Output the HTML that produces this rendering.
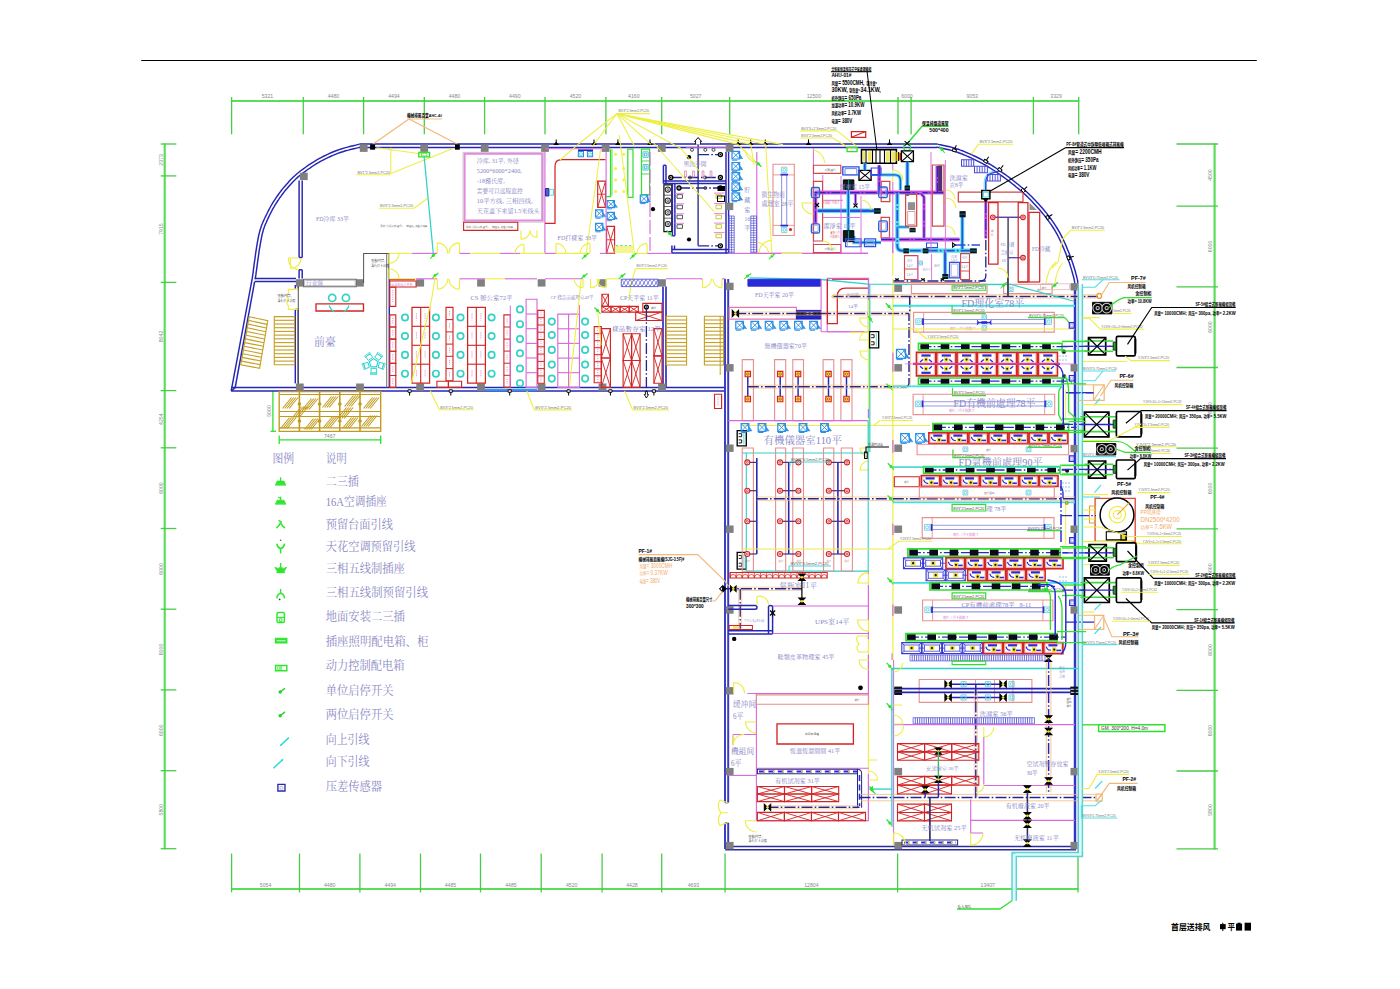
<!DOCTYPE html>
<html><head><meta charset="utf-8"><title>首层送排风平面图</title>
<style>html,body{margin:0;padding:0;background:#fff}svg{display:block}.c0{stroke:#000;stroke-width:1.23;fill:none}.c1{stroke:#5ade5a;stroke-width:2.18;fill:none}.c2{stroke:#46cc46;stroke-width:1.29;fill:none}.c3{stroke:#2fe02f;stroke-width:1.29;fill:none}.c4{stroke:#2626b4;stroke-width:1.46;fill:none}.c5{stroke:#707070;stroke-width:1.01;fill:none}.c6{stroke:#3a3ac4;stroke-width:1.79;fill:none}.c7{stroke:#3a3ac4;stroke-width:1.96;fill:none}.c8{stroke:#3434c4;stroke-width:2.46;fill:none}.c9{stroke:#2c2c98;stroke-width:1.46;fill:none}.c10{stroke:none;fill:#808080}.c11{stroke:#f2b878;stroke-width:1.12;fill:none}.c12{stroke:#f2b878;stroke-width:0.9;fill:none}.c13{stroke:none;fill:#000}.c14{stroke:#eeee44;stroke-width:1.12;fill:none}.c15{stroke:#2fe02f;stroke-width:1.34;fill:none}.c16{stroke:#2fe02f;stroke-width:0.67;fill:none}.c17{stroke:#2cd2cc;stroke-width:1.23;fill:none}.c18{stroke:none;fill:#2fe02f}.c19{stroke:#2fe02f;stroke-width:1.23;fill:none}.c20{stroke:#2fe02f;stroke-width:1.01;fill:none}.c21{stroke:#c8c8c8;stroke-width:0.9;fill:none}.c22{stroke:#e08be0;stroke-width:2.02;fill:none}.c23{stroke:#d22424;stroke-width:1.12;fill:none}.c24{stroke:#d868dc;stroke-width:1.12;fill:none}.c25{stroke:#d868dc;stroke-width:1.01;fill:none}.c26{stroke:#d22424;stroke-width:1.23;fill:none}.c27{stroke:#2a8fe6;stroke-width:1.01;fill:none}.c28{stroke:#2cd2cc;stroke-width:0.67;fill:none}.c29{stroke:#1c1c9c;stroke-width:1.46;fill:none}.c30{stroke:#1c1c9c;stroke-width:0.9;fill:#5a5ad0}.c31{stroke:#2cd2cc;stroke-width:0.78;fill:none}.c32{stroke:#d22424;stroke-width:0.9;fill:none}.c33{stroke:#2a8fe6;stroke-width:1.23;fill:none}.c34{stroke:#2a8fe6;stroke-width:0.9;fill:none}.c35{stroke:#2a8fe6;stroke-width:0.56;fill:#2a8fe6}.c36{stroke:#d868dc;stroke-width:0.9;fill:none}.c37{stroke:#2fe02f;stroke-width:0.78;fill:none}.c38{stroke:none;fill:#f4f03c}.c39{stroke:#2cd2cc;stroke-width:0.9;fill:none}.c40{stroke:#2a8fe6;stroke-width:0.67;fill:none}.c41{stroke:#2fe02f;stroke-width:0.9;fill:none}.c42{stroke:#d868dc;stroke-width:1.12;fill:none;stroke-dasharray:14 3}.c43{stroke:none;fill:#f6f690}.c44{stroke:#2cd2cc;stroke-width:0.9;fill:none;stroke-dasharray:2 2.4}.c45{stroke:#111;stroke-width:1.23;fill:none}.c46{stroke:#222;stroke-width:1.01;fill:none}.c47{stroke:#222;stroke-width:0.67;fill:none}.c48{stroke:#26268c;stroke-width:1.34;fill:none}.c49{stroke:#26268c;stroke-width:1.34;fill:none;stroke-dasharray:11 2.2 1.6 2.2}.c50{stroke:#000;stroke-width:1.34;fill:#fff}.c51{stroke:#333;stroke-width:0.9;fill:none}.c52{stroke:#e078b0;stroke-width:0.78;fill:none}.c53{stroke:#444;stroke-width:0.9;fill:none}.c54{stroke:#e078d0;stroke-width:0.9;fill:none}.c55{stroke:#c8c020;stroke-width:0.9;fill:none}.c56{stroke:#000;stroke-width:1.01;fill:#000}.c57{stroke:#000;stroke-width:1.01;fill:none}.c58{stroke:#000;stroke-width:0.9;fill:#fff}.c59{stroke:#5050d0;stroke-width:0.78;fill:none}.c60{stroke:#5050d0;stroke-width:0.67;fill:none}.c61{stroke:#000;stroke-width:0.56;fill:#000}.c62{stroke:#555;stroke-width:1.01;fill:none}.c63{stroke:#666;stroke-width:1.01;fill:none}.c64{stroke:#aaa;stroke-width:0.67;fill:none}.c65{stroke:#d22424;stroke-width:1.34;fill:none}.c66{stroke:#34d2c6;stroke-width:1.68;fill:none}.c67{stroke:#2cd2cc;stroke-width:1.12;fill:none}.c68{stroke:#c4a024;stroke-width:1.12;fill:none}.c69{stroke:#c4a024;stroke-width:1.01;fill:none}.c70{stroke:#c09a1c;stroke-width:1.34;fill:none}.c71{stroke:#c09a1c;stroke-width:1.57;fill:none}.c72{stroke:#c09a1c;stroke-width:1.23;fill:none}.c73{stroke:none;fill:#c09a1c}.c74{stroke:#c09a1c;stroke-width:1.01;fill:none}.c75{stroke:#d22424;stroke-width:1.01;fill:none}.c76{stroke:#e070c0;stroke-width:0.78;fill:none;stroke-dasharray:1.2 1}.c77{stroke:#2aa0f0;stroke-width:1.79;fill:none}.c78{stroke:#5050d0;stroke-width:0.9;fill:none}.c79{stroke:#5050d0;stroke-width:0.56;fill:none}.c80{stroke:#eeee44;stroke-width:1.01;fill:none}.c81{stroke:#2cd2cc;stroke-width:1.34;fill:none}.c82{stroke:#2a2ad8;stroke-width:0.9;fill:#2a2ad8}.c83{stroke:#e078b0;stroke-width:1.12;fill:none}.c84{stroke:#1c1cb0;stroke-width:0.9;fill:#2424c8}.c85{stroke:none;fill:#111}.c86{stroke:none;fill:#f0e020}.c87{stroke:#26268c;stroke-width:1.46;fill:none;stroke-dasharray:11 2.2 1.6 2.2}.c88{stroke:#f2b878;stroke-width:0.67;fill:none}.c89{stroke:#e89090;stroke-width:1.12;fill:none}.c90{stroke:#d22424;stroke-width:1.12;fill:#f4e23c}.c91{stroke:#c03030;stroke-width:0.67;fill:none}.c92{stroke:#d868dc;stroke-width:1.23;fill:none}.c93{stroke:#eeee44;stroke-width:1.23;fill:none}.c94{stroke:#000;stroke-width:0.9;fill:none}.c95{stroke:#2626b4;stroke-width:1.57;fill:none}.c96{stroke:#503080;stroke-width:1.23;fill:none}.c97{stroke:#d22424;stroke-width:1.12;fill:#fff}.c98{stroke:#d22424;stroke-width:0.78;fill:none}.c99{stroke:#000;stroke-width:1.12;fill:none}.c100{stroke:#d22424;stroke-width:0.67;fill:none}.c101{stroke:#000;stroke-width:1.01;fill:#fff}.c102{stroke:none;fill:#f4e23c}.c103{stroke:#e050a0;stroke-width:1.12;fill:none}.c104{stroke:#28287c;stroke-width:1.01;fill:none}.c105{stroke:#2a2ad8;stroke-width:2.02;fill:none;stroke-dasharray:6 3.4}.c106{stroke:#f0e020;stroke-width:1.34;fill:none;stroke-dasharray:1.6 7.8}.c107{stroke:#2a2ad8;stroke-width:1.57;fill:none;stroke-dasharray:6 3.4}.c108{stroke:#f2b878;stroke-width:0.78;fill:none}.c109{stroke:#2fe02f;stroke-width:0.9;fill:#2fe02f}.c110{stroke:#2fe02f;stroke-width:1.12;fill:none}.c111{stroke:#58c8d8;stroke-width:0.78;fill:none}.c112{stroke:none;fill:#e8d020}.c113{stroke:#40e0e0;stroke-width:1.9;fill:none}.c114{stroke:#444;stroke-width:1.79;fill:none}.c115{stroke:#e89090;stroke-width:0.9;fill:none}.c116{stroke:#9a9ae0;stroke-width:1.12;fill:none}.c117{stroke:#2a2ad8;stroke-width:1.79;fill:none}.c118{stroke:#2a2ad8;stroke-width:1.12;fill:none}.c119{stroke:none;fill:#2a2ad8}.c120{stroke:#2a2ad8;stroke-width:1.01;fill:none}.c121{stroke:#2a2ad8;stroke-width:1.23;fill:none}.c122{stroke:#9a9ae0;stroke-width:0.67;fill:none}.c123{stroke:#2fe02f;stroke-width:1.68;fill:none}.c124{stroke:#2a2ad0;stroke-width:1.34;fill:none;stroke-dasharray:11 2.2 1.6 2.2}.c125{stroke:none;fill:#0a0a18}.c126{stroke:#d22424;stroke-width:1.68;fill:none}.c127{stroke:#f0b0a0;stroke-width:0.78;fill:none}.c128{stroke:none;fill:#f2e030}.c129{stroke:#2a2ad8;stroke-width:1.34;fill:none}.c130{stroke:#d0205c;stroke-width:2.24;fill:none}.c131{stroke:#e070e0;stroke-width:0.78;fill:none}.c132{stroke:#1c6c1c;stroke-width:0.9;fill:#111}.c133{stroke:#2a2ad8;stroke-width:1.57;fill:none}.c134{stroke:#2cd2cc;stroke-width:1.46;fill:none}.c135{stroke:#40e0e0;stroke-width:1.68;fill:none}.c136{stroke:#3a3ad0;stroke-width:1.12;fill:none}.c137{stroke:#3a3ad0;stroke-width:0.9;fill:none}.c138{stroke:#3a3ad0;stroke-width:0.78;fill:none}.c139{stroke:#40e0e0;stroke-width:1.79;fill:none}.c140{stroke:#5a5ad8;stroke-width:0.78;fill:none}.c141{stroke:#5a5ad8;stroke-width:0.9;fill:none}.c142{stroke:#2fe02f;stroke-width:1.46;fill:none}.c143{stroke:none;fill:#e02020}.c144{stroke:#d04848;stroke-width:1.12;fill:none}.c145{stroke:#d04848;stroke-width:1.23;fill:none}.c146{stroke:#000;stroke-width:1.57;fill:#fff}.c147{stroke:none;fill:#f0e860}.c148{stroke:#000;stroke-width:1.34;fill:none}.c149{stroke:#000;stroke-width:1.08;fill:none}.c150{stroke:#50e0e8;stroke-width:3.8000000000000003;fill:none}.c151{stroke:#2a50e0;stroke-width:1.79;fill:none}.c152{stroke:#50e0e8;stroke-width:4.0;fill:none}.c153{stroke:#2a50e0;stroke-width:2.02;fill:none}.c154{stroke:#e060e0;stroke-width:4.0;fill:none}.c155{stroke:#a040d8;stroke-width:2.24;fill:none}.c156{stroke:#2828c0;stroke-width:1.12;fill:none;stroke-dasharray:11 2.2 1.6 2.2}.c157{stroke:#e060e0;stroke-width:3.8;fill:none}.c158{stroke:#a040d8;stroke-width:2.02;fill:none}.c159{stroke:#e060e0;stroke-width:3.2;fill:none}.c160{stroke:#a040d8;stroke-width:1.34;fill:none}.c161{stroke:#50e0e8;stroke-width:4.6;fill:none}.c162{stroke:#2a50e0;stroke-width:2.4;fill:none}.c163{stroke:#50e0e8;stroke-width:3.6;fill:none}.c164{stroke:#2a50e0;stroke-width:1.57;fill:none}.c165{stroke:#50e0e8;stroke-width:3.4000000000000004;fill:none}.c166{stroke:#2a50e0;stroke-width:1.34;fill:none}.c167{stroke:#50e0e8;stroke-width:3.4;fill:none}.c168{stroke:#50e0e8;stroke-width:4.2;fill:none}.c169{stroke:#2a50e0;stroke-width:1.79;fill:none;stroke-dasharray:11 2.2 1.6 2.2}.c170{stroke:#50e0e8;stroke-width:3.2;fill:none}.c171{stroke:#2a50e0;stroke-width:1.12;fill:none}.c172{stroke:#2a50e0;stroke-width:1.46;fill:none;stroke-dasharray:11 2.2 1.6 2.2}.c173{stroke:#000;stroke-width:0.9;fill:#0c1a20}.c174{stroke:#20a090;stroke-width:0.9;fill:none}.c175{stroke:none;fill:#0a1420}.c176{stroke:#1c8c7c;stroke-width:0.78;fill:none}.c177{stroke:#5a7ae8;stroke-width:0.9;fill:none}.c178{stroke:#2a50e0;stroke-width:1.23;fill:none}.c179{stroke:#9a9ae0;stroke-width:0.78;fill:none}.c180{stroke:#2a60d8;stroke-width:1.34;fill:none}.c181{stroke:none;fill:#909090}.c182{stroke:#e09090;stroke-width:0.9;fill:none}.c183{stroke:none;fill:#503070}.c184{stroke:#e060e0;stroke-width:2.5999999999999996;fill:none}.c185{stroke:#a040d8;stroke-width:0.67;fill:none}.c186{stroke:#d04848;stroke-width:1.01;fill:none}.c187{stroke:#d04848;stroke-width:0.9;fill:none}.c188{stroke:#26268c;stroke-width:1.57;fill:none;stroke-dasharray:11 2.2 1.6 2.2}.c189{stroke:#e04040;stroke-width:0.78;fill:none}.c190{stroke:#26268c;stroke-width:1.46;fill:none}.c191{stroke:#000;stroke-width:1.46;fill:#fff}.c192{stroke:#50e0e8;stroke-width:1.01;fill:none}.c193{stroke:#000;stroke-width:0.67;fill:#000}.c194{stroke:#50e0e8;stroke-width:0.9;fill:none}.c195{stroke:#4a4ad8;stroke-width:1.01;fill:none}.c196{stroke:#4a4ad8;stroke-width:0.9;fill:none}.c197{stroke:#6040a0;stroke-width:1.46;fill:none}.c198{stroke:#505068;stroke-width:1.57;fill:none}.c199{stroke:#6040a0;stroke-width:1.34;fill:none}.c200{stroke:#f0b0b0;stroke-width:0.78;fill:none}.c201{stroke:none;fill:#d8fcfc}.c202{stroke:#62c4cc;stroke-width:1.46;fill:none}.c203{stroke:#62d0d0;stroke-width:1.46;fill:none}.c204{stroke:#50e0e8;stroke-width:1.12;fill:none}.c205{stroke:#f0a040;stroke-width:1.34;fill:none}.c206{stroke:#000;stroke-width:0.9;fill:#0a0a0a}.c207{stroke:#d8d8d8;stroke-width:1.01;fill:#0a0a0a}.c208{stroke:none;fill:#bdbdbd}.c209{stroke:#000;stroke-width:1.68;fill:#fff}.c210{stroke:#3cd83c;stroke-width:1.57;fill:none}.c211{stroke:#2a2ad0;stroke-width:1.34;fill:none}.c212{stroke:#000;stroke-width:1.79;fill:none}.c213{stroke:#0c300c;stroke-width:0.9;fill:#28a028}.c214{stroke:#f2b878;stroke-width:1.23;fill:none}.c215{stroke:#f2b878;stroke-width:1.01;fill:none}.c216{stroke:#50e0e8;stroke-width:1.23;fill:none}.c217{stroke:#e04838;stroke-width:1.34;fill:none}.c218{stroke:#000;stroke-width:1.12;fill:#fff}.c219{stroke:#000;stroke-width:1.12;fill:#e8d820}.c220{stroke:#f0a040;stroke-width:1.12;fill:none}.c221{stroke:#e8a040;stroke-width:1.12;fill:none}.c222{stroke:#50e0e8;stroke-width:1.34;fill:none}.c223{stroke:#2424b8;stroke-width:1.68;fill:none}.c224{stroke:#2424b8;stroke-width:1.46;fill:none}.c225{stroke:#2424b8;stroke-width:1.46;fill:none;stroke-dasharray:11 2.2 1.6 2.2}.c226{stroke:#30c060;stroke-width:1.34;fill:none}.c227{stroke:#2424b8;stroke-width:1.34;fill:none}.c228{stroke:#303070;stroke-width:1.68;fill:none}.c229{stroke:#2a2ad8;stroke-width:2.02;fill:none;stroke-dasharray:5.4 3.2}.c230{stroke:#f0e020;stroke-width:1.34;fill:none;stroke-dasharray:1.6 7}.c231{stroke:#303070;stroke-width:1.57;fill:none}.c232{stroke:#2ee62e;stroke-width:1.34;fill:none}.c233{stroke:#2ee62e;stroke-width:0.67;fill:#2ee62e}.c234{stroke:#2ee62e;stroke-width:1.23;fill:none}.c235{stroke:#2ee62e;stroke-width:1.12;fill:none}.c236{stroke:#2ee62e;stroke-width:1.46;fill:none}.c237{stroke:none;fill:#307030}.c238{stroke:none;fill:#305030}.c239{stroke:#2ee62e;stroke-width:0.9;fill:none}.c240{stroke:#2ee62e;stroke-width:1.12;fill:#2ee62e}.c241{stroke:#e8ffe8;stroke-width:1.01;fill:none}.c242{stroke:#2ee62e;stroke-width:0.67;fill:none}.c243{stroke:none;fill:#28d028}.c244{stroke:#28d028;stroke-width:1.46;fill:none}.c245{stroke:#28d8d8;stroke-width:1.46;fill:none}.c246{stroke:none;fill:#28d8d8}.c247{stroke:#2828a8;stroke-width:1.34;fill:none}.c248{stroke:#a0a0dc;stroke-width:0.67;fill:none}.c249{stroke:#2a2ad0;stroke-width:1.46;fill:none}.c250{stroke:#2a2ad0;stroke-width:1.46;fill:none;stroke-dasharray:11 2.2 1.6 2.2}.c251{stroke:#806020;stroke-width:0.67;fill:#f0e020}.c252{stroke:#70b8e8;stroke-width:0.78;fill:none;stroke-dasharray:2 1}.c253{stroke:#40e0e0;stroke-width:1.34;fill:none}</style>
</head><body>
<svg width="1400" height="989" viewBox="0 0 1400 989" stroke-linecap="butt" fill="none">
<rect x="0" y="0" width="1400" height="989" fill="#fff"/>
<path class="c0" d="M141.2 60.5L1256.8 60.5"/>
<path class="c1" d="M231 101L1079.3 101"/>
<path class="c2" d="M231.6 97L231.6 134.3"/>
<path class="c2" d="M303.3 97L303.3 134.3"/>
<path class="c2" d="M363.6 97L363.6 134.3"/>
<path class="c2" d="M424.3 97L424.3 134.3"/>
<path class="c2" d="M484.6 97L484.6 134.3"/>
<path class="c2" d="M545 97L545 134.3"/>
<path class="c2" d="M605.9 97L605.9 134.3"/>
<path class="c2" d="M661.7 97L661.7 134.3"/>
<path class="c2" d="M729.7 97L729.7 134.3"/>
<path class="c2" d="M898 97L898 134.3"/>
<path class="c2" d="M911.1 97L911.1 134.3"/>
<path class="c2" d="M1033.4 97L1033.4 134.3"/>
<path class="c2" d="M1078.7 97L1078.7 134.3"/>
<text x="267.4" y="98.3" font-size="5.2" fill="#8a8a8a" text-anchor="middle" font-family="Liberation Sans, sans-serif">5321</text>
<text x="333.5" y="98.3" font-size="5.2" fill="#8a8a8a" text-anchor="middle" font-family="Liberation Sans, sans-serif">4480</text>
<text x="394" y="98.3" font-size="5.2" fill="#8a8a8a" text-anchor="middle" font-family="Liberation Sans, sans-serif">4494</text>
<text x="454.5" y="98.3" font-size="5.2" fill="#8a8a8a" text-anchor="middle" font-family="Liberation Sans, sans-serif">4480</text>
<text x="514.8" y="98.3" font-size="5.2" fill="#8a8a8a" text-anchor="middle" font-family="Liberation Sans, sans-serif">4490</text>
<text x="575.5" y="98.3" font-size="5.2" fill="#8a8a8a" text-anchor="middle" font-family="Liberation Sans, sans-serif">4520</text>
<text x="633.8" y="98.3" font-size="5.2" fill="#8a8a8a" text-anchor="middle" font-family="Liberation Sans, sans-serif">4160</text>
<text x="695.7" y="98.3" font-size="5.2" fill="#8a8a8a" text-anchor="middle" font-family="Liberation Sans, sans-serif">5027</text>
<text x="813.9" y="98.3" font-size="5.2" fill="#8a8a8a" text-anchor="middle" font-family="Liberation Sans, sans-serif">12500</text>
<text x="907" y="98.3" font-size="5.2" fill="#8a8a8a" text-anchor="middle" font-family="Liberation Sans, sans-serif">6000</text>
<text x="972.2" y="98.3" font-size="5.2" fill="#8a8a8a" text-anchor="middle" font-family="Liberation Sans, sans-serif">9053</text>
<text x="1056.1" y="98.3" font-size="5.2" fill="#8a8a8a" text-anchor="middle" font-family="Liberation Sans, sans-serif">3329</text>
<path class="c1" d="M231 889L1078.6 889"/>
<path class="c2" d="M231.6 853.5L231.6 892.4"/>
<path class="c2" d="M299.5 853.5L299.5 892.4"/>
<path class="c2" d="M359.9 853.5L359.9 892.4"/>
<path class="c2" d="M420.5 853.5L420.5 892.4"/>
<path class="c2" d="M480.5 853.5L480.5 892.4"/>
<path class="c2" d="M541.2 853.5L541.2 892.4"/>
<path class="c2" d="M602.1 853.5L602.1 892.4"/>
<path class="c2" d="M661.7 853.5L661.7 892.4"/>
<path class="c2" d="M725.1 853.5L725.1 892.4"/>
<path class="c2" d="M897.6 853.5L897.6 892.4"/>
<path class="c2" d="M1078 853.5L1078 892.4"/>
<text x="265.6" y="886.6" font-size="5.2" fill="#8a8a8a" text-anchor="middle" font-family="Liberation Sans, sans-serif">5054</text>
<text x="329.7" y="886.6" font-size="5.2" fill="#8a8a8a" text-anchor="middle" font-family="Liberation Sans, sans-serif">4480</text>
<text x="390.2" y="886.6" font-size="5.2" fill="#8a8a8a" text-anchor="middle" font-family="Liberation Sans, sans-serif">4494</text>
<text x="450.5" y="886.6" font-size="5.2" fill="#8a8a8a" text-anchor="middle" font-family="Liberation Sans, sans-serif">4485</text>
<text x="510.9" y="886.6" font-size="5.2" fill="#8a8a8a" text-anchor="middle" font-family="Liberation Sans, sans-serif">4485</text>
<text x="571.7" y="886.6" font-size="5.2" fill="#8a8a8a" text-anchor="middle" font-family="Liberation Sans, sans-serif">4520</text>
<text x="631.9" y="886.6" font-size="5.2" fill="#8a8a8a" text-anchor="middle" font-family="Liberation Sans, sans-serif">4428</text>
<text x="693.4" y="886.6" font-size="5.2" fill="#8a8a8a" text-anchor="middle" font-family="Liberation Sans, sans-serif">4693</text>
<text x="811.4" y="886.6" font-size="5.2" fill="#8a8a8a" text-anchor="middle" font-family="Liberation Sans, sans-serif">12804</text>
<text x="987.8" y="886.6" font-size="5.2" fill="#8a8a8a" text-anchor="middle" font-family="Liberation Sans, sans-serif">13407</text>
<path class="c1" d="M164.7 143.5L164.7 849.2"/>
<path class="c2" d="M160.7 144L176.3 144"/>
<path class="c2" d="M160.7 175.9L176.3 175.9"/>
<path class="c2" d="M160.7 282.4L176.3 282.4"/>
<path class="c2" d="M160.7 390.6L176.3 390.6"/>
<path class="c2" d="M160.7 447.8L176.3 447.8"/>
<path class="c2" d="M160.7 528.5L176.3 528.5"/>
<path class="c2" d="M160.7 609.2L176.3 609.2"/>
<path class="c2" d="M160.7 689.9L176.3 689.9"/>
<path class="c2" d="M160.7 770.7L176.3 770.7"/>
<path class="c2" d="M160.7 848.7L176.3 848.7"/>
<text transform="translate(163.2 159.9) rotate(-90)" font-size="5.2" fill="#8a8a8a" text-anchor="middle" font-family="Liberation Sans, sans-serif">2373</text>
<text transform="translate(163.2 229.1) rotate(-90)" font-size="5.2" fill="#8a8a8a" text-anchor="middle" font-family="Liberation Sans, sans-serif">7915</text>
<text transform="translate(163.2 336.5) rotate(-90)" font-size="5.2" fill="#8a8a8a" text-anchor="middle" font-family="Liberation Sans, sans-serif">8042</text>
<text transform="translate(163.2 419.2) rotate(-90)" font-size="5.2" fill="#8a8a8a" text-anchor="middle" font-family="Liberation Sans, sans-serif">4254</text>
<text transform="translate(163.2 488.1) rotate(-90)" font-size="5.2" fill="#8a8a8a" text-anchor="middle" font-family="Liberation Sans, sans-serif">6000</text>
<text transform="translate(163.2 568.9) rotate(-90)" font-size="5.2" fill="#8a8a8a" text-anchor="middle" font-family="Liberation Sans, sans-serif">6000</text>
<text transform="translate(163.2 649.5) rotate(-90)" font-size="5.2" fill="#8a8a8a" text-anchor="middle" font-family="Liberation Sans, sans-serif">6000</text>
<text transform="translate(163.2 730.3) rotate(-90)" font-size="5.2" fill="#8a8a8a" text-anchor="middle" font-family="Liberation Sans, sans-serif">6000</text>
<text transform="translate(163.2 809.7) rotate(-90)" font-size="5.2" fill="#8a8a8a" text-anchor="middle" font-family="Liberation Sans, sans-serif">5800</text>
<path class="c1" d="M1214.6 143.5L1214.6 849.4"/>
<path class="c2" d="M1176.5 144L1218 144"/>
<path class="c2" d="M1176.5 206.1L1218 206.1"/>
<path class="c2" d="M1176.5 286.8L1218 286.8"/>
<path class="c2" d="M1176.5 367.5L1218 367.5"/>
<path class="c2" d="M1176.5 448.2L1218 448.2"/>
<path class="c2" d="M1176.5 528.9L1218 528.9"/>
<path class="c2" d="M1176.5 609.6L1218 609.6"/>
<path class="c2" d="M1176.5 690.3L1218 690.3"/>
<path class="c2" d="M1176.5 771L1218 771"/>
<path class="c2" d="M1176.5 848.9L1218 848.9"/>
<text transform="translate(1212.4 175.1) rotate(-90)" font-size="5.2" fill="#8a8a8a" text-anchor="middle" font-family="Liberation Sans, sans-serif">4500</text>
<text transform="translate(1212.4 246.4) rotate(-90)" font-size="5.2" fill="#8a8a8a" text-anchor="middle" font-family="Liberation Sans, sans-serif">6000</text>
<text transform="translate(1212.4 327.1) rotate(-90)" font-size="5.2" fill="#8a8a8a" text-anchor="middle" font-family="Liberation Sans, sans-serif">6000</text>
<text transform="translate(1212.4 407.9) rotate(-90)" font-size="5.2" fill="#8a8a8a" text-anchor="middle" font-family="Liberation Sans, sans-serif">6000</text>
<text transform="translate(1212.4 488.5) rotate(-90)" font-size="5.2" fill="#8a8a8a" text-anchor="middle" font-family="Liberation Sans, sans-serif">6000</text>
<text transform="translate(1212.4 569.2) rotate(-90)" font-size="5.2" fill="#8a8a8a" text-anchor="middle" font-family="Liberation Sans, sans-serif">6000</text>
<text transform="translate(1212.4 650) rotate(-90)" font-size="5.2" fill="#8a8a8a" text-anchor="middle" font-family="Liberation Sans, sans-serif">6000</text>
<text transform="translate(1212.4 730.6) rotate(-90)" font-size="5.2" fill="#8a8a8a" text-anchor="middle" font-family="Liberation Sans, sans-serif">6000</text>
<text transform="translate(1212.4 810) rotate(-90)" font-size="5.2" fill="#8a8a8a" text-anchor="middle" font-family="Liberation Sans, sans-serif">5800</text>
<path class="c3" d="M272.9 391.3L272.9 431.3"/>
<path class="c3" d="M270.5 431.3L276 431.3"/>
<text transform="translate(270.8 411) rotate(-90)" font-size="5.2" fill="#8a8a8a" text-anchor="middle" font-family="Liberation Sans, sans-serif">5000</text>
<path class="c3" d="M279.2 439.8L380.7 439.8"/>
<path class="c3" d="M279.2 435.5L279.2 444"/>
<path class="c3" d="M380.7 435.5L380.7 444"/>
<text x="329.7" y="438" font-size="5.2" fill="#8a8a8a" text-anchor="middle" font-family="Liberation Sans, sans-serif">7467</text>
<path class="c4" d="M359.4 144.1L937.3 144.1"/>
<path class="c4" d="M359.4 147.4L937.3 147.4"/>
<path class="c4" d="M359.4 144.2L357.8 144.6L355.8 145.1L353.3 145.7L350.6 146.3L347.7 147.1L344.7 147.9L341.9 148.7L339.2 149.6L336.7 150.5L334.1 151.5L331.6 152.5L329.1 153.6L326.6 154.8L324.1 156L321.5 157.3L319 158.7L316.4 160.2L313.8 161.8L311.2 163.4L308.5 165.2L305.9 167L303.4 168.8L301 170.5L298.8 172.3L296.7 174L294.8 175.8L292.9 177.5L291.1 179.3L289.4 181.1L287.8 182.9L286.2 184.7L284.6 186.5L283 188.4L281.5 190.2L280.1 192.1L278.7 194L277.3 196L276 197.9L274.7 199.8L273.5 201.7L272.3 203.6L271.2 205.5L270.1 207.5L269.1 209.4L268.1 211.3L267.2 213.2L266.3 215L265.4 216.8L264.6 218.5L263.8 220.1L263.1 221.7L262.5 223.3L261.8 224.8L261.2 226.5L260.7 228.2L260.1 230L259.6 231.9L259.1 233.9L258.6 235.9L258.2 238L257.8 240.2L257.4 242.4L257 244.8L256.6 247.2L256.2 249.9L255.7 252.9L255.3 256L254.9 259.2L254.4 262.3L254 265.2L253.7 267.8L253.4 270L253.2 271.8L253 273.2L252.8 274.5L252.7 275.5L252.5 276.3L252.4 277L252.4 277.6L252.3 278.1L231.2 390.8"/>
<path class="c4" d="M360.2 147.2L358.6 147.6L356.5 148.1L354 148.7L351.3 149.3L348.4 150.1L345.6 150.8L342.8 151.7L340.2 152.5L337.8 153.4L335.3 154.4L332.8 155.4L330.4 156.5L327.9 157.6L325.4 158.8L323 160.1L320.5 161.4L318 162.8L315.4 164.4L312.8 166L310.3 167.8L307.7 169.5L305.3 171.3L302.9 173L300.8 174.7L298.7 176.4L296.8 178.1L295.1 179.8L293.3 181.5L291.7 183.2L290.1 184.9L288.5 186.7L287 188.5L285.4 190.3L284 192.1L282.6 194L281.2 195.9L279.8 197.7L278.6 199.6L277.3 201.5L276.1 203.4L275 205.2L273.9 207.1L272.8 208.9L271.8 210.8L270.9 212.7L269.9 214.5L269 216.4L268.2 218.1L267.4 219.8L266.7 221.4L266 223L265.3 224.5L264.7 226L264.2 227.5L263.6 229.1L263.1 230.9L262.6 232.7L262.1 234.6L261.7 236.6L261.3 238.6L260.9 240.7L260.5 242.9L260.1 245.3L259.7 247.7L259.2 250.4L258.8 253.3L258.4 256.4L257.9 259.6L257.5 262.7L257.1 265.6L256.8 268.2L256.5 270.4L256.2 272.2L256 273.7L255.9 274.9L255.7 275.9L255.6 276.7L255.5 277.4L255.4 278L255.4 278.5L254.9 279"/>
<path class="c4" d="M254.6 281.8L235.2 387.5"/>
<path class="c4" d="M937.3 144.1L938.6 144.4L940.4 144.7L942.5 145.2L944.8 145.7L947.2 146.2L949.7 146.8L952.1 147.4L954.3 148L956.4 148.7L958.4 149.3L960.4 150.1L962.4 150.8L964.4 151.6L966.4 152.5L968.4 153.3L970.4 154.2L972.4 155.1L974.4 156L976.5 157L978.5 158L980.5 159L982.5 160.1L984.6 161.2L986.6 162.3L988.6 163.5L990.6 164.7L992.6 165.9L994.6 167.2L996.6 168.5L998.6 169.9L1000.7 171.3L1002.8 172.8L1005 174.4L1007.2 176L1009.5 177.7L1011.8 179.4L1014.1 181.2L1016.3 183L1018.5 184.8L1020.6 186.5L1022.6 188.2L1024.5 189.9L1026.3 191.5L1028.1 193.2L1029.9 194.9L1031.6 196.6L1033.4 198.4L1035.2 200.3L1037 202.3L1038.9 204.3L1040.8 206.4L1042.7 208.6L1044.5 210.7L1046.3 212.9L1048 215.1L1049.7 217.3L1051.3 219.5L1052.8 221.6L1054.2 223.7L1055.6 225.8L1057 228L1058.4 230.3L1059.7 232.6L1061 235.1L1062.3 237.7L1063.7 240.5L1065 243.4L1066.3 246.4L1067.5 249.4L1068.7 252.3L1069.8 255.1L1070.8 257.7L1071.7 260.2L1072.6 262.7L1073.4 265.2L1074.1 267.5L1074.8 269.7L1075.4 271.8L1075.9 273.8L1076.4 275.5L1076.8 277L1077.1 278.4L1077.4 279.6L1077.6 280.7L1077.7 281.6L1077.8 282.4L1077.9 283L1078 283.6"/>
<path class="c4" d="M936.6 147.1L938 147.4L939.8 147.8L941.8 148.2L944.1 148.7L946.6 149.2L949 149.8L951.3 150.4L953.4 151L955.4 151.6L957.4 152.3L959.3 153L961.3 153.7L963.2 154.5L965.2 155.3L967.2 156.2L969.1 157L971.1 157.9L973.1 158.8L975.1 159.8L977.1 160.8L979.1 161.8L981.1 162.8L983.1 163.9L985.1 165L987 166.1L989 167.3L990.9 168.5L992.9 169.8L994.9 171.1L996.9 172.5L998.9 173.9L1001 175.3L1003.2 176.9L1005.4 178.5L1007.6 180.2L1009.9 181.9L1012.2 183.7L1014.4 185.4L1016.5 187.2L1018.6 188.9L1020.5 190.5L1022.4 192.2L1024.2 193.8L1026 195.4L1027.7 197.1L1029.4 198.8L1031.2 200.6L1032.9 202.4L1034.8 204.4L1036.6 206.4L1038.5 208.5L1040.3 210.6L1042.1 212.7L1043.9 214.9L1045.6 217L1047.2 219.2L1048.8 221.3L1050.2 223.4L1051.7 225.4L1053 227.5L1054.4 229.7L1055.7 231.8L1057 234.1L1058.2 236.5L1059.5 239.1L1060.8 241.8L1062.1 244.7L1063.4 247.6L1064.6 250.5L1065.8 253.4L1066.9 256.2L1067.9 258.8L1068.8 261.3L1069.7 263.7L1070.4 266.1L1071.1 268.4L1071.8 270.6L1072.4 272.7L1072.9 274.6L1073.4 276.3L1073.8 277.8L1074.1 279.1L1074.3 280.2L1074.5 281.2L1074.6 282L1074.7 282.8L1074.9 284"/>
<path class="c4" d="M231.2 387.6L725.3 387.6"/>
<path class="c4" d="M231.2 391L725.3 391"/>
<path class="c4" d="M231.2 391L235.2 387.6"/>
<path class="c4" d="M254.6 278.6L296 278.6"/>
<path class="c4" d="M254.6 281.6L296 281.6"/>
<path class="c4" d="M299.1 180.5L299.1 257.5"/>
<path class="c4" d="M302.2 180.5L302.2 257.5"/>
<path class="c4" d="M299.1 257.5L302.2 257.5"/>
<path class="c4" d="M299.1 269.8L299.1 278.6"/>
<path class="c4" d="M302.2 269.8L302.2 278.6"/>
<path class="c4" d="M299.1 269.8L302.2 269.8"/>
<path class="c4" d="M295.3 285L295.3 288.6"/>
<path class="c4" d="M298.2 285L298.2 288.6"/>
<path class="c4" d="M295.3 309.4L295.3 383.4"/>
<path class="c4" d="M298.2 309.4L298.2 383.4"/>
<path class="c4" d="M295.3 309.4L298.2 309.4"/>
<path class="c5" d="M386.7 253.4L386.7 387.6"/>
<path class="c4" d="M389.3 279L389.3 387.6"/>
<path class="c6" d="M663 286.5L663 387.6"/>
<path class="c6" d="M666 286.5L666 387.6"/>
<path class="c7" d="M725 279L725 802.6"/>
<path class="c7" d="M728.2 279L728.2 802.6"/>
<path class="c7" d="M725 822.9L725 849"/>
<path class="c7" d="M728.2 822.9L728.2 849"/>
<path class="c4" d="M725.2 802.6L728.2 802.6"/>
<path class="c4" d="M725.2 822.9L728.2 822.9"/>
<path class="c8" d="M1075 290L1075 849"/>
<path class="c9" d="M725.2 846.4L1076 846.4"/>
<path class="c9" d="M725.2 849.7L1076 849.7"/>
<path class="c4" d="M663.4 165.3L663.4 183.6"/>
<path class="c4" d="M666 165.3L666 183.6"/>
<path class="c4" d="M663.4 181L726 181"/>
<path class="c4" d="M663.4 183.6L726 183.6"/>
<path class="c4" d="M726 152L726 253.3"/>
<path class="c4" d="M728.6 152L728.6 253.3"/>
<path class="c4" d="M671.9 249.4L728.6 249.4"/>
<path class="c4" d="M671.9 253L728.6 253"/>
<path class="c4" d="M671.9 245.5L671.9 253"/>
<path class="c4" d="M674.5 245.5L674.5 249.4"/>
<path class="c4" d="M663.4 165.3L666 165.3"/>
<path class="c10" d="M359.8 144.5h7.8v7.4h-7.8z"/>
<path class="c10" d="M420.3 144.5h7.8v7.4h-7.8z"/>
<path class="c10" d="M480.8 144.5h7.8v7.4h-7.8z"/>
<path class="c10" d="M541.1 144.5h7.8v7.4h-7.8z"/>
<path class="c10" d="M601.7 144.5h7.8v7.4h-7.8z"/>
<path class="c10" d="M657.9 144.5h7.8v7.4h-7.8z"/>
<path class="c10" d="M725.7 144.5h7.8v7.4h-7.8z"/>
<path class="c10" d="M299.9 172.7h7.8v7.4h-7.8z"/>
<path class="c10" d="M295.9 279.2h7.8v7.4h-7.8z"/>
<path class="c10" d="M356.1 279.2h7.8v7.4h-7.8z"/>
<path class="c10" d="M416.3 279.2h7.8v7.4h-7.8z"/>
<path class="c10" d="M477.1 279.2h7.8v7.4h-7.8z"/>
<path class="c10" d="M537.7 279.2h7.8v7.4h-7.8z"/>
<path class="c10" d="M598.6 279.2h7.8v7.4h-7.8z"/>
<path class="c10" d="M658.1 279.2h7.8v7.4h-7.8z"/>
<path class="c10" d="M295.9 383.5h7.8v7.4h-7.8z"/>
<path class="c10" d="M356.1 383.5h7.8v7.4h-7.8z"/>
<path class="c10" d="M416.3 383.5h7.8v7.4h-7.8z"/>
<path class="c10" d="M477.1 383.5h7.8v7.4h-7.8z"/>
<path class="c10" d="M537.7 383.5h7.8v7.4h-7.8z"/>
<path class="c10" d="M598.6 383.5h7.8v7.4h-7.8z"/>
<path class="c10" d="M658.1 383.5h7.8v7.4h-7.8z"/>
<path class="c10" d="M725.8 282.7h7.8v7.4h-7.8z"/>
<path class="c10" d="M725.8 364.1h7.8v7.4h-7.8z"/>
<path class="c10" d="M725.8 444.5h7.8v7.4h-7.8z"/>
<path class="c10" d="M725.8 525.5h7.8v7.4h-7.8z"/>
<path class="c10" d="M725.8 606.3h7.8v7.4h-7.8z"/>
<path class="c10" d="M725.8 687.1h7.8v7.4h-7.8z"/>
<path class="c10" d="M725.8 767.9h7.8v7.4h-7.8z"/>
<path class="c10" d="M725.8 841.9h7.8v7.4h-7.8z"/>
<path class="c10" d="M894.3 284.5h7.8v7.4h-7.8z"/>
<path class="c10" d="M894.3 364.1h7.8v7.4h-7.8z"/>
<path class="c10" d="M894.3 444.5h7.8v7.4h-7.8z"/>
<path class="c10" d="M894.3 525.5h7.8v7.4h-7.8z"/>
<path class="c10" d="M894.3 606.3h7.8v7.4h-7.8z"/>
<path class="c10" d="M894.3 767.9h7.8v7.4h-7.8z"/>
<path class="c10" d="M894.3 841.9h7.8v7.4h-7.8z"/>
<path class="c10" d="M1070.5 283.1h7.8v7.4h-7.8z"/>
<path class="c10" d="M1070.5 364.1h7.8v7.4h-7.8z"/>
<path class="c10" d="M1070.5 444.9h7.8v7.4h-7.8z"/>
<path class="c10" d="M1070.5 525.5h7.8v7.4h-7.8z"/>
<path class="c10" d="M1070.5 606.3h7.8v7.4h-7.8z"/>
<path class="c10" d="M1070.5 767.9h7.8v7.4h-7.8z"/>
<path class="c10" d="M1070.5 841.9h7.8v7.4h-7.8z"/>
<path class="c10" d="M725.5 202.7h7.8v7.4h-7.8z"/>
<path class="c11" d="M372.5 144.5L409 119L458 144.5"/>
<path class="c12" d="M409 119L442 119"/>
<g transform="translate(407.0 117.4) scale(0.828 1)" fill="#000" stroke="none"><text x="0" y="0" font-size="4.4" font-weight="bold" font-family="Liberation Sans, Noto Sans CJK SC, sans-serif">機械排風百葉</text><text x="26.40" y="0" font-size="4.40" font-family="Liberation Sans, sans-serif" font-weight="bold" xml:space="preserve">AHC-4#</text></g>
<path class="c13" d="M370.1 144.3h5v5.4h-5z"/>
<path class="c13" d="M455 144.3h4.8v5.4h-4.8z"/>
<path class="c14" d="M376.6 147.8L424 154.3"/>
<path class="c14" d="M390.8 147.8L390.8 173.6"/>
<path class="c14" d="M390.8 173.6L453.5 148.2"/>
<path class="c14" d="M356.4 174.8L390.8 174.8"/>
<text x="357.4" y="173.6" font-size="4.2" fill="#777" text-anchor="start" font-family="Liberation Sans, sans-serif" textLength="32.4" lengthAdjust="spacingAndGlyphs">BV1*2.5mm2-PC20</text>
<path class="c14" d="M414 208.2L427.8 198"/>
<path class="c14" d="M379 208.2L414 208.2"/>
<text x="380" y="207" font-size="4.2" fill="#777" text-anchor="start" font-family="Liberation Sans, sans-serif" textLength="33" lengthAdjust="spacingAndGlyphs">BV3*2.5mm2-PC20</text>
<g transform="translate(380.3 227.0) scale(0.932 1)" fill="#222" stroke="none" font-size="2.6" font-family="Liberation Serif, Noto Serif CJK SC, serif"><text x="0" y="0">说明</text><text x="5.20" y="0" font-size="2.60" font-family="Liberation Sans, sans-serif" xml:space="preserve">: </text><text x="6.64" y="0">冷库内部</text><text x="17.04" y="0" font-size="2.60" font-family="Liberation Sans, sans-serif" xml:space="preserve"> </text><text x="17.77" y="0">插座、三相插头</text><text x="35.97" y="0" font-size="2.60" font-family="Liberation Sans, sans-serif" xml:space="preserve">, </text><text x="37.41" y="0">预留引线图</text></g>
<path class="c15" d="M418.8 152.3h10.8v4.6h-10.8z"/>
<path class="c16" d="M421.5 153.4h5.5v2.5h-5.5z"/>
<path class="c17" d="M424.2 157L433.4 254.6"/>
<circle class="c18" cx="433.2" cy="255.6" r="1.5"/>
<path class="c19" d="M433.2 255.6L436.4 252.8"/>
<path class="c20" d="M433.2 255.6L430.3 258.7"/>
<circle class="c18" cx="435" cy="275.6" r="1.5"/>
<path class="c19" d="M435 275.6L438.4 273"/>
<path class="c20" d="M435 275.6L431.9 278.5"/>
<path class="c21" d="M463 152.4h80.6v69.8h-80.6z"/>
<path class="c22" d="M464.6 153.8h77.6v66.8h-77.6z"/>
<path class="c23" d="M463.6 222.2h54.2v8.2h-54.2z"/>
<g transform="translate(466.0 227.6) scale(0.932 1)" fill="#222" stroke="none" font-size="2.6" font-family="Liberation Serif, Noto Serif CJK SC, serif"><text x="0" y="0">说明</text><text x="5.20" y="0" font-size="2.60" font-family="Liberation Sans, sans-serif" xml:space="preserve">: </text><text x="6.64" y="0">冷库内部</text><text x="17.04" y="0" font-size="2.60" font-family="Liberation Sans, sans-serif" xml:space="preserve"> </text><text x="17.77" y="0">插座、三相插头</text><text x="35.97" y="0" font-size="2.60" font-family="Liberation Sans, sans-serif" xml:space="preserve">, </text><text x="37.41" y="0">预留引线图</text></g>
<path class="c24" d="M544.9 152L544.9 253.3"/>
<path class="c25" d="M545 148.8L605 148.8"/>
<path class="c26" d="M605.5 159.7 L561.5 159.7 Q555 159.7 555 166.5 L555 223.4 L545 223.4"/>
<path class="c27" d="M578.3 151.6h5.2v5.2h-5.2z"/>
<path class="c28" d="M579.6 153h2.6v2.6h-2.6z"/>
<path class="c27" d="M587.4 151.6h5.2v5.2h-5.2z"/>
<path class="c28" d="M588.7 153h2.6v2.6h-2.6z"/>
<path class="c29" d="M578 150.2L593 150.2"/>
<path class="c30" d="M545.5 188.5h3.3v7.5h-3.3z"/>
<path class="c31" d="M549.4 189.4h4.1v5.8h-4.1z"/>
<path class="c23" d="M597.7 181.1h7.8v26.3h-7.8z"/>
<path class="c32" d="M597.7 181.1L605.5 207.4"/>
<path class="c32" d="M597.7 207.4L605.5 181.1"/>
<path class="c32" d="M597.7 194.2L605.5 194.2"/>
<path class="c23" d="M606.6 226.4h8v26.9h-8z"/>
<path class="c32" d="M606.6 226.4L614.6 253.3"/>
<path class="c32" d="M606.6 253.3L614.6 226.4"/>
<path class="c32" d="M606.6 239.8L614.6 239.8"/>
<path class="c33" d="M607.2 200.5h7.2v7.2h-7.2z"/>
<path class="c34" d="M607.2 200.5L614.4 207.7"/>
<path class="c34" d="M607.2 207.7L614.4 200.5"/>
<path class="c35" d="M612.6 200.5L617.4 207.3L615.3 207.3L614 203.7Z"/>
<path class="c27" d="M607.2 208.9L612.2 208.9"/>
<path class="c33" d="M595.6 209.8h7.2v7.2h-7.2z"/>
<path class="c34" d="M595.6 209.8L602.8 217"/>
<path class="c34" d="M595.6 217L602.8 209.8"/>
<path class="c35" d="M601 209.8L605.8 216.6L603.7 216.6L602.4 213Z"/>
<path class="c27" d="M595.6 218.2L600.6 218.2"/>
<path class="c33" d="M607.2 212.3h7.2v7.2h-7.2z"/>
<path class="c34" d="M607.2 212.3L614.4 219.5"/>
<path class="c34" d="M607.2 219.5L614.4 212.3"/>
<path class="c35" d="M612.6 212.3L617.4 219.1L615.3 219.1L614 215.5Z"/>
<path class="c27" d="M607.2 220.7L612.2 220.7"/>
<path class="c33" d="M595.6 223.4h7.2v7.2h-7.2z"/>
<path class="c34" d="M595.6 223.4L602.8 230.6"/>
<path class="c34" d="M595.6 230.6L602.8 223.4"/>
<path class="c35" d="M601 223.4L605.8 230.2L603.7 230.2L602.4 226.6Z"/>
<path class="c27" d="M595.6 231.8L600.6 231.8"/>
<path class="c24" d="M606.1 152L606.1 224"/>
<path class="c36" d="M606.1 224L606.1 253.3"/>
<path class="c15" d="M610.6 149.2L610.6 196.7L606.1 196.7"/>
<path class="c37" d="M612 149.2L612 195.3"/>
<path class="c19" d="M627.8 149.2h5.2v48.1h-5.2z"/>
<path class="c19" d="M641.5 149.2h8.1v45.4h-8.1z"/>
<circle class="c38" cx="615.6" cy="154.2" r="1.5"/>
<circle class="c38" cx="623.7" cy="154.2" r="1.5"/>
<circle class="c38" cx="615.6" cy="168.4" r="1.5"/>
<circle class="c38" cx="623.7" cy="168.4" r="1.5"/>
<circle class="c38" cx="615.6" cy="179.9" r="1.5"/>
<circle class="c38" cx="623.7" cy="179.9" r="1.5"/>
<circle class="c38" cx="615.6" cy="191.6" r="1.5"/>
<circle class="c38" cx="623.7" cy="191.6" r="1.5"/>
<path class="c39" d="M643 151.8h5.2v5.6h-5.2z"/>
<path class="c40" d="M644.4 153.2h2.4v2.8h-2.4z"/>
<path class="c39" d="M643 164.5h5.2v5.6h-5.2z"/>
<path class="c40" d="M644.4 165.9h2.4v2.8h-2.4z"/>
<path class="c41" d="M641.5 161L649.6 161"/>
<path class="c41" d="M641.5 174L649.6 174"/>
<path class="c33" d="M640.3 195h7.4v7.4h-7.4z"/>
<path class="c34" d="M640.3 195L647.7 202.4"/>
<path class="c34" d="M640.3 202.4L647.7 195"/>
<path class="c35" d="M645.9 195L650.8 202L648.6 202L647.3 198.3Z"/>
<path class="c27" d="M640.3 203.6L645.5 203.6"/>
<path class="c42" d="M650 152L650 253"/>
<path class="c43" d="M614.6 245.5h18.4v7.5h-18.4z"/>
<path class="c44" d="M616 245.6L632 245.6"/>
<circle class="c13" cx="653" cy="209.2" r="2.1"/>
<circle class="c13" cx="689" cy="157.2" r="2.1"/>
<circle class="c13" cx="689" cy="239.5" r="2.1"/>
<path class="c45" d="M663.9 184.9h7.9v46.7h-7.9z"/>
<path class="c4" d="M672.4 183.7L672.4 235.8"/>
<path class="c4" d="M674.9 183.7L674.9 235.8"/>
<path class="c4" d="M672.4 235.8L674.9 235.8"/>
<circle class="c18" cx="669.6" cy="233.4" r="1.5"/>
<path class="c19" d="M669.6 233.4L666.6 230.4"/>
<path class="c20" d="M669.6 233.4L672.3 236.7"/>
<circle class="c46" cx="667.8" cy="189.6" r="2.6"/>
<circle class="c47" cx="667.8" cy="189.6" r="1"/>
<circle class="c46" cx="667.8" cy="200.7" r="2.6"/>
<circle class="c47" cx="667.8" cy="200.7" r="1"/>
<circle class="c46" cx="667.8" cy="212.4" r="2.6"/>
<circle class="c47" cx="667.8" cy="212.4" r="1"/>
<circle class="c46" cx="667.8" cy="224" r="2.6"/>
<circle class="c47" cx="667.8" cy="224" r="1"/>
<path class="c47" d="M663.9 195.2L671.8 195.2"/>
<path class="c47" d="M663.9 206.5L671.8 206.5"/>
<path class="c47" d="M663.9 218.2L671.8 218.2"/>
<path class="c48" d="M698.1 144L698.1 245.8"/>
<path class="c49" d="M698.1 245.8L720.4 245.8"/>
<path class="c49" d="M698.1 154.6L720.4 154.6"/>
<path class="c49" d="M670.8 177.5L720.4 177.5"/>
<path class="c49" d="M679 188L720.4 188"/>
<circle class="c50" cx="670.8" cy="177.5" r="2"/>
<circle class="c13" cx="670.8" cy="177.5" r=".8"/>
<circle class="c50" cx="720.4" cy="154.6" r="2"/>
<circle class="c13" cx="720.4" cy="154.6" r=".8"/>
<circle class="c50" cx="720.4" cy="177.5" r="2"/>
<circle class="c13" cx="720.4" cy="177.5" r=".8"/>
<circle class="c50" cx="679" cy="188" r="2"/>
<circle class="c13" cx="679" cy="188" r=".8"/>
<circle class="c50" cx="720.4" cy="188" r="2"/>
<circle class="c13" cx="720.4" cy="188" r=".8"/>
<circle class="c50" cx="720.4" cy="245.8" r="2"/>
<circle class="c13" cx="720.4" cy="245.8" r=".8"/>
<circle class="c51" cx="705.3" cy="188" r="1.5"/>
<circle class="c51" cx="705.3" cy="149.8" r="1.5"/>
<circle class="c51" cx="713.5" cy="149.8" r="1.5"/>
<circle class="c51" cx="692" cy="149.8" r="1.5"/>
<circle class="c51" cx="705" cy="177.5" r="1.5"/>
<circle class="c51" cx="690" cy="177.5" r="1.5"/>
<path class="c52" d="M684.6 171h1.8v6h-1.8z"/>
<path class="c52" d="M692.6 171h1.8v6h-1.8z"/>
<path class="c52" d="M702.1 171h1.8v6h-1.8z"/>
<path class="c52" d="M710.1 171h1.8v6h-1.8z"/>
<path class="c53" d="M677 194.7h5.5v3.6h-5.5z"/>
<path class="c54" d="M674.6 193.3L684 193.3"/>
<path class="c53" d="M677 205.2h5.5v3.6h-5.5z"/>
<path class="c54" d="M674.6 203.8L684 203.8"/>
<path class="c53" d="M677 215.2h5.5v3.6h-5.5z"/>
<path class="c54" d="M674.6 213.8L684 213.8"/>
<path class="c53" d="M677 224.7h5.5v3.6h-5.5z"/>
<path class="c54" d="M674.6 223.3L684 223.3"/>
<path class="c55" d="M716 194.7h5.5v3.6h-5.5z"/>
<path class="c54" d="M714 193.1L724.5 193.1"/>
<path class="c55" d="M716 205.2h5.5v3.6h-5.5z"/>
<path class="c54" d="M714 203.6L724.5 203.6"/>
<path class="c55" d="M716 215.2h5.5v3.6h-5.5z"/>
<path class="c54" d="M714 213.6L724.5 213.6"/>
<path class="c55" d="M716 224.7h5.5v3.6h-5.5z"/>
<path class="c54" d="M714 223.1L724.5 223.1"/>
<path class="c55" d="M716 234.2h5.5v3.6h-5.5z"/>
<path class="c54" d="M714 232.6L724.5 232.6"/>
<path class="c56" d="M718 186.5h6.6v4h-6.6z"/>
<path class="c57" d="M717.5 196h7v5.5h-7z"/>
<text transform="translate(683.5 165.5) scale(0.927 1)" font-size="6.2" fill="#8886c6" font-family="Liberation Serif, Noto Serif CJK SC, serif">男洗手間</text>
<path class="c54" d="M686 147.3L727 147.3"/>
<path class="c57" d="M698.1 144.6L698.1 141.4L695.4 141.4L698.1 138.2L700.8 141.4L698.1 141.4"/>
<path class="c58" d="M695.6 144.4L695.6 141.4L694.6 141.4L698.1 137.6L701.6 141.4L700.6 141.4L700.6 144.4"/>
<path class="c33" d="M732 151.4h7.6v7.6h-7.6z"/>
<path class="c34" d="M732 151.4L739.6 159"/>
<path class="c34" d="M732 159L739.6 151.4"/>
<path class="c35" d="M737.7 151.4L742.8 158.6L740.5 158.6L739.2 154.8Z"/>
<path class="c27" d="M732 160.2L737.3 160.2"/>
<path class="c33" d="M732 162.5h7.6v7.6h-7.6z"/>
<path class="c34" d="M732 162.5L739.6 170.1"/>
<path class="c34" d="M732 170.1L739.6 162.5"/>
<path class="c35" d="M737.7 162.5L742.8 169.7L740.5 169.7L739.2 165.9Z"/>
<path class="c27" d="M732 171.3L737.3 171.3"/>
<path class="c33" d="M732 172.6h7.6v7.6h-7.6z"/>
<path class="c34" d="M732 172.6L739.6 180.2"/>
<path class="c34" d="M732 180.2L739.6 172.6"/>
<path class="c35" d="M737.7 172.6L742.8 179.8L740.5 179.8L739.2 176Z"/>
<path class="c27" d="M732 181.4L737.3 181.4"/>
<path class="c33" d="M732 182.8h7.6v7.6h-7.6z"/>
<path class="c34" d="M732 182.8L739.6 190.4"/>
<path class="c34" d="M732 190.4L739.6 182.8"/>
<path class="c35" d="M737.7 182.8L742.8 190L740.5 190L739.2 186.2Z"/>
<path class="c27" d="M732 191.6L737.3 191.6"/>
<path class="c33" d="M732 192.9h7.6v7.6h-7.6z"/>
<path class="c34" d="M732 192.9L739.6 200.5"/>
<path class="c34" d="M732 200.5L739.6 192.9"/>
<path class="c35" d="M737.7 192.9L742.8 200.1L740.5 200.1L739.2 196.3Z"/>
<path class="c27" d="M732 201.7L737.3 201.7"/>
<path class="c24" d="M756.8 152L756.8 253"/>
<path class="c59" d="M728.8 216h5.4v37h-5.4z"/>
<path class="c60" d="M731.5 216L731.5 253"/>
<path class="c60" d="M728.8 218.4L734.2 218.4"/>
<path class="c60" d="M728.8 220.8L734.2 220.8"/>
<path class="c60" d="M728.8 223.2L734.2 223.2"/>
<path class="c60" d="M728.8 225.6L734.2 225.6"/>
<path class="c60" d="M728.8 228L734.2 228"/>
<path class="c60" d="M728.8 230.4L734.2 230.4"/>
<path class="c60" d="M728.8 232.8L734.2 232.8"/>
<path class="c60" d="M728.8 235.2L734.2 235.2"/>
<path class="c60" d="M728.8 237.6L734.2 237.6"/>
<path class="c60" d="M728.8 240L734.2 240"/>
<path class="c60" d="M728.8 242.4L734.2 242.4"/>
<path class="c60" d="M728.8 244.8L734.2 244.8"/>
<path class="c60" d="M728.8 247.2L734.2 247.2"/>
<path class="c60" d="M728.8 249.6L734.2 249.6"/>
<path class="c60" d="M728.8 252L734.2 252"/>
<path class="c59" d="M750.8 216h5.8v37h-5.8z"/>
<path class="c60" d="M753.7 216L753.7 253"/>
<path class="c60" d="M750.8 218.4L756.6 218.4"/>
<path class="c60" d="M750.8 220.8L756.6 220.8"/>
<path class="c60" d="M750.8 223.2L756.6 223.2"/>
<path class="c60" d="M750.8 225.6L756.6 225.6"/>
<path class="c60" d="M750.8 228L756.6 228"/>
<path class="c60" d="M750.8 230.4L756.6 230.4"/>
<path class="c60" d="M750.8 232.8L756.6 232.8"/>
<path class="c60" d="M750.8 235.2L756.6 235.2"/>
<path class="c60" d="M750.8 237.6L756.6 237.6"/>
<path class="c60" d="M750.8 240L756.6 240"/>
<path class="c60" d="M750.8 242.4L756.6 242.4"/>
<path class="c60" d="M750.8 244.8L756.6 244.8"/>
<path class="c60" d="M750.8 247.2L756.6 247.2"/>
<path class="c60" d="M750.8 249.6L756.6 249.6"/>
<path class="c60" d="M750.8 252L756.6 252"/>
<path class="c57" d="M556.2 144.6L556.2 139.4"/>
<path class="c61" d="M554.2 144.6L558.2 144.6L556.2 142Z"/>
<path class="c57" d="M553.8 144.4L558.6 144.4"/>
<path class="c57" d="M594 144.6L594 139.4"/>
<path class="c61" d="M592 144.6L596 144.6L594 142Z"/>
<path class="c57" d="M591.6 144.4L596.4 144.4"/>
<path class="c57" d="M617.9 144.6L617.9 139.4"/>
<path class="c61" d="M615.9 144.6L619.9 144.6L617.9 142Z"/>
<path class="c57" d="M615.5 144.4L620.3 144.4"/>
<path class="c57" d="M650 144.6L650 139.4"/>
<path class="c61" d="M648 144.6L652 144.6L650 142Z"/>
<path class="c57" d="M647.6 144.4L652.4 144.4"/>
<path class="c57" d="M738.2 144.6L738.2 139.4"/>
<path class="c61" d="M736.2 144.6L740.2 144.6L738.2 142Z"/>
<path class="c57" d="M735.8 144.4L740.6 144.4"/>
<path class="c57" d="M750.7 144.6L750.7 139.4"/>
<path class="c61" d="M748.7 144.6L752.7 144.6L750.7 142Z"/>
<path class="c57" d="M748.3 144.4L753.1 144.4"/>
<path class="c57" d="M765.3 144.6L765.3 139.4"/>
<path class="c61" d="M763.3 144.6L767.3 144.6L765.3 142Z"/>
<path class="c57" d="M762.9 144.4L767.7 144.4"/>
<path class="c57" d="M808.5 144.6L808.5 139.4"/>
<path class="c61" d="M806.5 144.6L810.5 144.6L808.5 142Z"/>
<path class="c57" d="M806.1 144.4L810.9 144.4"/>
<path class="c57" d="M889.5 144.6L889.5 139.4"/>
<path class="c61" d="M887.5 144.6L891.5 144.6L889.5 142Z"/>
<path class="c57" d="M887.1 144.4L891.9 144.4"/>
<path class="c14" d="M388.8 253.4L412 253.4"/>
<path class="c24" d="M412 253.4L437 253.4"/>
<path class="c24" d="M459.5 253.4L470 253.4"/>
<path class="c14" d="M470 253.4L500 253.4"/>
<path class="c24" d="M500 253.4L520 253.4"/>
<path class="c14" d="M520 253.4L545 253.4"/>
<path class="c24" d="M545 253.4L556 253.4"/>
<path class="c14" d="M556 253.4L590 253.4"/>
<path class="c24" d="M600 253.4L606 253.4"/>
<path class="c14" d="M633 253.4L647 253.4"/>
<path class="c24" d="M647 253.4L671.9 253.4"/>
<path class="c24" d="M728.6 253.4L757 253.4"/>
<path class="c24" d="M770 253.4L800 253.4"/>
<path class="c14" d="M800 253.4L827 253.4"/>
<path class="c24" d="M827 253.4L868 253.4"/>
<path class="c14" d="M389 278.8L416 278.8"/>
<path class="c24" d="M416 278.8L437 278.8"/>
<path class="c24" d="M459.5 278.8L485 278.8"/>
<path class="c14" d="M485 278.8L505 278.8"/>
<path class="c24" d="M505 278.8L537 278.8"/>
<path class="c24" d="M545 278.8L583 278.8"/>
<path class="c14" d="M606 278.8L621 278.8"/>
<path class="c24" d="M666 278.8L700 278.8"/>
<path class="c24" d="M722 278.8L725.3 278.8"/>
<path class="c62" d="M363.6 283L363.6 253.5L388.8 253.5L388.8 278.8"/>
<g transform="translate(371.0 262.0) scale(1.091 1)" fill="#111" stroke="none"><text x="0" y="0" font-size="3" font-family="Liberation Serif, Noto Serif CJK SC, serif">電動門禁</text><text x="12.00" y="0" font-size="3.00" font-family="Liberation Sans, sans-serif" xml:space="preserve">,</text></g>
<text transform="translate(371.0 266.8)" font-size="3" fill="#111" font-family="Liberation Serif, Noto Serif CJK SC, serif">兼有打卡功能</text>
<path class="c14" d="M437.3 253.4L437.3 242.9"/>
<path class="c14" d="M437.3 242.9 A10.5 10.5 0 0 1 447.8 253.4"/>
<path class="c14" d="M459.5 253.4L459.5 242.9"/>
<path class="c14" d="M459.5 242.9 A10.5 10.5 0 0 0 449 253.4"/>
<path class="c14" d="M437.3 278.8L437.3 289.3"/>
<path class="c14" d="M437.3 289.3 A10.5 10.5 0 0 0 447.8 278.8"/>
<path class="c14" d="M459.5 278.8L459.5 289.3"/>
<path class="c14" d="M459.5 289.3 A10.5 10.5 0 0 1 449 278.8"/>
<path class="c14" d="M389 253.4L389 263.4"/>
<path class="c14" d="M389 263.4 A10 10 0 0 0 399 253.4"/>
<path class="c14" d="M389 278.8L389 268.8"/>
<path class="c14" d="M389 268.8 A10 10 0 0 1 399 278.8"/>
<path class="c14" d="M290.5 258L290.5 268.5"/>
<path class="c14" d="M290.5 268.5 A10.5 10.5 0 0 0 301 258"/>
<path class="c14" d="M299 258 L288.5 258 A10.5 10.5 0 0 0 299 269.5"/>
<path class="c14" d="M298 289.4L288.4 289.4L288.4 293L286.8 296L288.4 299L286.8 303L288.4 306L288.4 309.4L298 309.4"/>
<path class="c14" d="M590 253.4L590 243.4"/>
<path class="c14" d="M590 243.4 A10 10 0 0 0 580 253.4"/>
<path class="c14" d="M606 278.8L606 287.8"/>
<path class="c14" d="M606 287.8 A9 9 0 0 1 597 278.8"/>
<path class="c14" d="M583 278.8L583 287.8"/>
<path class="c14" d="M583 287.8 A9 9 0 0 1 574 278.8"/>
<path class="c14" d="M590.5 278.8L590.5 287.8"/>
<path class="c14" d="M590.5 287.8 A9 9 0 0 0 599.5 278.8"/>
<path class="c14" d="M647 253.4L647 243.4"/>
<path class="c14" d="M647 243.4 A10 10 0 0 0 637 253.4"/>
<path class="c14" d="M633.5 253.4L633.5 253.3"/>
<path class="c14" d="M633.5 253.3 A.1 .1 0 0 0 633.4 253.4"/>
<path class="c14" d="M556 253.4L556 243.4"/>
<path class="c14" d="M556 243.4 A10 10 0 0 1 566 253.4"/>
<path class="c14" d="M524 253.4L524 244.4"/>
<path class="c14" d="M524 244.4 A9 9 0 0 0 515 253.4"/>
<path class="c14" d="M521 230.4L521 239.4"/>
<path class="c14" d="M521 239.4 A9 9 0 0 0 530 230.4"/>
<path class="c14" d="M537 230.4L537 237.4"/>
<path class="c14" d="M537 237.4 A7 7 0 0 1 530 230.4"/>
<circle class="c18" cx="585" cy="256" r="1.5"/>
<path class="c19" d="M585 256L588.4 253.2"/>
<path class="c20" d="M585 256L581.9 259.1"/>
<circle class="c18" cx="633" cy="256" r="1.5"/>
<path class="c19" d="M633 256L636.4 253.2"/>
<path class="c20" d="M633 256L629.9 259.1"/>
<circle class="c18" cx="772" cy="256" r="1.5"/>
<path class="c19" d="M772 256L775.4 253.2"/>
<path class="c20" d="M772 256L768.9 259.1"/>
<circle class="c18" cx="584" cy="276" r="1.5"/>
<path class="c19" d="M584 276L587.6 273.4"/>
<path class="c20" d="M584 276L580.8 278.9"/>
<circle class="c18" cx="622" cy="276" r="1.5"/>
<path class="c19" d="M622 276L625.6 273.4"/>
<path class="c20" d="M622 276L618.8 278.9"/>
<circle class="c18" cx="747.5" cy="276" r="1.5"/>
<path class="c19" d="M747.5 276L751.1 273.4"/>
<path class="c20" d="M747.5 276L744.3 278.9"/>
<path class="c14" d="M635.5 268.6L667.8 268.6"/>
<text x="636.5" y="267.4" font-size="4.2" fill="#777" text-anchor="start" font-family="Liberation Sans, sans-serif" textLength="30.3" lengthAdjust="spacingAndGlyphs">BV3*2.5mm2-PC20</text>
<path class="c14" d="M635.5 268.6L631 284L629 300"/>
<path class="c14" d="M702.5 278.8L702.5 287.8"/>
<path class="c14" d="M702.5 287.8 A9 9 0 0 0 711.5 278.8"/>
<path class="c14" d="M722 278.8L722 287.8"/>
<path class="c14" d="M722 287.8 A9 9 0 0 1 713 278.8"/>
<path class="c24" d="M700 278.8L702.5 278.8"/>
<path class="c14" d="M759 253.4 A13 13 0 0 1 772 240.4"/>
<path class="c63" d="M303.6 279.3h52.6v7.4h-52.6z"/>
<path class="c64" d="M304.6 280.3h50.6v5.4h-50.6z"/>
<text transform="translate(306.0 285.2) scale(1.090 1)" font-size="5.2" fill="#8886c6" font-family="Liberation Serif, Noto Serif CJK SC, serif">行业端</text>
<path class="c62" d="M298.3 287L298.3 384"/>
<g transform="translate(277.5 297.0) scale(1.091 1)" fill="#111" stroke="none"><text x="0" y="0" font-size="3" font-family="Liberation Serif, Noto Serif CJK SC, serif">電動門禁</text><text x="12.00" y="0" font-size="3.00" font-family="Liberation Sans, sans-serif" xml:space="preserve">,</text></g>
<text transform="translate(277.5 301.6)" font-size="3" fill="#111" font-family="Liberation Serif, Noto Serif CJK SC, serif">兼有打卡功能</text>
<path class="c65" d="M316 303.8h47.5v7.2h-47.5z"/>
<circle class="c66" cx="332.2" cy="297.9" r="3.6"/>
<circle class="c66" cx="345.9" cy="297.9" r="3.6"/>
<path class="c17" d="M329.2 305.5 Q331 310.5 334.5 311.8"/>
<path class="c17" d="M349 305.5 Q347.2 310.5 343.6 311.8"/>
<path class="c67" d="M373.7 358.6L378.1 361.8L376.4 366.9L371 366.9L369.3 361.8Z"/>
<rect x="-2.7" y="-2.2" width="5.4" height="4.4" stroke="#2cd2cc" stroke-width="0.9" fill="none" transform="translate(378.2 357.1) rotate(36)"/>
<rect x="-3.2" y="-3.6" width="6.4" height="1.4" stroke="#2cd2cc" stroke-width="0.7" fill="none" transform="translate(378.2 357.1) rotate(36)"/>
<rect x="-2.7" y="-2.2" width="5.4" height="4.4" stroke="#2cd2cc" stroke-width="0.9" fill="none" transform="translate(380.9 365.5) rotate(108)"/>
<rect x="-3.2" y="-3.6" width="6.4" height="1.4" stroke="#2cd2cc" stroke-width="0.7" fill="none" transform="translate(380.9 365.5) rotate(108)"/>
<rect x="-2.7" y="-2.2" width="5.4" height="4.4" stroke="#2cd2cc" stroke-width="0.9" fill="none" transform="translate(373.7 370.8) rotate(180)"/>
<rect x="-3.2" y="-3.6" width="6.4" height="1.4" stroke="#2cd2cc" stroke-width="0.7" fill="none" transform="translate(373.7 370.8) rotate(180)"/>
<rect x="-2.7" y="-2.2" width="5.4" height="4.4" stroke="#2cd2cc" stroke-width="0.9" fill="none" transform="translate(366.5 365.5) rotate(252)"/>
<rect x="-3.2" y="-3.6" width="6.4" height="1.4" stroke="#2cd2cc" stroke-width="0.7" fill="none" transform="translate(366.5 365.5) rotate(252)"/>
<rect x="-2.7" y="-2.2" width="5.4" height="4.4" stroke="#2cd2cc" stroke-width="0.9" fill="none" transform="translate(369.2 357.1) rotate(324)"/>
<rect x="-3.2" y="-3.6" width="6.4" height="1.4" stroke="#2cd2cc" stroke-width="0.7" fill="none" transform="translate(369.2 357.1) rotate(324)"/>
<path class="c68" d="M274.3 316.6h20.3v48.2h-20.3z"/>
<path class="c68" d="M274.3 320.3L294.6 320.3"/>
<path class="c68" d="M274.3 324L294.6 324"/>
<path class="c68" d="M274.3 327.7L294.6 327.7"/>
<path class="c68" d="M274.3 331.4L294.6 331.4"/>
<path class="c68" d="M274.3 335.1L294.6 335.1"/>
<path class="c68" d="M274.3 338.8L294.6 338.8"/>
<path class="c68" d="M274.3 342.6L294.6 342.6"/>
<path class="c68" d="M274.3 346.3L294.6 346.3"/>
<path class="c68" d="M274.3 350L294.6 350"/>
<path class="c68" d="M274.3 353.7L294.6 353.7"/>
<path class="c68" d="M274.3 357.4L294.6 357.4"/>
<path class="c68" d="M274.3 361.1L294.6 361.1"/>
<path class="c68" d="M249.2 316.7L267.8 320.7L259.6 368.3L240.8 364.8Z"/>
<path class="c68" d="M248.6 320.4L267.2 324.4"/>
<path class="c68" d="M247.9 324.1L266.5 328"/>
<path class="c68" d="M247.3 327.8L265.9 331.7"/>
<path class="c68" d="M246.6 331.5L265.3 335.3"/>
<path class="c68" d="M246 335.2L264.6 339"/>
<path class="c68" d="M245.3 338.9L264 342.7"/>
<path class="c68" d="M244.7 342.6L263.4 346.3"/>
<path class="c68" d="M244 346.3L262.8 350"/>
<path class="c68" d="M243.4 350L262.1 353.7"/>
<path class="c68" d="M242.7 353.7L261.5 357.3"/>
<path class="c68" d="M242.1 357.4L260.9 361"/>
<path class="c68" d="M241.4 361.1L260.2 364.6"/>
<path class="c68" d="M666.4 316.2h20.2v48.8h-20.2z"/>
<path class="c68" d="M666.4 320L686.6 320"/>
<path class="c68" d="M666.4 323.7L686.6 323.7"/>
<path class="c68" d="M666.4 327.5L686.6 327.5"/>
<path class="c68" d="M666.4 331.2L686.6 331.2"/>
<path class="c68" d="M666.4 335L686.6 335"/>
<path class="c68" d="M666.4 338.7L686.6 338.7"/>
<path class="c68" d="M666.4 342.5L686.6 342.5"/>
<path class="c68" d="M666.4 346.2L686.6 346.2"/>
<path class="c68" d="M666.4 350L686.6 350"/>
<path class="c68" d="M666.4 353.7L686.6 353.7"/>
<path class="c68" d="M666.4 357.5L686.6 357.5"/>
<path class="c68" d="M666.4 361.2L686.6 361.2"/>
<path class="c68" d="M704.4 316.2h19.2v48.8h-19.2z"/>
<path class="c68" d="M704.4 320L723.6 320"/>
<path class="c68" d="M704.4 323.7L723.6 323.7"/>
<path class="c68" d="M704.4 327.5L723.6 327.5"/>
<path class="c68" d="M704.4 331.2L723.6 331.2"/>
<path class="c68" d="M704.4 335L723.6 335"/>
<path class="c68" d="M704.4 338.7L723.6 338.7"/>
<path class="c68" d="M704.4 342.5L723.6 342.5"/>
<path class="c68" d="M704.4 346.2L723.6 346.2"/>
<path class="c68" d="M704.4 350L723.6 350"/>
<path class="c68" d="M704.4 353.7L723.6 353.7"/>
<path class="c68" d="M704.4 357.5L723.6 357.5"/>
<path class="c68" d="M704.4 361.2L723.6 361.2"/>
<path class="c69" d="M720.2 316L720.2 375"/>
<path class="c70" d="M279.2 391.6h101.5v39.7h-101.5z"/>
<path class="c71" d="M299.4 391.6L299.4 431.3"/>
<path class="c71" d="M319.6 391.6L319.6 431.3"/>
<path class="c71" d="M339.8 391.6L339.8 431.3"/>
<path class="c71" d="M360 391.6L360 431.3"/>
<path class="c72" d="M279.2 394.5L380.7 394.5"/>
<path class="c72" d="M279.2 411.5L380.7 411.5"/>
<path class="c72" d="M279.2 416.5L380.7 416.5"/>
<path class="c72" d="M279.2 427.8L380.7 427.8"/>
<circle class="c73" cx="299.4" cy="404" r="1.8"/>
<circle class="c73" cx="299.4" cy="421" r="1.8"/>
<circle class="c73" cx="319.6" cy="404" r="1.8"/>
<circle class="c73" cx="319.6" cy="421" r="1.8"/>
<circle class="c73" cx="339.8" cy="404" r="1.8"/>
<circle class="c73" cx="339.8" cy="421" r="1.8"/>
<circle class="c73" cx="360" cy="404" r="1.8"/>
<circle class="c73" cx="360" cy="421" r="1.8"/>
<path class="c74" d="M282.5 408.5L291.5 397.5"/>
<path class="c74" d="M284.7 408.5L293.7 397.5"/>
<path class="c74" d="M286.9 408.5L295.9 397.5"/>
<path class="c74" d="M289.1 408.5L298.1 397.5"/>
<path class="c74" d="M302.5 409.5L311.5 398.5"/>
<path class="c74" d="M304.7 409.5L313.7 398.5"/>
<path class="c74" d="M306.9 409.5L315.9 398.5"/>
<path class="c74" d="M309.1 409.5L318.1 398.5"/>
<path class="c74" d="M322.5 407.5L331.5 396.5"/>
<path class="c74" d="M324.7 407.5L333.7 396.5"/>
<path class="c74" d="M326.9 407.5L335.9 396.5"/>
<path class="c74" d="M329.1 407.5L338.1 396.5"/>
<path class="c74" d="M344.5 406.5L353.5 395.5"/>
<path class="c74" d="M346.7 406.5L355.7 395.5"/>
<path class="c74" d="M348.9 406.5L357.9 395.5"/>
<path class="c74" d="M351.1 406.5L360.1 395.5"/>
<path class="c74" d="M363.5 408.5L372.5 397.5"/>
<path class="c74" d="M365.7 408.5L374.7 397.5"/>
<path class="c74" d="M367.9 408.5L376.9 397.5"/>
<path class="c74" d="M370.1 408.5L379.1 397.5"/>
<path class="c74" d="M280.5 428.5L289.5 417.5"/>
<path class="c74" d="M282.7 428.5L291.7 417.5"/>
<path class="c74" d="M284.9 428.5L293.9 417.5"/>
<path class="c74" d="M287.1 428.5L296.1 417.5"/>
<path class="c74" d="M304.5 429.5L313.5 418.5"/>
<path class="c74" d="M306.7 429.5L315.7 418.5"/>
<path class="c74" d="M308.9 429.5L317.9 418.5"/>
<path class="c74" d="M311.1 429.5L320.1 418.5"/>
<path class="c74" d="M323.5 427.5L332.5 416.5"/>
<path class="c74" d="M325.7 427.5L334.7 416.5"/>
<path class="c74" d="M327.9 427.5L336.9 416.5"/>
<path class="c74" d="M330.1 427.5L339.1 416.5"/>
<path class="c74" d="M342.5 428.5L351.5 417.5"/>
<path class="c74" d="M344.7 428.5L353.7 417.5"/>
<path class="c74" d="M346.9 428.5L355.9 417.5"/>
<path class="c74" d="M349.1 428.5L358.1 417.5"/>
<path class="c74" d="M361.5 426.5L370.5 415.5"/>
<path class="c74" d="M363.7 426.5L372.7 415.5"/>
<path class="c74" d="M365.9 426.5L374.9 415.5"/>
<path class="c74" d="M368.1 426.5L377.1 415.5"/>
<path class="c74" d="M292.5 417.5L301.5 406.5"/>
<path class="c74" d="M294.7 417.5L303.7 406.5"/>
<path class="c74" d="M296.9 417.5L305.9 406.5"/>
<path class="c74" d="M299.1 417.5L308.1 406.5"/>
<path class="c74" d="M337.5 418.5L346.5 407.5"/>
<path class="c74" d="M339.7 418.5L348.7 407.5"/>
<path class="c74" d="M341.9 418.5L350.9 407.5"/>
<path class="c74" d="M344.1 418.5L353.1 407.5"/>
<path class="c75" d="M389.3 279.8L415 279.8"/>
<path class="c23" d="M389.8 281h26.3v6h-26.3z"/>
<text transform="translate(391.0 285.6) scale(0.982 1)" font-size="3.2" fill="#c050c0" font-family="Liberation Serif, Noto Serif CJK SC, serif">南北双面文件柜</text>
<path class="c23" d="M389.8 287.2h6v19.2h-6z"/>
<path class="c23" d="M389.8 314.9h6v12.1h-6z"/>
<path class="c23" d="M389.8 327h6v12.1h-6z"/>
<path class="c23" d="M389.8 339.1h6v12.2h-6z"/>
<path class="c23" d="M389.8 351.3h6v12.1h-6z"/>
<path class="c23" d="M389.8 363.4h6v12.1h-6z"/>
<path class="c23" d="M389.8 375.5h6v11.9h-6z"/>
<path class="c76" d="M392.8 317.9L392.8 323.9"/>
<path class="c76" d="M392.8 330L392.8 336"/>
<path class="c76" d="M392.8 342.1L392.8 348.1"/>
<path class="c76" d="M392.8 354.3L392.8 360.3"/>
<path class="c76" d="M392.8 366.4L392.8 372.4"/>
<path class="c76" d="M392.8 378.5L392.8 384.5"/>
<path class="c76" d="M392.8 290L392.8 302"/>
<path class="c26" d="M412 307.4h17.6v75.8h-17.6z"/>
<path class="c23" d="M420.7 307.4L420.7 383.2"/>
<path class="c23" d="M412 326.3L429.6 326.3"/>
<path class="c23" d="M412 345.3L429.6 345.3"/>
<path class="c23" d="M412 364.2L429.6 364.2"/>
<path class="c76" d="M416.4 313.4L416.4 320.4"/>
<path class="c76" d="M425.1 313.4L425.1 320.4"/>
<path class="c76" d="M416.4 332.3L416.4 339.3"/>
<path class="c76" d="M425.1 332.3L425.1 339.3"/>
<path class="c76" d="M416.4 351.3L416.4 358.3"/>
<path class="c76" d="M425.1 351.3L425.1 358.3"/>
<path class="c76" d="M416.4 370.2L416.4 377.2"/>
<path class="c76" d="M425.1 370.2L425.1 377.2"/>
<path class="c26" d="M467.6 307.4h17.8v75.8h-17.8z"/>
<path class="c23" d="M476.3 307.4L476.3 383.2"/>
<path class="c23" d="M467.6 326.3L485.4 326.3"/>
<path class="c23" d="M467.6 345.3L485.4 345.3"/>
<path class="c23" d="M467.6 364.2L485.4 364.2"/>
<path class="c76" d="M472 313.4L472 320.4"/>
<path class="c76" d="M480.9 313.4L480.9 320.4"/>
<path class="c76" d="M472 332.3L472 339.3"/>
<path class="c76" d="M480.9 332.3L480.9 339.3"/>
<path class="c76" d="M472 351.3L472 358.3"/>
<path class="c76" d="M480.9 351.3L480.9 358.3"/>
<path class="c76" d="M472 370.2L472 377.2"/>
<path class="c76" d="M480.9 370.2L480.9 377.2"/>
<path class="c23" d="M446 307.4h7v73.4h-7z"/>
<path class="c75" d="M446 319.6L453 319.6"/>
<path class="c75" d="M446 331.9L453 331.9"/>
<path class="c75" d="M446 344.1L453 344.1"/>
<path class="c75" d="M446 356.3L453 356.3"/>
<path class="c75" d="M446 368.6L453 368.6"/>
<path class="c76" d="M449.5 311L449.5 316"/>
<path class="c76" d="M449.5 323.2L449.5 328.2"/>
<path class="c76" d="M449.5 335.5L449.5 340.5"/>
<path class="c76" d="M449.5 347.7L449.5 352.7"/>
<path class="c76" d="M449.5 359.9L449.5 364.9"/>
<path class="c76" d="M449.5 372.2L449.5 377.2"/>
<path class="c23" d="M436.9 381.2h11.5v6.2h-11.5z"/>
<path class="c23" d="M448.4 381.2h13.2v6.2h-13.2z"/>
<circle class="c66" cx="405" cy="317.5" r="3.2"/>
<circle class="c66" cx="405" cy="336.1" r="3.2"/>
<circle class="c66" cx="405" cy="354.9" r="3.2"/>
<circle class="c66" cx="405" cy="373.7" r="3.2"/>
<circle class="c66" cx="435.9" cy="317.5" r="3.2"/>
<circle class="c66" cx="435.9" cy="336.1" r="3.2"/>
<circle class="c66" cx="435.9" cy="354.9" r="3.2"/>
<circle class="c66" cx="435.9" cy="373.7" r="3.2"/>
<circle class="c66" cx="460.5" cy="317.5" r="3.2"/>
<circle class="c66" cx="460.5" cy="336.1" r="3.2"/>
<circle class="c66" cx="460.5" cy="354.9" r="3.2"/>
<circle class="c66" cx="460.5" cy="373.7" r="3.2"/>
<circle class="c66" cx="491.6" cy="317.5" r="3.2"/>
<circle class="c66" cx="491.6" cy="336.1" r="3.2"/>
<circle class="c66" cx="491.6" cy="354.9" r="3.2"/>
<circle class="c66" cx="491.6" cy="373.7" r="3.2"/>
<g transform="translate(470.5 299.5) scale(1.047 1)" fill="#8886c6" stroke="none" font-size="6.2" font-family="Liberation Serif, Noto Serif CJK SC, serif"><text x="0.00" y="0" font-size="6.20" font-family="Liberation Serif, sans-serif" xml:space="preserve">CS </text><text x="9.13" y="0">辦公室</text><text x="27.73" y="0" font-size="6.20" font-family="Liberation Serif, sans-serif" xml:space="preserve">72</text><text x="33.93" y="0">平</text></g>
<path class="c14" d="M435.3 276L431.5 300L411.5 383"/>
<path class="c14" d="M430.2 390.5L439.3 409.7"/>
<path class="c14" d="M439.3 409.7L473.7 409.7"/>
<text x="440.3" y="408.5" font-size="4.2" fill="#777" text-anchor="start" font-family="Liberation Sans, sans-serif" textLength="32.4" lengthAdjust="spacingAndGlyphs">BV3*2.5mm2-PC20</text>
<path class="c77" d="M484.8 389.9L537 389.9"/>
<path class="c57" d="M409.6 389.5L409.6 395.5"/>
<path class="c58" d="M408 389.8h3.2v2.5h-3.2z"/>
<path class="c57" d="M450.8 389.5L450.8 395.5"/>
<path class="c58" d="M449.2 389.8h3.2v2.5h-3.2z"/>
<path class="c57" d="M509.7 389.5L509.7 395.5"/>
<path class="c58" d="M508.1 389.8h3.2v2.5h-3.2z"/>
<path class="c57" d="M568.6 389.5L568.6 395.5"/>
<path class="c58" d="M567 389.8h3.2v2.5h-3.2z"/>
<path class="c57" d="M610.4 389.5L610.4 395.5"/>
<path class="c58" d="M608.8 389.8h3.2v2.5h-3.2z"/>
<path class="c57" d="M653.9 389.5L653.9 395.5"/>
<path class="c58" d="M652.3 389.8h3.2v2.5h-3.2z"/>
<path class="c23" d="M503.9 314.9h6.4v72.5h-6.4z"/>
<path class="c75" d="M503.9 327L510.3 327"/>
<path class="c75" d="M503.9 339.1L510.3 339.1"/>
<path class="c75" d="M503.9 351.1L510.3 351.1"/>
<path class="c75" d="M503.9 363.2L510.3 363.2"/>
<path class="c75" d="M503.9 375.3L510.3 375.3"/>
<path class="c76" d="M507.1 318.4L507.1 323.4"/>
<path class="c76" d="M507.1 330.5L507.1 335.5"/>
<path class="c76" d="M507.1 342.6L507.1 347.6"/>
<path class="c76" d="M507.1 354.7L507.1 359.7"/>
<path class="c76" d="M507.1 366.8L507.1 371.8"/>
<path class="c76" d="M507.1 378.9L507.1 383.9"/>
<path class="c25" d="M510.3 305.4L510.3 387.4"/>
<path class="c24" d="M526.1 299.3h10.9v88.1h-10.9z"/>
<path class="c24" d="M526.1 314L537 314"/>
<path class="c24" d="M526.1 328.7L537 328.7"/>
<path class="c24" d="M526.1 343.4L537 343.4"/>
<path class="c24" d="M526.1 358L537 358"/>
<path class="c24" d="M526.1 372.7L537 372.7"/>
<path class="c23" d="M537.8 310.4h6.5v72.8h-6.5z"/>
<path class="c75" d="M537.8 317.7L544.3 317.7"/>
<path class="c75" d="M537.8 325L544.3 325"/>
<path class="c75" d="M537.8 332.2L544.3 332.2"/>
<path class="c75" d="M537.8 339.5L544.3 339.5"/>
<path class="c75" d="M537.8 346.8L544.3 346.8"/>
<path class="c75" d="M537.8 354.1L544.3 354.1"/>
<path class="c75" d="M537.8 361.4L544.3 361.4"/>
<path class="c75" d="M537.8 368.6L544.3 368.6"/>
<path class="c75" d="M537.8 375.9L544.3 375.9"/>
<path class="c76" d="M541 311.5L541 316.5"/>
<path class="c76" d="M541 318.8L541 323.8"/>
<path class="c76" d="M541 326.1L541 331.1"/>
<path class="c76" d="M541 333.4L541 338.4"/>
<path class="c76" d="M541 340.7L541 345.7"/>
<path class="c76" d="M541 347.9L541 352.9"/>
<path class="c76" d="M541 355.2L541 360.2"/>
<path class="c76" d="M541 362.5L541 367.5"/>
<path class="c76" d="M541 369.8L541 374.8"/>
<path class="c76" d="M541 377.1L541 382.1"/>
<path class="c24" d="M557.8 314.1h21.7v73.3h-21.7z"/>
<path class="c24" d="M568.6 314.1L568.6 387.4"/>
<path class="c24" d="M557.8 328.8L579.5 328.8"/>
<path class="c24" d="M557.8 343.4L579.5 343.4"/>
<path class="c24" d="M557.8 358.1L579.5 358.1"/>
<path class="c24" d="M557.8 372.7L579.5 372.7"/>
<path class="c36" d="M579.5 305L579.5 387.4"/>
<circle class="c66" cx="520" cy="309.4" r="3.2"/>
<circle class="c66" cx="520" cy="324.2" r="3.2"/>
<circle class="c66" cx="520" cy="339.1" r="3.2"/>
<circle class="c66" cx="520" cy="353.3" r="3.2"/>
<circle class="c66" cx="520" cy="368.5" r="3.2"/>
<circle class="c66" cx="520" cy="383.2" r="3.2"/>
<circle class="c66" cx="551.8" cy="321.6" r="3.2"/>
<circle class="c66" cx="585.1" cy="321.6" r="3.2"/>
<circle class="c66" cx="551.8" cy="335.1" r="3.2"/>
<circle class="c66" cx="585.1" cy="335.1" r="3.2"/>
<circle class="c66" cx="551.8" cy="349.9" r="3.2"/>
<circle class="c66" cx="585.1" cy="349.9" r="3.2"/>
<circle class="c66" cx="551.8" cy="364.6" r="3.2"/>
<circle class="c66" cx="585.1" cy="364.6" r="3.2"/>
<circle class="c66" cx="551.8" cy="378.6" r="3.2"/>
<circle class="c66" cx="585.1" cy="378.6" r="3.2"/>
<g transform="translate(550.5 299.0) scale(0.987 1)" fill="#8886c6" stroke="none" font-size="4.6" font-family="Liberation Serif, Noto Serif CJK SC, serif"><text x="0.00" y="0" font-size="4.60" font-family="Liberation Serif, sans-serif" xml:space="preserve">CP </text><text x="6.78" y="0">樣品前處理室</text><text x="34.38" y="0" font-size="4.60" font-family="Liberation Serif, sans-serif" xml:space="preserve">49</text><text x="38.98" y="0">平</text></g>
<path class="c23" d="M594.2 326.6h7.1v56.2h-7.1z"/>
<path class="c75" d="M594.2 333.6L601.3 333.6"/>
<path class="c75" d="M594.2 340.7L601.3 340.7"/>
<path class="c75" d="M594.2 347.7L601.3 347.7"/>
<path class="c75" d="M594.2 354.7L601.3 354.7"/>
<path class="c75" d="M594.2 361.7L601.3 361.7"/>
<path class="c75" d="M594.2 368.8L601.3 368.8"/>
<path class="c75" d="M594.2 375.8L601.3 375.8"/>
<path class="c76" d="M597.8 327.6L597.8 332.6"/>
<path class="c76" d="M597.8 334.6L597.8 339.6"/>
<path class="c76" d="M597.8 341.7L597.8 346.7"/>
<path class="c76" d="M597.8 348.7L597.8 353.7"/>
<path class="c76" d="M597.8 355.7L597.8 360.7"/>
<path class="c76" d="M597.8 362.7L597.8 367.7"/>
<path class="c76" d="M597.8 369.8L597.8 374.8"/>
<path class="c76" d="M597.8 376.8L597.8 381.8"/>
<path class="c23" d="M601.3 328.6h9.1v29.4h-9.1z"/>
<path class="c32" d="M601.3 328.6L610.4 358"/>
<path class="c32" d="M601.3 358L610.4 328.6"/>
<path class="c23" d="M601.3 358h9.1v29.4h-9.1z"/>
<path class="c32" d="M601.3 358L610.4 387.4"/>
<path class="c32" d="M601.3 387.4L610.4 358"/>
<path class="c23" d="M623.1 333.7h8.5v26.8h-8.5z"/>
<path class="c32" d="M623.1 333.7L631.6 360.5"/>
<path class="c32" d="M623.1 360.5L631.6 333.7"/>
<path class="c23" d="M623.1 360.5h8.5v26.9h-8.5z"/>
<path class="c32" d="M623.1 360.5L631.6 387.4"/>
<path class="c32" d="M623.1 387.4L631.6 360.5"/>
<path class="c23" d="M631.6 333.7h8.5v26.8h-8.5z"/>
<path class="c32" d="M631.6 333.7L640.1 360.5"/>
<path class="c32" d="M631.6 360.5L640.1 333.7"/>
<path class="c23" d="M631.6 360.5h8.5v26.9h-8.5z"/>
<path class="c32" d="M631.6 360.5L640.1 387.4"/>
<path class="c32" d="M631.6 387.4L640.1 360.5"/>
<path class="c23" d="M653.9 328.6h8.1v27.3h-8.1z"/>
<path class="c32" d="M653.9 328.6L662 355.9"/>
<path class="c32" d="M653.9 355.9L662 328.6"/>
<path class="c23" d="M653.9 355.9h8.1v27.3h-8.1z"/>
<path class="c32" d="M653.9 355.9L662 383.2"/>
<path class="c32" d="M653.9 383.2L662 355.9"/>
<path class="c23" d="M601.9 294.3h6.5v12.1h-6.5z"/>
<path class="c32" d="M601.9 294.3L608.4 306.4"/>
<path class="c32" d="M601.9 306.4L608.4 294.3"/>
<path class="c23" d="M601.9 306.4h9.1v5.7h-9.1z"/>
<path class="c32" d="M601.9 306.4L611 312.1"/>
<path class="c32" d="M601.9 312.1L611 306.4"/>
<path class="c23" d="M611 306.4h9.1v5.7h-9.1z"/>
<path class="c32" d="M611 306.4L620.1 312.1"/>
<path class="c32" d="M611 312.1L620.1 306.4"/>
<path class="c23" d="M620.1 306.4h9.1v5.7h-9.1z"/>
<path class="c32" d="M620.1 306.4L629.2 312.1"/>
<path class="c32" d="M620.1 312.1L629.2 306.4"/>
<path class="c23" d="M629.2 306.4h9.1v5.7h-9.1z"/>
<path class="c32" d="M629.2 306.4L638.3 312.1"/>
<path class="c32" d="M629.2 312.1L638.3 306.4"/>
<path class="c23" d="M635.7 312.1h26.3v8.4h-26.3z"/>
<path class="c32" d="M635.7 312.1L662 320.5"/>
<path class="c32" d="M635.7 320.5L662 312.1"/>
<path class="c23" d="M642.8 303.4h19.2v8.7h-19.2z"/>
<circle class="c50" cx="646.4" cy="307" r="1.9"/>
<circle class="c13" cx="646.4" cy="307" r=".8"/>
<text transform="translate(651.0 308.5)" font-size="2.8" fill="#111" font-family="Liberation Serif, Noto Serif CJK SC, serif">備件</text>
<path class="c49" d="M646.4 309L646.4 391.3"/>
<path class="c58" d="M646.4 398L644.3 394.5L645.4 394.5L645.4 391.5L647.4 391.5L647.4 394.5L648.5 394.5Z"/>
<g transform="translate(620.0 299.6)" fill="#8886c6" stroke="none" font-size="6" font-family="Liberation Serif, Noto Serif CJK SC, serif"><text x="0.00" y="0" font-size="6.00" font-family="Liberation Serif, sans-serif" xml:space="preserve">CP</text><text x="7.34" y="0">天平室</text><text x="25.34" y="0" font-size="6.00" font-family="Liberation Serif, sans-serif" xml:space="preserve"> 11</text><text x="32.84" y="0">平</text></g>
<g transform="translate(612.0 330.6) scale(1.126 1)" fill="#8886c6" stroke="none" font-size="6" font-family="Liberation Serif, Noto Serif CJK SC, serif"><text x="0" y="0">樣品暫存室</text><text x="30.00" y="0" font-size="6.00" font-family="Liberation Serif, sans-serif" xml:space="preserve"> 12</text><text x="37.50" y="0">平</text></g>
<path class="c78" d="M621.3 279.2h36.7v7.4h-36.7z"/>
<path class="c59" d="M622 286.4L626 279.4"/>
<path class="c79" d="M622 279.4L626 286.4"/>
<path class="c59" d="M626 286.4L630 279.4"/>
<path class="c79" d="M626 279.4L630 286.4"/>
<path class="c59" d="M630 286.4L634 279.4"/>
<path class="c79" d="M630 279.4L634 286.4"/>
<path class="c59" d="M634 286.4L638 279.4"/>
<path class="c79" d="M634 279.4L638 286.4"/>
<path class="c59" d="M638 286.4L642 279.4"/>
<path class="c79" d="M638 279.4L642 286.4"/>
<path class="c59" d="M642 286.4L646 279.4"/>
<path class="c79" d="M642 279.4L646 286.4"/>
<path class="c59" d="M646 286.4L650 279.4"/>
<path class="c79" d="M646 279.4L650 286.4"/>
<path class="c59" d="M650 286.4L654 279.4"/>
<path class="c79" d="M650 279.4L654 286.4"/>
<path class="c59" d="M654 286.4L658 279.4"/>
<path class="c79" d="M654 279.4L658 286.4"/>
<path class="c14" d="M581.1 280L578 310L569.5 386"/>
<path class="c80" d="M597.6 310L599.5 330L601 345"/>
<circle class="c18" cx="597.6" cy="310.5" r="1.5"/>
<path class="c19" d="M597.6 310.5L594.4 307.5"/>
<path class="c20" d="M597.6 310.5L600.5 313.8"/>
<path class="c14" d="M526.9 391L534.2 409.9"/>
<path class="c14" d="M534.2 409.9L572 409.9"/>
<text x="535.2" y="408.7" font-size="4.2" fill="#777" text-anchor="start" font-family="Liberation Sans, sans-serif" textLength="35.8" lengthAdjust="spacingAndGlyphs">BV3*2.5mm2-PC20</text>
<path class="c14" d="M624.6 391L632.6 409.9"/>
<path class="c14" d="M632.6 409.9L669 409.9"/>
<text x="633.6" y="408.7" font-size="4.2" fill="#777" text-anchor="start" font-family="Liberation Sans, sans-serif" textLength="34.4" lengthAdjust="spacingAndGlyphs">BV3*2.5mm2-PC20</text>
<path class="c23" d="M714.5 394.3h7.1v14.2h-7.1z"/>
<path class="c76" d="M718 397L718 406"/>
<path class="c81" d="M749.6 277.8L821 279.5L868 284.2L1011 284.5"/>
<path class="c82" d="M747.9 279.3h72.8v6.9h-72.8z"/>
<path class="c24" d="M821.1 279L821.1 331.7"/>
<path class="c24" d="M821.1 331.7L868.6 331.7"/>
<path class="c83" d="M729.1 307.4h67.3v11.7h-67.3z"/>
<path class="c84" d="M796.4 310.4h24.3v8.7h-24.3z"/>
<path class="c85" d="M796.4 312h24.3v3h-24.3z"/>
<path class="c86" d="M806.3 312.2h2.4v2.6h-2.4z"/>
<path class="c86" d="M810.3 312.2h2.4v2.6h-2.4z"/>
<path class="c87" d="M735.2 313.5L909 313.5"/>
<path class="c88" d="M735.2 312L909 312"/>
<path class="c88" d="M735.2 315L909 315"/>
<path class="c56" d="M732.2 310.3L732.2 316.7L738.6 310.3L738.6 316.7Z"/>
<circle class="c86" cx="735.4" cy="313.5" r="1.3"/>
<path class="c33" d="M735.8 321.4h7.6v7.6h-7.6z"/>
<path class="c34" d="M735.8 321.4L743.4 329"/>
<path class="c34" d="M735.8 329L743.4 321.4"/>
<path class="c35" d="M741.5 321.4L746.6 328.6L744.3 328.6L743 324.8Z"/>
<path class="c27" d="M735.8 330.2L741.1 330.2"/>
<path class="c33" d="M751 321.4h7.6v7.6h-7.6z"/>
<path class="c34" d="M751 321.4L758.6 329"/>
<path class="c34" d="M751 329L758.6 321.4"/>
<path class="c35" d="M756.7 321.4L761.8 328.6L759.5 328.6L758.2 324.8Z"/>
<path class="c27" d="M751 330.2L756.3 330.2"/>
<path class="c33" d="M765.3 321.4h7.6v7.6h-7.6z"/>
<path class="c34" d="M765.3 321.4L772.9 329"/>
<path class="c34" d="M765.3 329L772.9 321.4"/>
<path class="c35" d="M771 321.4L776.1 328.6L773.8 328.6L772.5 324.8Z"/>
<path class="c27" d="M765.3 330.2L770.6 330.2"/>
<path class="c33" d="M779.9 321.4h7.6v7.6h-7.6z"/>
<path class="c34" d="M779.9 321.4L787.5 329"/>
<path class="c34" d="M779.9 329L787.5 321.4"/>
<path class="c35" d="M785.6 321.4L790.7 328.6L788.4 328.6L787.1 324.8Z"/>
<path class="c27" d="M779.9 330.2L785.2 330.2"/>
<path class="c33" d="M794.6 321.4h7.6v7.6h-7.6z"/>
<path class="c34" d="M794.6 321.4L802.2 329"/>
<path class="c34" d="M794.6 329L802.2 321.4"/>
<path class="c35" d="M800.3 321.4L805.4 328.6L803.1 328.6L801.8 324.8Z"/>
<path class="c27" d="M794.6 330.2L799.9 330.2"/>
<path class="c33" d="M809.8 321.4h7.6v7.6h-7.6z"/>
<path class="c34" d="M809.8 321.4L817.4 329"/>
<path class="c34" d="M809.8 329L817.4 321.4"/>
<path class="c35" d="M815.5 321.4L820.6 328.6L818.3 328.6L817 324.8Z"/>
<path class="c27" d="M809.8 330.2L815.1 330.2"/>
<g transform="translate(755.0 297.0) scale(1.030 1)" fill="#8886c6" stroke="none" font-size="5.8" font-family="Liberation Serif, Noto Serif CJK SC, serif"><text x="0.00" y="0" font-size="5.80" font-family="Liberation Serif, sans-serif" xml:space="preserve">FD</text><text x="7.41" y="0">天平室</text><text x="24.81" y="0" font-size="5.80" font-family="Liberation Serif, sans-serif" xml:space="preserve"> 20</text><text x="32.06" y="0">平</text></g>
<g transform="translate(764.5 348.0) scale(1.047 1)" fill="#8886c6" stroke="none" font-size="5.8" font-family="Liberation Serif, Noto Serif CJK SC, serif"><text x="0" y="0">無機儀器室</text><text x="29.00" y="0" font-size="5.80" font-family="Liberation Serif, sans-serif" xml:space="preserve">70</text><text x="34.80" y="0">平</text></g>
<path class="c24" d="M827.2 278.4h41.4v53.3h-41.4z"/>
<path class="c26" d="M827.4 279 L827.4 323.6 L837.3 323.6 L837.3 296.5 Q837.3 288.2 845.6 288.2 L868.4 288.2"/>
<path class="c32" d="M868.4 279.4 L832 279.4"/>
<text transform="translate(846.0 296.5)" font-size="4.2" fill="#8886c6" font-family="Liberation Serif, Noto Serif CJK SC, serif">淋浴間</text>
<g transform="translate(848.0 307.5)" fill="#8886c6" stroke="none"><text x="0.00" y="0" font-size="5.00" font-family="Liberation Serif, sans-serif" xml:space="preserve">14</text><text x="5.00" y="0" font-size="5" font-family="Liberation Serif, Noto Serif CJK SC, serif">平</text></g>
<path class="c89" d="M742.2 359.6h11.2v61h-11.2z"/>
<path class="c4" d="M747.8 374.1L747.8 399"/>
<path class="c90" d="M745.1 371.4h5.4v5.4h-5.4z"/>
<circle class="c91" cx="747.8" cy="374.1" r="1.2"/>
<path class="c90" d="M745.1 396.3h5.4v5.4h-5.4z"/>
<circle class="c91" cx="747.8" cy="399" r="1.2"/>
<path class="c89" d="M774.6 359.6h11.1v61h-11.1z"/>
<path class="c4" d="M780.2 374.1L780.2 399"/>
<path class="c90" d="M777.5 371.4h5.4v5.4h-5.4z"/>
<circle class="c91" cx="780.2" cy="374.1" r="1.2"/>
<path class="c90" d="M777.5 396.3h5.4v5.4h-5.4z"/>
<circle class="c91" cx="780.2" cy="399" r="1.2"/>
<path class="c89" d="M792.8 359.6h10.7v61h-10.7z"/>
<path class="c4" d="M798.1 374.1L798.1 399"/>
<path class="c90" d="M795.4 371.4h5.4v5.4h-5.4z"/>
<circle class="c91" cx="798.1" cy="374.1" r="1.2"/>
<path class="c90" d="M795.4 396.3h5.4v5.4h-5.4z"/>
<circle class="c91" cx="798.1" cy="399" r="1.2"/>
<path class="c89" d="M823.1 359.6h10.7v61h-10.7z"/>
<path class="c4" d="M828.5 374.1L828.5 399"/>
<path class="c90" d="M825.8 371.4h5.4v5.4h-5.4z"/>
<circle class="c91" cx="828.5" cy="374.1" r="1.2"/>
<path class="c90" d="M825.8 396.3h5.4v5.4h-5.4z"/>
<circle class="c91" cx="828.5" cy="399" r="1.2"/>
<path class="c89" d="M840.9 359.6h11.1v61h-11.1z"/>
<path class="c4" d="M846.5 374.1L846.5 399"/>
<path class="c90" d="M843.8 371.4h5.4v5.4h-5.4z"/>
<circle class="c91" cx="846.5" cy="374.1" r="1.2"/>
<path class="c90" d="M843.8 396.3h5.4v5.4h-5.4z"/>
<circle class="c91" cx="846.5" cy="399" r="1.2"/>
<path class="c87" d="M747.8 386.7L905 386.7"/>
<path class="c88" d="M747.8 385.2L905 385.2"/>
<path class="c88" d="M747.8 388.2L905 388.2"/>
<path class="c87" d="M905 386.7 Q909 386.7 909 382.7 L909 313.5"/>
<path class="c88" d="M905 388.2 Q910.6 388.2 910.6 382.7 L910.6 300"/>
<path class="c24" d="M728.2 420.6L868.6 420.6"/>
<path class="c92" d="M868.4 279L868.4 331.7"/>
<path class="c93" d="M868.4 300L868.4 409"/>
<path class="c92" d="M868.4 409L868.4 418"/>
<path class="c93" d="M868.4 418L868.4 452.7"/>
<path class="c92" d="M868.4 571L868.4 574"/>
<path class="c93" d="M868.4 574L868.4 585"/>
<path class="c92" d="M868.4 585L868.4 620"/>
<path class="c93" d="M868.4 620L868.4 631.5"/>
<path class="c92" d="M868.4 631.5L868.4 639"/>
<path class="c93" d="M868.4 639L868.4 654.6"/>
<path class="c92" d="M868.4 654.6L868.4 704.6"/>
<path class="c93" d="M868.4 704.6L868.4 773.8"/>
<path class="c92" d="M868.4 773.8L868.4 820.8"/>
<path class="c14" d="M850 332.4L868 332.4"/>
<path class="c14" d="M742 425.5L930 425.5"/>
<path class="c14" d="M873.6 425.5L880 420.5"/>
<path class="c17" d="M869.8 284L869.8 452"/>
<path class="c93" d="M892.9 279L892.9 660"/>
<path class="c92" d="M892.9 352.7L892.9 371.8"/>
<path class="c92" d="M892.9 440L892.9 452.7"/>
<path class="c92" d="M892.9 523.8L892.9 535"/>
<path class="c92" d="M892.9 604.6L892.9 616"/>
<path class="c25" d="M893.6 660L893.6 845"/>
<path class="c14" d="M868.6 318 L859.5 318 A9 9 0 0 0 868.6 327"/>
<path class="c14" d="M868.6 340 L859.5 340 A9 9 0 0 1 868.6 331"/>
<path class="c14" d="M868.6 351 L860 351 A9 9 0 0 0 868.6 360"/>
<path class="c14" d="M868.6 448 L860 448 A9 9 0 0 0 868.6 457"/>
<path class="c14" d="M868.6 470 L860 470 A9 9 0 0 1 868.6 461"/>
<path class="c50" d="M869.6 331.7h9.1v16.1h-9.1z"/>
<path class="c94" d="M871.1 334.7 h3 v3 h-3 M871.1 341.8 h3 v3 h-3"/>
<path class="c31" d="M876.3 333.2L876.3 346.3"/>
<path class="c50" d="M737.2 430.7h9.1v15.2h-9.1z"/>
<path class="c94" d="M738.7 433.7 h3 v3 h-3 M738.7 439.9 h3 v3 h-3"/>
<path class="c31" d="M743.9 432.2L743.9 444.4"/>
<path class="c50" d="M737.2 552.4h9.1v16.8h-9.1z"/>
<path class="c94" d="M738.7 555.4 h3 v3 h-3 M738.7 563.2 h3 v3 h-3"/>
<path class="c31" d="M743.9 553.9L743.9 567.7"/>
<path class="c33" d="M896.5 349.4h9v9h-9z"/>
<path class="c34" d="M896.5 349.4L905.5 358.4"/>
<path class="c34" d="M896.5 358.4L905.5 349.4"/>
<path class="c35" d="M903.2 349.4L909.3 357.9L906.6 357.9L905 353.4Z"/>
<path class="c27" d="M896.5 359.6L902.8 359.6"/>
<path class="c33" d="M741.2 423.7h7.6v7.6h-7.6z"/>
<path class="c34" d="M741.2 423.7L748.8 431.3"/>
<path class="c34" d="M741.2 431.3L748.8 423.7"/>
<path class="c35" d="M746.9 423.7L752 430.9L749.7 430.9L748.4 427.1Z"/>
<path class="c27" d="M741.2 432.5L746.5 432.5"/>
<path class="c33" d="M758.2 423.7h7.6v7.6h-7.6z"/>
<path class="c34" d="M758.2 423.7L765.8 431.3"/>
<path class="c34" d="M758.2 431.3L765.8 423.7"/>
<path class="c35" d="M763.9 423.7L769 430.9L766.7 430.9L765.4 427.1Z"/>
<path class="c27" d="M758.2 432.5L763.5 432.5"/>
<path class="c33" d="M777.8 423.7h7.6v7.6h-7.6z"/>
<path class="c34" d="M777.8 423.7L785.4 431.3"/>
<path class="c34" d="M777.8 431.3L785.4 423.7"/>
<path class="c35" d="M783.5 423.7L788.6 430.9L786.3 430.9L785 427.1Z"/>
<path class="c27" d="M777.8 432.5L783.1 432.5"/>
<path class="c33" d="M799.2 423.7h7.6v7.6h-7.6z"/>
<path class="c34" d="M799.2 423.7L806.8 431.3"/>
<path class="c34" d="M799.2 431.3L806.8 423.7"/>
<path class="c35" d="M804.9 423.7L810 430.9L807.7 430.9L806.4 427.1Z"/>
<path class="c27" d="M799.2 432.5L804.5 432.5"/>
<path class="c33" d="M820.7 423.7h7.6v7.6h-7.6z"/>
<path class="c34" d="M820.7 423.7L828.3 431.3"/>
<path class="c34" d="M820.7 431.3L828.3 423.7"/>
<path class="c35" d="M826.4 423.7L831.5 430.9L829.2 430.9L827.9 427.1Z"/>
<path class="c27" d="M820.7 432.5L826 432.5"/>
<path class="c67" d="M742 453L868.2 453"/>
<path class="c67" d="M746.3 453L746.3 571.2"/>
<path class="c17" d="M746.3 571.2L868.2 571.2"/>
<path class="c67" d="M868.2 420.6L868.2 571.2"/>
<path class="c89" d="M742.2 448h11.2v123.2h-11.2z"/>
<path class="c89" d="M775.6 448h10.1v123.2h-10.1z"/>
<path class="c89" d="M792.8 448h10.7v123.2h-10.7z"/>
<path class="c89" d="M823.5 448h10.3v123.2h-10.3z"/>
<path class="c89" d="M841.3 448h11.1v123.2h-11.1z"/>
<path class="c95" d="M756.8 458L756.8 554"/>
<path class="c96" d="M747.3 462.4L756.8 462.4"/>
<circle class="c97" cx="747.3" cy="462.4" r="2.5"/>
<circle class="c98" cx="747.3" cy="462.4" r="1"/>
<path class="c96" d="M747.3 490.7L756.8 490.7"/>
<circle class="c97" cx="747.3" cy="490.7" r="2.5"/>
<circle class="c98" cx="747.3" cy="490.7" r="1"/>
<path class="c96" d="M747.3 521.3L756.8 521.3"/>
<circle class="c97" cx="747.3" cy="521.3" r="2.5"/>
<circle class="c98" cx="747.3" cy="521.3" r="1"/>
<path class="c96" d="M747.3 554L756.8 554"/>
<circle class="c97" cx="747.3" cy="554" r="2.5"/>
<circle class="c98" cx="747.3" cy="554" r="1"/>
<path class="c95" d="M788.7 462.4L788.7 554"/>
<path class="c96" d="M780 462.4L798.4 462.4"/>
<circle class="c97" cx="780" cy="462.4" r="2.5"/>
<circle class="c98" cx="780" cy="462.4" r="1"/>
<circle class="c97" cx="798.4" cy="462.4" r="2.5"/>
<circle class="c98" cx="798.4" cy="462.4" r="1"/>
<path class="c96" d="M780 490.7L798.4 490.7"/>
<circle class="c97" cx="780" cy="490.7" r="2.5"/>
<circle class="c98" cx="780" cy="490.7" r="1"/>
<circle class="c97" cx="798.4" cy="490.7" r="2.5"/>
<circle class="c98" cx="798.4" cy="490.7" r="1"/>
<path class="c96" d="M780 521.3L798.4 521.3"/>
<circle class="c97" cx="780" cy="521.3" r="2.5"/>
<circle class="c98" cx="780" cy="521.3" r="1"/>
<circle class="c97" cx="798.4" cy="521.3" r="2.5"/>
<circle class="c98" cx="798.4" cy="521.3" r="1"/>
<path class="c96" d="M780 554L798.4 554"/>
<circle class="c97" cx="780" cy="554" r="2.5"/>
<circle class="c98" cx="780" cy="554" r="1"/>
<circle class="c97" cx="798.4" cy="554" r="2.5"/>
<circle class="c98" cx="798.4" cy="554" r="1"/>
<path class="c95" d="M837.9 462.4L837.9 554"/>
<path class="c96" d="M828.8 462.4L847 462.4"/>
<circle class="c97" cx="828.8" cy="462.4" r="2.5"/>
<circle class="c98" cx="828.8" cy="462.4" r="1"/>
<circle class="c97" cx="847" cy="462.4" r="2.5"/>
<circle class="c98" cx="847" cy="462.4" r="1"/>
<path class="c96" d="M828.8 490.7L847 490.7"/>
<circle class="c97" cx="828.8" cy="490.7" r="2.5"/>
<circle class="c98" cx="828.8" cy="490.7" r="1"/>
<circle class="c97" cx="847" cy="490.7" r="2.5"/>
<circle class="c98" cx="847" cy="490.7" r="1"/>
<path class="c96" d="M828.8 521.3L847 521.3"/>
<circle class="c97" cx="828.8" cy="521.3" r="2.5"/>
<circle class="c98" cx="828.8" cy="521.3" r="1"/>
<circle class="c97" cx="847" cy="521.3" r="2.5"/>
<circle class="c98" cx="847" cy="521.3" r="1"/>
<path class="c96" d="M828.8 554L847 554"/>
<circle class="c97" cx="828.8" cy="554" r="2.5"/>
<circle class="c98" cx="828.8" cy="554" r="1"/>
<circle class="c97" cx="847" cy="554" r="2.5"/>
<circle class="c98" cx="847" cy="554" r="1"/>
<path class="c87" d="M756.8 498.8L1075 498.8"/>
<path class="c88" d="M756.8 497L1075 497"/>
<path class="c88" d="M756.8 500.6L1075 500.6"/>
<path class="c14" d="M742 549L892.9 549"/>
<g transform="translate(763.5 443.8) scale(0.987 1)" fill="#8886c6" stroke="none" font-size="10.6" font-family="Liberation Serif, Noto Serif CJK SC, serif"><text x="0" y="0">有機儀器室</text><text x="53.00" y="0" font-size="10.60" font-family="Liberation Serif, sans-serif" xml:space="preserve">110</text><text x="68.90" y="0">平</text></g>
<path class="c39" d="M790 466L790 462L830 462"/>
<text x="791" y="461.2" font-size="3.6" fill="#666" text-anchor="start" font-family="Liberation Sans, sans-serif" textLength="38" lengthAdjust="spacingAndGlyphs">BVV3*0.5mm2-PC20</text>
<path class="c39" d="M789 571L789 566L831 566"/>
<text x="790.5" y="565" font-size="3.6" fill="#666" text-anchor="start" font-family="Liberation Sans, sans-serif" textLength="38" lengthAdjust="spacingAndGlyphs">BVV3*0.5mm2-PC20</text>
<text transform="translate(745.5 561.5)" font-size="2.4" fill="#a05050" font-family="Liberation Serif, Noto Serif CJK SC, serif">備件</text>
<text transform="translate(778.5 561.5)" font-size="2.4" fill="#a05050" font-family="Liberation Serif, Noto Serif CJK SC, serif">備件</text>
<text transform="translate(796.5 561.5)" font-size="2.4" fill="#a05050" font-family="Liberation Serif, Noto Serif CJK SC, serif">備件</text>
<text transform="translate(826.5 561.5)" font-size="2.4" fill="#a05050" font-family="Liberation Serif, Noto Serif CJK SC, serif">備件</text>
<text transform="translate(844.5 561.5)" font-size="2.4" fill="#a05050" font-family="Liberation Serif, Noto Serif CJK SC, serif">備件</text>
<path class="c99" d="M866 453L866 447L889 447"/>
<path class="c57" d="M864.6 452h2.6v6.5h-2.6z"/>
<text transform="translate(868.0 445.5)" font-size="3" fill="#111" font-family="Liberation Serif, Noto Serif CJK SC, serif">空調控制箱</text>
<path class="c14" d="M881 420.5L913 420.5"/>
<text x="882" y="419.3" font-size="4.2" fill="#777" text-anchor="start" font-family="Liberation Sans, sans-serif" textLength="30" lengthAdjust="spacingAndGlyphs">YJV3*2.5mm2-PC20</text>
<path class="c75" d="M730.1 572.6h97.1v5.3h-97.1z"/>
<path class="c98" d="M730.1 577.9 A3 3.4 0 0 1 736.2 577.9"/>
<path class="c100" d="M730.1 572.6L730.1 577.9"/>
<path class="c98" d="M736.2 577.9 A3 3.4 0 0 1 742.2 577.9"/>
<path class="c100" d="M736.2 572.6L736.2 577.9"/>
<path class="c98" d="M742.2 577.9 A3 3.4 0 0 1 748.3 577.9"/>
<path class="c100" d="M742.2 572.6L742.2 577.9"/>
<path class="c98" d="M748.3 577.9 A3 3.4 0 0 1 754.4 577.9"/>
<path class="c100" d="M748.3 572.6L748.3 577.9"/>
<path class="c98" d="M754.4 577.9 A3 3.4 0 0 1 760.5 577.9"/>
<path class="c100" d="M754.4 572.6L754.4 577.9"/>
<path class="c98" d="M760.5 577.9 A3 3.4 0 0 1 766.5 577.9"/>
<path class="c100" d="M760.5 572.6L760.5 577.9"/>
<path class="c98" d="M766.5 577.9 A3 3.4 0 0 1 772.6 577.9"/>
<path class="c100" d="M766.5 572.6L766.5 577.9"/>
<path class="c98" d="M772.6 577.9 A3 3.4 0 0 1 778.7 577.9"/>
<path class="c100" d="M772.6 572.6L772.6 577.9"/>
<path class="c98" d="M778.7 577.9 A3 3.4 0 0 1 784.7 577.9"/>
<path class="c100" d="M778.7 572.6L778.7 577.9"/>
<path class="c98" d="M784.7 577.9 A3 3.4 0 0 1 790.8 577.9"/>
<path class="c100" d="M784.7 572.6L784.7 577.9"/>
<path class="c98" d="M790.8 577.9 A3 3.4 0 0 1 796.9 577.9"/>
<path class="c100" d="M790.8 572.6L790.8 577.9"/>
<path class="c98" d="M796.9 577.9 A3 3.4 0 0 1 802.9 577.9"/>
<path class="c100" d="M796.9 572.6L796.9 577.9"/>
<path class="c98" d="M802.9 577.9 A3 3.4 0 0 1 809 577.9"/>
<path class="c100" d="M802.9 572.6L802.9 577.9"/>
<path class="c98" d="M809 577.9 A3 3.4 0 0 1 815.1 577.9"/>
<path class="c100" d="M809 572.6L809 577.9"/>
<path class="c98" d="M815.1 577.9 A3 3.4 0 0 1 821.2 577.9"/>
<path class="c100" d="M815.1 572.6L815.1 577.9"/>
<path class="c98" d="M821.2 577.9 A3 3.4 0 0 1 827.2 577.9"/>
<path class="c100" d="M821.2 572.6L821.2 577.9"/>
<g transform="translate(779.6 588.0) scale(1.011 1)" fill="#8886c6" stroke="none" font-size="7.4" font-family="Liberation Serif, Noto Serif CJK SC, serif"><text x="0" y="0">氣瓶室</text><text x="22.20" y="0" font-size="7.40" font-family="Liberation Serif, sans-serif" xml:space="preserve">11</text><text x="29.60" y="0">平</text></g>
<path class="c87" d="M724 588.8L801.9 588.8"/>
<path class="c88" d="M733 587.2L801.9 587.2"/>
<path class="c88" d="M733 590.4L801.9 590.4"/>
<path class="c0" d="M801.9 577L801.9 601.5"/>
<path class="c56" d="M798.7 574L805.1 574L798.7 580.4L805.1 580.4Z"/>
<circle class="c86" cx="801.9" cy="577.2" r="1.3"/>
<path class="c56" d="M798.7 598.1L805.1 598.1L798.7 604.5L805.1 604.5Z"/>
<circle class="c86" cx="801.9" cy="601.3" r="1.3"/>
<path class="c56" d="M730.5 586L730.5 591.6L736.1 586L736.1 591.6Z"/>
<circle class="c86" cx="733.3" cy="588.8" r="1.3"/>
<path class="c101" d="M719.6 588.8L722.4 586L722.4 591.6Z"/>
<path class="c56" d="M726 588.8L723.2 586L723.2 591.6Z"/>
<path class="c49" d="M740.2 588.8L740.2 628.8"/>
<path class="c88" d="M738.7 590L738.7 628.8"/>
<path class="c88" d="M741.7 590L741.7 628.8"/>
<path class="c4" d="M728.2 605.6 L755 605.6 Q757 605.6 757 607.4 Q757 609.2 755 609.2 L728.2 609.2"/>
<path class="c4" d="M768.5 633.9 L768.5 607 Q768.5 605.4 770.5 605.4 Q772.6 605.4 772.6 607 L772.6 633.9"/>
<path class="c4" d="M728.2 630.8L772.6 630.8"/>
<path class="c4" d="M728.2 633.9L772.6 633.9"/>
<path class="c94" d="M772.6 609.5L772.6 616.5"/>
<path class="c99" d="M770 610.5L775.2 615.5"/>
<path class="c99" d="M770 615.5L775.2 610.5"/>
<path class="c75" d="M729.1 625.4h23.3v4h-23.3z"/>
<path class="c102" d="M733 626.3h5v2.2h-5z"/>
<text transform="translate(743.5 622.2) scale(1.167 1)" font-size="3.6" fill="#8886c6" font-family="Liberation Serif, Noto Serif CJK SC, serif">空压泵机房</text>
<path class="c14" d="M757 605.6 L757 596.5 A9 9 0 0 1 768.5 605.4"/>
<path class="c24" d="M772.6 606L868.6 606"/>
<path class="c24" d="M772.6 633.5L868.6 633.5"/>
<g transform="translate(815.0 623.6) scale(1.017 1)" fill="#8886c6" stroke="none" font-size="7" font-family="Liberation Serif, Noto Serif CJK SC, serif"><text x="0.00" y="0" font-size="7.00" font-family="Liberation Serif, sans-serif" xml:space="preserve">UPS</text><text x="12.84" y="0">室</text><text x="19.84" y="0" font-size="7.00" font-family="Liberation Serif, sans-serif" xml:space="preserve">14</text><text x="26.84" y="0">平</text></g>
<circle class="c13" cx="734.2" cy="638.9" r="2.2"/>
<circle class="c13" cx="860.5" cy="687.8" r="2.4"/>
<g transform="translate(777.5 658.6) scale(1.100 1)" fill="#8886c6" stroke="none" font-size="5.6" font-family="Liberation Serif, Noto Serif CJK SC, serif"><text x="0" y="0">鞋類皮革物理室</text><text x="39.20" y="0" font-size="5.60" font-family="Liberation Serif, sans-serif" xml:space="preserve"> 45</text><text x="46.20" y="0">平</text></g>
<path class="c14" d="M868.6 583 L858 583 A10.6 10.6 0 0 1 868.6 572.4"/>
<path class="c14" d="M868.6 620 L857.5 620 A11 11 0 0 0 868.6 631"/>
<path class="c14" d="M868.6 636 L857.5 636 Q855 640 859 644 Q855 648 859 652 L868.6 652"/>
<path class="c14" d="M868.6 660 L859 660 A9.6 9.6 0 0 0 868.6 669.6"/>
<path class="c24" d="M747.3 693.5L868.6 693.5"/>
<path class="c24" d="M756.4 693.5L756.4 820.8"/>
<path class="c24" d="M756.4 768.3L868.6 768.3"/>
<path class="c24" d="M728.2 775.4L756.4 775.4"/>
<path class="c103" d="M756.4 820.8L868.6 820.8"/>
<path class="c25" d="M733 734.5L756.4 734.5"/>
<path class="c25" d="M733 734.5L733 745"/>
<path class="c89" d="M756.4 694.9h112.2v9.3h-112.2z"/>
<text transform="translate(854.5 701.0)" font-size="2.6" fill="#333" font-family="Liberation Serif, Noto Serif CJK SC, serif">備件</text>
<path class="c65" d="M777 723.8h76.4v20.2h-76.4z"/>
<text transform="translate(805.0 735.0)" font-size="2.8" fill="#111" font-family="Liberation Serif, Noto Serif CJK SC, serif">恒温恒湿箱</text>
<g transform="translate(789.8 752.6) scale(1.093 1)" fill="#8886c6" stroke="none" font-size="5.6" font-family="Liberation Serif, Noto Serif CJK SC, serif"><text x="0" y="0">恆溫恆濕間間</text><text x="33.60" y="0" font-size="5.60" font-family="Liberation Serif, sans-serif" xml:space="preserve"> 41</text><text x="40.60" y="0">平</text></g>
<text transform="translate(733.1 707.4) scale(1.009 1)" font-size="7.6" fill="#8886c6" font-family="Liberation Serif, Noto Serif CJK SC, serif">缓冲间</text>
<g transform="translate(733.1 719.2) scale(0.921 1)" fill="#8886c6" stroke="none"><text x="0.00" y="0" font-size="7.60" font-family="Liberation Serif, sans-serif" xml:space="preserve">6</text><text x="3.80" y="0" font-size="7.6" font-family="Liberation Serif, Noto Serif CJK SC, serif">平</text></g>
<text transform="translate(731.1 753.8) scale(1.009 1)" font-size="7.6" fill="#8886c6" font-family="Liberation Serif, Noto Serif CJK SC, serif">機組间</text>
<g transform="translate(731.1 765.8) scale(0.921 1)" fill="#8886c6" stroke="none"><text x="0.00" y="0" font-size="7.60" font-family="Liberation Serif, sans-serif" xml:space="preserve">6</text><text x="3.80" y="0" font-size="7.6" font-family="Liberation Serif, Noto Serif CJK SC, serif">平</text></g>
<path class="c14" d="M733.7 693.5 L733.7 682.5 A11 11 0 0 1 744.7 693.5"/>
<path class="c14" d="M756.4 722 L745.5 722 A10.9 10.9 0 0 0 756.4 732.9"/>
<path class="c14" d="M733 745 L733 734.5 M744 734.5 A11 11 0 0 0 733 745.5"/>
<path class="c104" d="M757.4 769.3h100.1v4.4h-100.1z"/>
<path class="c104" d="M857.5 769.3 Q861.6 769.3 861.6 773.5 L861.6 807.7 M857.5 773.7 L857.5 807.7"/>
<path class="c105" d="M759 771.5L857 771.5"/>
<path class="c106" d="M763.6 771.5L857 771.5"/>
<path class="c107" d="M859.5 775L859.5 806"/>
<g transform="translate(775.0 782.8) scale(1.108 1)" fill="#8886c6" stroke="none" font-size="5.6" font-family="Liberation Serif, Noto Serif CJK SC, serif"><text x="0" y="0">有机试剂室</text><text x="28.00" y="0" font-size="5.60" font-family="Liberation Serif, sans-serif" xml:space="preserve"> 31</text><text x="35.00" y="0">平</text></g>
<path class="c23" d="M757.4 786.5h27.1v7.5h-27.1z"/>
<path class="c32" d="M757.4 786.5L784.5 794"/>
<path class="c32" d="M757.4 794L784.5 786.5"/>
<path class="c23" d="M757.4 794h27.1v7.6h-27.1z"/>
<path class="c32" d="M757.4 794L784.5 801.6"/>
<path class="c32" d="M757.4 801.6L784.5 794"/>
<path class="c23" d="M784.5 786.5h27.1v7.5h-27.1z"/>
<path class="c32" d="M784.5 786.5L811.6 794"/>
<path class="c32" d="M784.5 794L811.6 786.5"/>
<path class="c23" d="M784.5 794h27.1v7.6h-27.1z"/>
<path class="c32" d="M784.5 794L811.6 801.6"/>
<path class="c32" d="M784.5 801.6L811.6 794"/>
<path class="c23" d="M811.6 786.5h27.1v7.5h-27.1z"/>
<path class="c32" d="M811.6 786.5L838.7 794"/>
<path class="c32" d="M811.6 794L838.7 786.5"/>
<path class="c23" d="M811.6 794h27.1v7.6h-27.1z"/>
<path class="c32" d="M811.6 794L838.7 801.6"/>
<path class="c32" d="M811.6 801.6L838.7 794"/>
<path class="c23" d="M757.4 812.4h27v8.4h-27z"/>
<path class="c32" d="M757.4 812.4L784.4 820.8"/>
<path class="c32" d="M757.4 820.8L784.4 812.4"/>
<path class="c23" d="M784.4 812.4h27v8.4h-27z"/>
<path class="c32" d="M784.4 812.4L811.5 820.8"/>
<path class="c32" d="M784.4 820.8L811.5 812.4"/>
<path class="c23" d="M811.5 812.4h27v8.4h-27z"/>
<path class="c32" d="M811.5 812.4L838.5 820.8"/>
<path class="c32" d="M811.5 820.8L838.5 812.4"/>
<path class="c23" d="M838.5 812.4h27v8.4h-27z"/>
<path class="c32" d="M838.5 812.4L865.6 820.8"/>
<path class="c32" d="M838.5 820.8L865.6 812.4"/>
<path class="c87" d="M767.5 807.3L859.5 807.3"/>
<path class="c88" d="M770 805.8L858 805.8"/>
<path class="c88" d="M770 808.8L858 808.8"/>
<path class="c56" d="M764.3 804.1L764.3 810.5L770.7 804.1L770.7 810.5Z"/>
<circle class="c86" cx="767.5" cy="807.3" r="1.3"/>
<path class="c87" d="M859.5 797.6L1096 797.6"/>
<path class="c108" d="M861 794.4L1096 794.4"/>
<path class="c108" d="M861 800.8L1096 800.8"/>
<g transform="translate(748.3 837.6) scale(1.091 1)" fill="#111" stroke="none"><text x="0" y="0" font-size="3" font-family="Liberation Serif, Noto Serif CJK SC, serif">電動門禁</text><text x="12.00" y="0" font-size="3.00" font-family="Liberation Sans, sans-serif" xml:space="preserve">,</text></g>
<text transform="translate(748.3 842.0) scale(1.056 1)" font-size="3" fill="#111" font-family="Liberation Serif, Noto Serif CJK SC, serif">兼有打卡功能</text>
<path class="c14" d="M728 803 L720 800 Q716 806 721 812.8 L728 812.8 M728 822.6 L720 825.6 Q716 819.5 721 812.8"/>
<path class="c14" d="M756.4 820.8 L745 820.8 M756.4 832 A11 11 0 0 1 745.4 820.8"/>
<path class="c14" d="M868.6 760 L877 760 M868.6 780 L877.6 780 A9 9 0 0 0 868.6 771"/>
<path class="c81" d="M891.9 668.2L891.9 824.9"/>
<path class="c81" d="M891.9 668.5L1079 668.5"/>
<path class="c81" d="M869.6 789.1L891.9 789.1"/>
<path class="c109" d="M869.6 789.1L872.5 786.4L872.5 791.8Z"/>
<path class="c110" d="M871 789L875.5 794"/>
<circle class="c18" cx="889.8" cy="666.2" r="1.5"/>
<path class="c19" d="M889.8 666.2L886.6 662.8"/>
<path class="c20" d="M889.8 666.2L892.7 669.9"/>
<circle class="c18" cx="889.8" cy="706.6" r="1.5"/>
<path class="c19" d="M889.8 706.6L886.6 703.2"/>
<path class="c20" d="M889.8 706.6L892.7 710.3"/>
<circle class="c18" cx="889.8" cy="822.9" r="1.5"/>
<path class="c19" d="M889.8 822.9L886.6 819.5"/>
<path class="c20" d="M889.8 822.9L892.7 826.6"/>
<circle class="c18" cx="889" cy="306.5" r="1.5"/>
<path class="c19" d="M889 306.5L885.8 303.3"/>
<path class="c20" d="M889 306.5L891.9 310"/>
<circle class="c18" cx="889.5" cy="386.8" r="1.5"/>
<path class="c19" d="M889.5 386.8L886.3 383.6"/>
<path class="c20" d="M889.5 386.8L892.4 390.3"/>
<circle class="c18" cx="891" cy="466.4" r="1.5"/>
<path class="c19" d="M891 466.4L887.8 463.2"/>
<path class="c20" d="M891 466.4L893.9 469.9"/>
<circle class="c18" cx="890.8" cy="498.6" r="1.5"/>
<path class="c19" d="M890.8 498.6L887.6 495.4"/>
<path class="c20" d="M890.8 498.6L893.7 502.1"/>
<circle class="c18" cx="890.5" cy="581" r="1.5"/>
<path class="c19" d="M890.5 581L887.3 577.8"/>
<path class="c20" d="M890.5 581L893.4 584.5"/>
<circle class="c18" cx="870.4" cy="319" r="1.5"/>
<path class="c19" d="M870.4 319L867.8 315.8"/>
<path class="c20" d="M870.4 319L872.7 322.5"/>
<circle class="c18" cx="872" cy="789.5" r="1.5"/>
<path class="c19" d="M872 789.5L869.4 786.3"/>
<path class="c20" d="M872 789.5L874.3 793"/>
<path class="c89" d="M911.4 284.3h75.7v9.3h-75.7z"/>
<path class="c89" d="M1003.6 284.3h48.5v9.3h-48.5z"/>
<text transform="translate(1037.0 290.6)" font-size="2.6" fill="#444" font-family="Liberation Serif, Noto Serif CJK SC, serif">備件</text>
<path class="c111" d="M1008.8 287.1h4.4v4.4h-4.4z"/>
<circle class="c111" cx="1011" cy="289.3" r="1.2"/>
<path class="c110" d="M952.1 285.7h33.6v4.5h-33.6z"/>
<text x="953.2" y="289.4" font-size="4.0" fill="#444" text-anchor="start" font-family="Liberation Sans, sans-serif" textLength="31" lengthAdjust="spacingAndGlyphs">BV3*2.5mm2-PC20</text>
<path class="c87" d="M832.6 296.4L1098 296.4"/>
<path class="c108" d="M832.6 294.8L1096 294.8"/>
<path class="c108" d="M832.6 298L1096 298"/>
<circle class="c112" cx="832.6" cy="296.4" r="1.2"/>
<path class="c87" d="M909.7 296.4L909.7 313.5"/>
<path class="c67" d="M1011 284.5L1074.4 301.2"/>
<path class="c113" d="M892.9 305.8L1075 305.8"/>
<path class="c114" d="M1007.9 275L1007.9 296"/>
<path class="c19" d="M952.1 305.6L952.1 313.6L985.7 313.6"/>
<text x="953.3" y="312.4" font-size="4.2" fill="#606060" text-anchor="start" font-family="Liberation Sans, sans-serif" textLength="31.2" lengthAdjust="spacingAndGlyphs">BV3*2.5mm2-PC20</text>
<path class="c89" d="M913.6 312.4h140.7v19.7h-140.7z"/>
<path class="c115" d="M923.6 312.4L923.6 332.1"/>
<path class="c115" d="M1044.3 312.4L1044.3 332.1"/>
<path class="c116" d="M923.6 319.5L1044.3 319.5"/>
<path class="c116" d="M923.6 323.8L1044.3 323.8"/>
<path class="c117" d="M923 318.2L923 325"/>
<path class="c117" d="M1044.9 318.2L1044.9 325"/>
<path class="c111" d="M915.8 318.8h5.6v5.6h-5.6z"/>
<circle class="c111" cx="918.6" cy="321.6" r="1.5"/>
<path class="c111" d="M1045.9 318.8h5.6v5.6h-5.6z"/>
<circle class="c111" cx="1048.7" cy="321.6" r="1.5"/>
<g transform="translate(950.0 329.9) scale(1.020 1)" fill="#d060c0" stroke="none" font-size="3" font-family="Liberation Serif, Noto Serif CJK SC, serif"><text x="0" y="0">備件</text><text x="6.00" y="0" font-size="3.00" font-family="Liberation Sans, sans-serif" xml:space="preserve">-</text><text x="7.00" y="0">工作不銹鋼</text><text x="22.00" y="0" font-size="3.00" font-family="Liberation Sans, sans-serif" xml:space="preserve"> 7</text></g>
<path class="c118" d="M977.1 322.4L991.4 322.4"/>
<path class="c119" d="M981.4 321.2h5.7v2.6h-5.7z"/>
<path class="c120" d="M977.1 320.4L978.6 322.4L977.1 324.6"/>
<path class="c120" d="M991.4 320.4L989.9 322.4L991.4 324.6"/>
<path class="c111" d="M982 314.8h4.6v4.6h-4.6z"/>
<circle class="c111" cx="984.3" cy="317.1" r="1.3"/>
<path class="c111" d="M982 325.6h4.6v4.6h-4.6z"/>
<circle class="c111" cx="984.3" cy="327.9" r="1.3"/>
<path class="c93" d="M892.9 329L1075 329"/>
<path class="c19" d="M1027.9 317.6L1065 317.6"/>
<path class="c19" d="M1065 317.6L1070 323.6"/>
<text x="1029" y="316.6" font-size="4.0" fill="#666" text-anchor="start" font-family="Liberation Sans, sans-serif" textLength="35" lengthAdjust="spacingAndGlyphs">BVV3*0.75mm2-PC20</text>
<path class="c14" d="M915.7 330L926.4 338.7"/>
<path class="c14" d="M926.4 338.7L959.3 338.7"/>
<text x="927.4" y="337.5" font-size="4.2" fill="#777" text-anchor="start" font-family="Liberation Sans, sans-serif" textLength="30.9" lengthAdjust="spacingAndGlyphs">YJV3*2.5mm2-PC20</text>
<path class="c121" d="M1069.3 322.6h5v5.5h-5z"/>
<path class="c122" d="M1070.6 324.1h2.4v2.5h-2.4z"/>
<path class="c123" d="M918.5 343.4h143.5v6.4h-143.5z"/>
<path class="c124" d="M920.5 346.6L1070 346.6"/>
<path class="c125" d="M920.4 344.2h8.6v4.8h-8.6z"/>
<path class="c125" d="M940.7 344.2h8.6v4.8h-8.6z"/>
<path class="c125" d="M961 344.2h8.6v4.8h-8.6z"/>
<path class="c125" d="M981.3 344.2h8.6v4.8h-8.6z"/>
<path class="c125" d="M1001.6 344.2h8.6v4.8h-8.6z"/>
<path class="c125" d="M1021.9 344.2h8.6v4.8h-8.6z"/>
<path class="c125" d="M1042.2 344.2h8.6v4.8h-8.6z"/>
<path class="c126" d="M916.5 352.4h19.1v23.5h-19.1z"/>
<path class="c127" d="M917.8 353.7h16.5v20.9h-16.5z"/>
<path class="c119" d="M921.4 354.4h9.2v2.2h-9.2z"/>
<path class="c119" d="M921.4 371.7h9.2v2.2h-9.2z"/>
<path class="c128" d="M923.8 357.4h4.4v4.4h-4.4z"/>
<circle class="c85" cx="926" cy="359.6" r="1"/>
<path class="c129" d="M920 362L923 359.6"/>
<path class="c129" d="M932 362L929 359.6"/>
<path class="c128" d="M923.8 366.5h4.4v4.4h-4.4z"/>
<circle class="c85" cx="926" cy="368.7" r="1"/>
<path class="c129" d="M920 366.3L923 368.7"/>
<path class="c129" d="M932 366.3L929 368.7"/>
<path class="c126" d="M936.8 352.4h19.1v23.5h-19.1z"/>
<path class="c127" d="M938.1 353.7h16.5v20.9h-16.5z"/>
<path class="c119" d="M941.7 354.4h9.2v2.2h-9.2z"/>
<path class="c119" d="M941.7 371.7h9.2v2.2h-9.2z"/>
<path class="c128" d="M944.1 357.4h4.4v4.4h-4.4z"/>
<circle class="c85" cx="946.3" cy="359.6" r="1"/>
<path class="c129" d="M940.3 362L943.3 359.6"/>
<path class="c129" d="M952.3 362L949.3 359.6"/>
<path class="c128" d="M944.1 366.5h4.4v4.4h-4.4z"/>
<circle class="c85" cx="946.3" cy="368.7" r="1"/>
<path class="c129" d="M940.3 366.3L943.3 368.7"/>
<path class="c129" d="M952.3 366.3L949.3 368.7"/>
<path class="c126" d="M957.1 352.4h19.1v23.5h-19.1z"/>
<path class="c127" d="M958.4 353.7h16.5v20.9h-16.5z"/>
<path class="c119" d="M962 354.4h9.2v2.2h-9.2z"/>
<path class="c119" d="M962 371.7h9.2v2.2h-9.2z"/>
<path class="c128" d="M964.4 357.4h4.4v4.4h-4.4z"/>
<circle class="c85" cx="966.6" cy="359.6" r="1"/>
<path class="c129" d="M960.6 362L963.6 359.6"/>
<path class="c129" d="M972.6 362L969.6 359.6"/>
<path class="c128" d="M964.4 366.5h4.4v4.4h-4.4z"/>
<circle class="c85" cx="966.6" cy="368.7" r="1"/>
<path class="c129" d="M960.6 366.3L963.6 368.7"/>
<path class="c129" d="M972.6 366.3L969.6 368.7"/>
<path class="c126" d="M977.4 352.4h19.1v23.5h-19.1z"/>
<path class="c127" d="M978.7 353.7h16.5v20.9h-16.5z"/>
<path class="c119" d="M982.3 354.4h9.2v2.2h-9.2z"/>
<path class="c119" d="M982.3 371.7h9.2v2.2h-9.2z"/>
<path class="c128" d="M984.7 357.4h4.4v4.4h-4.4z"/>
<circle class="c85" cx="986.9" cy="359.6" r="1"/>
<path class="c129" d="M980.9 362L983.9 359.6"/>
<path class="c129" d="M992.9 362L989.9 359.6"/>
<path class="c128" d="M984.7 366.5h4.4v4.4h-4.4z"/>
<circle class="c85" cx="986.9" cy="368.7" r="1"/>
<path class="c129" d="M980.9 366.3L983.9 368.7"/>
<path class="c129" d="M992.9 366.3L989.9 368.7"/>
<path class="c126" d="M997.7 352.4h19.1v23.5h-19.1z"/>
<path class="c127" d="M999 353.7h16.5v20.9h-16.5z"/>
<path class="c119" d="M1002.6 354.4h9.2v2.2h-9.2z"/>
<path class="c119" d="M1002.6 371.7h9.2v2.2h-9.2z"/>
<path class="c128" d="M1005 357.4h4.4v4.4h-4.4z"/>
<circle class="c85" cx="1007.2" cy="359.6" r="1"/>
<path class="c129" d="M1001.2 362L1004.2 359.6"/>
<path class="c129" d="M1013.2 362L1010.2 359.6"/>
<path class="c128" d="M1005 366.5h4.4v4.4h-4.4z"/>
<circle class="c85" cx="1007.2" cy="368.7" r="1"/>
<path class="c129" d="M1001.2 366.3L1004.2 368.7"/>
<path class="c129" d="M1013.2 366.3L1010.2 368.7"/>
<path class="c126" d="M1018 352.4h19.1v23.5h-19.1z"/>
<path class="c127" d="M1019.3 353.7h16.5v20.9h-16.5z"/>
<path class="c119" d="M1022.9 354.4h9.2v2.2h-9.2z"/>
<path class="c119" d="M1022.9 371.7h9.2v2.2h-9.2z"/>
<path class="c128" d="M1025.3 357.4h4.4v4.4h-4.4z"/>
<circle class="c85" cx="1027.5" cy="359.6" r="1"/>
<path class="c129" d="M1021.5 362L1024.5 359.6"/>
<path class="c129" d="M1033.5 362L1030.5 359.6"/>
<path class="c128" d="M1025.3 366.5h4.4v4.4h-4.4z"/>
<circle class="c85" cx="1027.5" cy="368.7" r="1"/>
<path class="c129" d="M1021.5 366.3L1024.5 368.7"/>
<path class="c129" d="M1033.5 366.3L1030.5 368.7"/>
<path class="c126" d="M1038.3 352.4h19.1v23.5h-19.1z"/>
<path class="c127" d="M1039.6 353.7h16.5v20.9h-16.5z"/>
<path class="c119" d="M1043.3 354.4h9.2v2.2h-9.2z"/>
<path class="c119" d="M1043.3 371.7h9.2v2.2h-9.2z"/>
<path class="c128" d="M1045.7 357.4h4.4v4.4h-4.4z"/>
<circle class="c85" cx="1047.9" cy="359.6" r="1"/>
<path class="c129" d="M1041.9 362L1044.9 359.6"/>
<path class="c129" d="M1053.9 362L1050.9 359.6"/>
<path class="c128" d="M1045.7 366.5h4.4v4.4h-4.4z"/>
<circle class="c85" cx="1047.9" cy="368.7" r="1"/>
<path class="c129" d="M1041.9 366.3L1044.9 368.7"/>
<path class="c129" d="M1053.9 366.3L1050.9 368.7"/>
<path class="c130" d="M913 363.9L1060 363.9"/>
<path class="c131" d="M905 363.9L1075 363.9"/>
<path class="c123" d="M918.5 378h143.5v6.5h-143.5z"/>
<path class="c124" d="M920.5 381.2L1070 381.2"/>
<path class="c125" d="M920.4 378.8h8.6v4.9h-8.6z"/>
<path class="c125" d="M940.7 378.8h8.6v4.9h-8.6z"/>
<path class="c125" d="M961 378.8h8.6v4.9h-8.6z"/>
<path class="c125" d="M981.3 378.8h8.6v4.9h-8.6z"/>
<path class="c125" d="M1001.6 378.8h8.6v4.9h-8.6z"/>
<path class="c125" d="M1021.9 378.8h8.6v4.9h-8.6z"/>
<path class="c125" d="M1042.2 378.8h8.6v4.9h-8.6z"/>
<circle class="c132" cx="1063.8" cy="351.7" r="1.9"/>
<circle class="c85" cx="1064.2" cy="376.2" r="1.9"/>
<path class="c19" d="M952.5 387.8L952.5 395.6L986 395.6"/>
<text x="953.7" y="394.4" font-size="4.2" fill="#606060" text-anchor="start" font-family="Liberation Sans, sans-serif" textLength="31.1" lengthAdjust="spacingAndGlyphs">BV3*2.5mm2-PC20</text>
<path class="c89" d="M913.1 394.3h141.6v20.3h-141.6z"/>
<path class="c115" d="M923.1 394.3L923.1 414.6"/>
<path class="c115" d="M1044.7 394.3L1044.7 414.6"/>
<path class="c116" d="M923.1 401.8L1044.7 401.8"/>
<path class="c116" d="M923.1 406L1044.7 406"/>
<path class="c117" d="M922.5 400.5L922.5 407.2"/>
<path class="c117" d="M1045.3 400.5L1045.3 407.2"/>
<path class="c111" d="M915.3 401.1h5.6v5.6h-5.6z"/>
<circle class="c111" cx="918.1" cy="403.9" r="1.5"/>
<path class="c111" d="M1046.3 401.1h5.6v5.6h-5.6z"/>
<circle class="c111" cx="1049.1" cy="403.9" r="1.5"/>
<g transform="translate(949.0 412.4) scale(1.020 1)" fill="#d060c0" stroke="none" font-size="3" font-family="Liberation Serif, Noto Serif CJK SC, serif"><text x="0" y="0">備件</text><text x="6.00" y="0" font-size="3.00" font-family="Liberation Sans, sans-serif" xml:space="preserve">-</text><text x="7.00" y="0">工作不銹鋼</text><text x="22.00" y="0" font-size="3.00" font-family="Liberation Sans, sans-serif" xml:space="preserve"> 7</text></g>
<path class="c123" d="M932.9 423.6h135.7v7.4h-135.7z"/>
<path class="c124" d="M934.9 427.3L1076.6 427.3"/>
<path class="c125" d="M933.6 424.4h8.6v5.8h-8.6z"/>
<path class="c125" d="M954 424.4h8.6v5.8h-8.6z"/>
<path class="c125" d="M974.4 424.4h8.6v5.8h-8.6z"/>
<path class="c125" d="M994.8 424.4h8.6v5.8h-8.6z"/>
<path class="c125" d="M1015.2 424.4h8.6v5.8h-8.6z"/>
<path class="c125" d="M1035.6 424.4h8.6v5.8h-8.6z"/>
<path class="c125" d="M1056 424.4h8.6v5.8h-8.6z"/>
<path class="c126" d="M928.9 432.9h18.8v10.7h-18.8z"/>
<path class="c127" d="M930.2 434.2h16.2v8.1h-16.2z"/>
<path class="c119" d="M933.3 434.5h9v2.2h-9z"/>
<path class="c128" d="M936.9 437.5h4.4v4.5h-4.4z"/>
<circle class="c85" cx="939.1" cy="439.8" r="1.1"/>
<path class="c121" d="M931.3 436.9 q1 4 4.5 3.6"/>
<path class="c133" d="M941.3 440.4L945.9 440.4"/>
<path class="c126" d="M948.9 432.9h18.8v10.7h-18.8z"/>
<path class="c127" d="M950.2 434.2h16.2v8.1h-16.2z"/>
<path class="c119" d="M953.4 434.5h9v2.2h-9z"/>
<path class="c128" d="M957 437.5h4.4v4.5h-4.4z"/>
<circle class="c85" cx="959.2" cy="439.8" r="1.1"/>
<path class="c121" d="M951.3 436.9 q1 4 4.5 3.6"/>
<path class="c133" d="M961.4 440.4L966 440.4"/>
<path class="c126" d="M969 432.9h18.8v10.7h-18.8z"/>
<path class="c127" d="M970.3 434.2h16.2v8.1h-16.2z"/>
<path class="c119" d="M973.4 434.5h9v2.2h-9z"/>
<path class="c128" d="M977 437.5h4.4v4.5h-4.4z"/>
<circle class="c85" cx="979.2" cy="439.8" r="1.1"/>
<path class="c121" d="M971.4 436.9 q1 4 4.5 3.6"/>
<path class="c133" d="M981.4 440.4L986 440.4"/>
<path class="c126" d="M989 432.9h18.8v10.7h-18.8z"/>
<path class="c127" d="M990.3 434.2h16.2v8.1h-16.2z"/>
<path class="c119" d="M993.4 434.5h9v2.2h-9z"/>
<path class="c128" d="M997 437.5h4.4v4.5h-4.4z"/>
<circle class="c85" cx="999.2" cy="439.8" r="1.1"/>
<path class="c121" d="M991.4 436.9 q1 4 4.5 3.6"/>
<path class="c133" d="M1001.4 440.4L1006.1 440.4"/>
<path class="c126" d="M1009.1 432.9h18.8v10.7h-18.8z"/>
<path class="c127" d="M1010.4 434.2h16.2v8.1h-16.2z"/>
<path class="c119" d="M1013.5 434.5h9v2.2h-9z"/>
<path class="c128" d="M1017.1 437.5h4.4v4.5h-4.4z"/>
<circle class="c85" cx="1019.3" cy="439.8" r="1.1"/>
<path class="c121" d="M1011.5 436.9 q1 4 4.5 3.6"/>
<path class="c133" d="M1021.5 440.4L1026.1 440.4"/>
<path class="c126" d="M1029.1 432.9h18.8v10.7h-18.8z"/>
<path class="c127" d="M1030.4 434.2h16.2v8.1h-16.2z"/>
<path class="c119" d="M1033.5 434.5h9v2.2h-9z"/>
<path class="c128" d="M1037.1 437.5h4.4v4.5h-4.4z"/>
<circle class="c85" cx="1039.3" cy="439.8" r="1.1"/>
<path class="c121" d="M1031.5 436.9 q1 4 4.5 3.6"/>
<path class="c133" d="M1041.5 440.4L1046.1 440.4"/>
<path class="c126" d="M1049.1 432.9h18.8v10.7h-18.8z"/>
<path class="c127" d="M1050.4 434.2h16.2v8.1h-16.2z"/>
<path class="c119" d="M1053.6 434.5h9v2.2h-9z"/>
<path class="c128" d="M1057.2 437.5h4.4v4.5h-4.4z"/>
<circle class="c85" cx="1059.4" cy="439.8" r="1.1"/>
<path class="c121" d="M1051.5 436.9 q1 4 4.5 3.6"/>
<path class="c133" d="M1061.6 440.4L1066.2 440.4"/>
<path class="c89" d="M917.1 444.3h151.5v10.4h-151.5z"/>
<path class="c111" d="M963 446.9h4.8v4.8h-4.8z"/>
<circle class="c111" cx="965.4" cy="449.3" r="1.3"/>
<path class="c111" d="M1026.2 446.9h4.8v4.8h-4.8z"/>
<circle class="c111" cx="1028.6" cy="449.3" r="1.3"/>
<text transform="translate(986.0 450.8)" font-size="2.6" fill="#444" font-family="Liberation Serif, Noto Serif CJK SC, serif">備件</text>
<path class="c33" d="M900.7 433.6h8.6v8.6h-8.6z"/>
<path class="c34" d="M900.7 433.6L909.3 442.2"/>
<path class="c34" d="M900.7 442.2L909.3 433.6"/>
<path class="c35" d="M907.1 433.6L912.9 441.8L910.3 441.8L908.9 437.5Z"/>
<path class="c27" d="M900.7 443.4L906.7 443.4"/>
<path class="c33" d="M915.7 433.6h8.6v8.6h-8.6z"/>
<path class="c34" d="M915.7 433.6L924.3 442.2"/>
<path class="c34" d="M915.7 442.2L924.3 433.6"/>
<path class="c35" d="M922.1 433.6L927.9 441.8L925.3 441.8L923.9 437.5Z"/>
<path class="c27" d="M915.7 443.4L921.7 443.4"/>
<path class="c19" d="M952.9 449.4L952.9 457.7L985.4 457.7"/>
<text x="954.1" y="456.5" font-size="4.2" fill="#606060" text-anchor="start" font-family="Liberation Sans, sans-serif" textLength="30.1" lengthAdjust="spacingAndGlyphs">BV3*2.5mm2-PC20</text>
<path class="c110" d="M1027.5 447.4L1062 447.4"/>
<text x="1028.5" y="446.6" font-size="3.8" fill="#555" text-anchor="start" font-family="Liberation Sans, sans-serif" textLength="33" lengthAdjust="spacingAndGlyphs">BVV3*0.75mm2-PC20</text>
<path class="c134" d="M892.9 467.1L923.6 467.1"/>
<path class="c123" d="M923.6 466.7h136.4v6.6h-136.4z"/>
<path class="c124" d="M925.6 470L1068 470"/>
<path class="c125" d="M925 467.5h8.6v5h-8.6z"/>
<path class="c125" d="M945.4 467.5h8.6v5h-8.6z"/>
<path class="c125" d="M965.8 467.5h8.6v5h-8.6z"/>
<path class="c125" d="M986.2 467.5h8.6v5h-8.6z"/>
<path class="c125" d="M1006.6 467.5h8.6v5h-8.6z"/>
<path class="c125" d="M1027 467.5h8.6v5h-8.6z"/>
<path class="c125" d="M1047.4 467.5h8.6v5h-8.6z"/>
<circle class="c85" cx="1067.1" cy="470.7" r="2"/>
<path class="c23" d="M894.3 476.7h25v10h-25z"/>
<text transform="translate(904.0 483.0)" font-size="2.6" fill="#444" font-family="Liberation Serif, Noto Serif CJK SC, serif">備件</text>
<path class="c126" d="M921.3 475.7h18.5v10.7h-18.5z"/>
<path class="c127" d="M922.6 477h15.9v8.1h-15.9z"/>
<path class="c119" d="M925.6 477.3h9v2.2h-9z"/>
<path class="c128" d="M929.2 480.3h4.4v4.5h-4.4z"/>
<circle class="c85" cx="931.4" cy="482.6" r="1.1"/>
<path class="c121" d="M923.7 479.7 q1 4 4.5 3.6"/>
<path class="c133" d="M933.6 483.2L938 483.2"/>
<path class="c126" d="M941 475.7h18.5v10.7h-18.5z"/>
<path class="c127" d="M942.3 477h15.9v8.1h-15.9z"/>
<path class="c119" d="M945.3 477.3h9v2.2h-9z"/>
<path class="c128" d="M948.9 480.3h4.4v4.5h-4.4z"/>
<circle class="c85" cx="951.1" cy="482.6" r="1.1"/>
<path class="c121" d="M943.4 479.7 q1 4 4.5 3.6"/>
<path class="c133" d="M953.3 483.2L957.7 483.2"/>
<path class="c126" d="M960.7 475.7h18.5v10.7h-18.5z"/>
<path class="c127" d="M962 477h15.9v8.1h-15.9z"/>
<path class="c119" d="M965 477.3h9v2.2h-9z"/>
<path class="c128" d="M968.6 480.3h4.4v4.5h-4.4z"/>
<circle class="c85" cx="970.8" cy="482.6" r="1.1"/>
<path class="c121" d="M963.1 479.7 q1 4 4.5 3.6"/>
<path class="c133" d="M973 483.2L977.4 483.2"/>
<path class="c126" d="M980.4 475.7h18.5v10.7h-18.5z"/>
<path class="c127" d="M981.7 477h15.9v8.1h-15.9z"/>
<path class="c119" d="M984.7 477.3h9v2.2h-9z"/>
<path class="c128" d="M988.3 480.3h4.4v4.5h-4.4z"/>
<circle class="c85" cx="990.5" cy="482.6" r="1.1"/>
<path class="c121" d="M982.8 479.7 q1 4 4.5 3.6"/>
<path class="c133" d="M992.7 483.2L997.1 483.2"/>
<path class="c126" d="M1000.1 475.7h18.5v10.7h-18.5z"/>
<path class="c127" d="M1001.4 477h15.9v8.1h-15.9z"/>
<path class="c119" d="M1004.4 477.3h9v2.2h-9z"/>
<path class="c128" d="M1008 480.3h4.4v4.5h-4.4z"/>
<circle class="c85" cx="1010.1" cy="482.6" r="1.1"/>
<path class="c121" d="M1002.5 479.7 q1 4 4.5 3.6"/>
<path class="c133" d="M1012.4 483.2L1016.8 483.2"/>
<path class="c126" d="M1019.8 475.7h18.5v10.7h-18.5z"/>
<path class="c127" d="M1021.1 477h15.9v8.1h-15.9z"/>
<path class="c119" d="M1024 477.3h9v2.2h-9z"/>
<path class="c128" d="M1027.6 480.3h4.4v4.5h-4.4z"/>
<circle class="c85" cx="1029.8" cy="482.6" r="1.1"/>
<path class="c121" d="M1022.2 479.7 q1 4 4.5 3.6"/>
<path class="c133" d="M1032 483.2L1036.5 483.2"/>
<path class="c126" d="M1039.5 475.7h18.5v10.7h-18.5z"/>
<path class="c127" d="M1040.8 477h15.9v8.1h-15.9z"/>
<path class="c119" d="M1043.8 477.3h9v2.2h-9z"/>
<path class="c128" d="M1047.3 480.3h4.4v4.5h-4.4z"/>
<circle class="c85" cx="1049.5" cy="482.6" r="1.1"/>
<path class="c121" d="M1041.9 479.7 q1 4 4.5 3.6"/>
<path class="c133" d="M1051.8 483.2L1056.2 483.2"/>
<path class="c89" d="M919.3 487.1h135v10.8h-135z"/>
<path class="c111" d="M963 490.2h4.8v4.8h-4.8z"/>
<circle class="c111" cx="965.4" cy="492.6" r="1.3"/>
<path class="c111" d="M1026.2 490.2h4.8v4.8h-4.8z"/>
<circle class="c111" cx="1028.6" cy="492.6" r="1.3"/>
<text transform="translate(984.0 494.0)" font-size="2.6" fill="#444" font-family="Liberation Serif, Noto Serif CJK SC, serif">备件器皿</text>
<path class="c135" d="M892.9 502.4L1075 502.4"/>
<path class="c19" d="M952.1 504.4h33.6v6.6h-33.6z"/>
<text x="953.3" y="509.6" font-size="4.0" fill="#444" text-anchor="start" font-family="Liberation Sans, sans-serif" textLength="31" lengthAdjust="spacingAndGlyphs">BV3*2.5mm2-PC20</text>
<path class="c89" d="M922.2 517.6h131.8v20.8h-131.8z"/>
<path class="c115" d="M932.2 517.6L932.2 538.4"/>
<path class="c115" d="M1044 517.6L1044 538.4"/>
<path class="c116" d="M932.2 525.3L1044 525.3"/>
<path class="c116" d="M932.2 529.5L1044 529.5"/>
<path class="c117" d="M931.6 524L931.6 530.8"/>
<path class="c117" d="M1044.6 524L1044.6 530.8"/>
<path class="c111" d="M924.4 524.6h5.6v5.6h-5.6z"/>
<circle class="c111" cx="927.2" cy="527.4" r="1.5"/>
<path class="c111" d="M1045.6 524.6h5.6v5.6h-5.6z"/>
<circle class="c111" cx="1048.4" cy="527.4" r="1.5"/>
<g transform="translate(953.0 536.2) scale(1.020 1)" fill="#d060c0" stroke="none" font-size="3" font-family="Liberation Serif, Noto Serif CJK SC, serif"><text x="0" y="0">備件</text><text x="6.00" y="0" font-size="3.00" font-family="Liberation Sans, sans-serif" xml:space="preserve">-</text><text x="7.00" y="0">工作不銹鋼</text><text x="22.00" y="0" font-size="3.00" font-family="Liberation Sans, sans-serif" xml:space="preserve"> 7</text></g>
<path class="c110" d="M1027 530.6L1062 530.6"/>
<text x="1028" y="529.8" font-size="3.8" fill="#555" text-anchor="start" font-family="Liberation Sans, sans-serif" textLength="33" lengthAdjust="spacingAndGlyphs">BVV3*0.75mm2-PC20</text>
<path class="c14" d="M899 541.2L932 541.2"/>
<text x="900" y="540" font-size="4.2" fill="#777" text-anchor="start" font-family="Liberation Sans, sans-serif" textLength="31" lengthAdjust="spacingAndGlyphs">YJV3*2.5mm2-PC20</text>
<path class="c14" d="M888 549L899 541.2"/>
<path class="c123" d="M907.9 548.9h152.1v7.5h-152.1z"/>
<path class="c124" d="M909.9 552.6L1068 552.6"/>
<path class="c125" d="M909.3 549.7h8.6v5.9h-8.6z"/>
<path class="c125" d="M929.4 549.7h8.6v5.9h-8.6z"/>
<path class="c125" d="M949.6 549.7h8.6v5.9h-8.6z"/>
<path class="c125" d="M969.8 549.7h8.6v5.9h-8.6z"/>
<path class="c125" d="M989.9 549.7h8.6v5.9h-8.6z"/>
<path class="c125" d="M1010 549.7h8.6v5.9h-8.6z"/>
<path class="c125" d="M1030.2 549.7h8.6v5.9h-8.6z"/>
<path class="c125" d="M1050.3 549.7h8.6v5.9h-8.6z"/>
<path class="c136" d="M903.5 557.9h19.2v10.7h-19.2z"/>
<path class="c137" d="M903.5 557.9L905.7 560.3L905.7 566.2L903.5 568.6"/>
<path class="c137" d="M922.7 557.9L920.5 560.3L920.5 566.2L922.7 568.6"/>
<path class="c138" d="M905.7 560.3L920.5 560.3"/>
<path class="c138" d="M905.7 566.2L920.5 566.2"/>
<path class="c128" d="M910.7 561h4.8v4.4h-4.8z"/>
<circle class="c85" cx="913.1" cy="563.2" r="1.1"/>
<path class="c137" d="M920.1 563.2L925.1 563.2"/>
<path class="c136" d="M923.5 557.9h19.2v10.7h-19.2z"/>
<path class="c137" d="M923.5 557.9L925.7 560.3L925.7 566.2L923.5 568.6"/>
<path class="c137" d="M942.7 557.9L940.5 560.3L940.5 566.2L942.7 568.6"/>
<path class="c138" d="M925.7 560.3L940.5 560.3"/>
<path class="c138" d="M925.7 566.2L940.5 566.2"/>
<path class="c128" d="M930.7 561h4.8v4.4h-4.8z"/>
<circle class="c85" cx="933.1" cy="563.2" r="1.1"/>
<path class="c137" d="M940.1 563.2L945.1 563.2"/>
<path class="c126" d="M946 557.9h18.5v10.7h-18.5z"/>
<path class="c127" d="M947.3 559.2h15.9v8.1h-15.9z"/>
<path class="c119" d="M950.2 559.5h9v2.2h-9z"/>
<path class="c128" d="M953.9 562.5h4.4v4.5h-4.4z"/>
<circle class="c85" cx="956" cy="564.8" r="1.1"/>
<path class="c121" d="M948.4 561.9 q1 4 4.5 3.6"/>
<path class="c133" d="M958.2 565.4L962.7 565.4"/>
<path class="c126" d="M965.7 557.9h18.5v10.7h-18.5z"/>
<path class="c127" d="M967 559.2h15.9v8.1h-15.9z"/>
<path class="c119" d="M970 559.5h9v2.2h-9z"/>
<path class="c128" d="M973.6 562.5h4.4v4.5h-4.4z"/>
<circle class="c85" cx="975.8" cy="564.8" r="1.1"/>
<path class="c121" d="M968.1 561.9 q1 4 4.5 3.6"/>
<path class="c133" d="M978 565.4L982.4 565.4"/>
<path class="c126" d="M985.4 557.9h18.5v10.7h-18.5z"/>
<path class="c127" d="M986.7 559.2h15.9v8.1h-15.9z"/>
<path class="c119" d="M989.6 559.5h9v2.2h-9z"/>
<path class="c128" d="M993.2 562.5h4.4v4.5h-4.4z"/>
<circle class="c85" cx="995.4" cy="564.8" r="1.1"/>
<path class="c121" d="M987.8 561.9 q1 4 4.5 3.6"/>
<path class="c133" d="M997.6 565.4L1002.1 565.4"/>
<path class="c126" d="M1005.1 557.9h18.5v10.7h-18.5z"/>
<path class="c127" d="M1006.4 559.2h15.9v8.1h-15.9z"/>
<path class="c119" d="M1009.4 559.5h9v2.2h-9z"/>
<path class="c128" d="M1013 562.5h4.4v4.5h-4.4z"/>
<circle class="c85" cx="1015.1" cy="564.8" r="1.1"/>
<path class="c121" d="M1007.5 561.9 q1 4 4.5 3.6"/>
<path class="c133" d="M1017.4 565.4L1021.8 565.4"/>
<path class="c126" d="M1024.8 557.9h18.5v10.7h-18.5z"/>
<path class="c127" d="M1026.1 559.2h15.9v8.1h-15.9z"/>
<path class="c119" d="M1029 559.5h9v2.2h-9z"/>
<path class="c128" d="M1032.6 562.5h4.4v4.5h-4.4z"/>
<circle class="c85" cx="1034.8" cy="564.8" r="1.1"/>
<path class="c121" d="M1027.2 561.9 q1 4 4.5 3.6"/>
<path class="c133" d="M1037 565.4L1041.5 565.4"/>
<path class="c126" d="M1044.5 557.9h18.5v10.7h-18.5z"/>
<path class="c127" d="M1045.8 559.2h15.9v8.1h-15.9z"/>
<path class="c119" d="M1048.8 559.5h9v2.2h-9z"/>
<path class="c128" d="M1052.3 562.5h4.4v4.5h-4.4z"/>
<circle class="c85" cx="1054.5" cy="564.8" r="1.1"/>
<path class="c121" d="M1046.9 561.9 q1 4 4.5 3.6"/>
<path class="c133" d="M1056.8 565.4L1061.2 565.4"/>
<path class="c136" d="M926.1 569.7h19.2v11h-19.2z"/>
<path class="c137" d="M926.1 569.7L928.3 572.1L928.3 578.3L926.1 580.7"/>
<path class="c137" d="M945.3 569.7L943.1 572.1L943.1 578.3L945.3 580.7"/>
<path class="c138" d="M928.3 572.1L943.1 572.1"/>
<path class="c138" d="M928.3 578.3L943.1 578.3"/>
<path class="c128" d="M933.3 573h4.8v4.4h-4.8z"/>
<circle class="c85" cx="935.7" cy="575.2" r="1.1"/>
<path class="c137" d="M942.7 575.2L947.7 575.2"/>
<path class="c136" d="M946.1 569.7h19.2v11h-19.2z"/>
<path class="c137" d="M946.1 569.7L948.3 572.1L948.3 578.3L946.1 580.7"/>
<path class="c137" d="M965.3 569.7L963.1 572.1L963.1 578.3L965.3 580.7"/>
<path class="c138" d="M948.3 572.1L963.1 572.1"/>
<path class="c138" d="M948.3 578.3L963.1 578.3"/>
<path class="c128" d="M953.3 573h4.8v4.4h-4.8z"/>
<circle class="c85" cx="955.7" cy="575.2" r="1.1"/>
<path class="c137" d="M962.7 575.2L967.7 575.2"/>
<path class="c126" d="M967.7 569.7h18.4v11h-18.4z"/>
<path class="c127" d="M969 571h15.9v8.4h-15.9z"/>
<path class="c119" d="M971.9 571.3h9v2.2h-9z"/>
<path class="c128" d="M975.5 574.3h4.4v4.8h-4.4z"/>
<circle class="c85" cx="977.7" cy="576.7" r="1.1"/>
<path class="c121" d="M970.1 573.7 q1 4 4.5 3.6"/>
<path class="c133" d="M979.9 577.5L984.4 577.5"/>
<path class="c126" d="M987.4 569.7h18.4v11h-18.4z"/>
<path class="c127" d="M988.6 571h15.9v8.4h-15.9z"/>
<path class="c119" d="M991.6 571.3h9v2.2h-9z"/>
<path class="c128" d="M995.2 574.3h4.4v4.8h-4.4z"/>
<circle class="c85" cx="997.4" cy="576.7" r="1.1"/>
<path class="c121" d="M989.8 573.7 q1 4 4.5 3.6"/>
<path class="c133" d="M999.6 577.5L1004 577.5"/>
<path class="c126" d="M1007 569.7h18.5v11h-18.5z"/>
<path class="c127" d="M1008.3 571h15.8v8.4h-15.8z"/>
<path class="c119" d="M1011.2 571.3h9v2.2h-9z"/>
<path class="c128" d="M1014.8 574.3h4.4v4.8h-4.4z"/>
<circle class="c85" cx="1017" cy="576.7" r="1.1"/>
<path class="c121" d="M1009.4 573.7 q1 4 4.5 3.6"/>
<path class="c133" d="M1019.2 577.5L1023.6 577.5"/>
<path class="c126" d="M1026.6 569.7h18.5v11h-18.5z"/>
<path class="c127" d="M1028 571h15.8v8.4h-15.8z"/>
<path class="c119" d="M1030.9 571.3h9v2.2h-9z"/>
<path class="c128" d="M1034.5 574.3h4.4v4.8h-4.4z"/>
<circle class="c85" cx="1036.7" cy="576.7" r="1.1"/>
<path class="c121" d="M1029 573.7 q1 4 4.5 3.6"/>
<path class="c133" d="M1038.9 577.5L1043.3 577.5"/>
<path class="c139" d="M892.9 582.8L930 582.8"/>
<path class="c139" d="M1047 582.8L1090 582.8"/>
<path class="c123" d="M930 582.6h117.1v7.4h-117.1z"/>
<path class="c124" d="M932 586.3L1055.1 586.3"/>
<path class="c125" d="M931.4 583.4h8.6v5.8h-8.6z"/>
<path class="c125" d="M951.5 583.4h8.6v5.8h-8.6z"/>
<path class="c125" d="M971.6 583.4h8.6v5.8h-8.6z"/>
<path class="c125" d="M991.7 583.4h8.6v5.8h-8.6z"/>
<path class="c125" d="M1011.8 583.4h8.6v5.8h-8.6z"/>
<path class="c125" d="M1031.9 583.4h8.6v5.8h-8.6z"/>
<path class="c19" d="M952.1 592.9h33.6v5.9h-33.6z"/>
<text x="953.3" y="597.6" font-size="4.0" fill="#444" text-anchor="start" font-family="Liberation Sans, sans-serif" textLength="31" lengthAdjust="spacingAndGlyphs">BV3*2.5mm2-PC20</text>
<path class="c110" d="M1028 591.6L1064 591.6"/>
<text x="1029" y="590.8" font-size="3.8" fill="#555" text-anchor="start" font-family="Liberation Sans, sans-serif" textLength="33" lengthAdjust="spacingAndGlyphs">BVV3*0.75mm2-PC20</text>
<path class="c89" d="M922.6 600h130.3v20.7h-130.3z"/>
<path class="c115" d="M932.6 600L932.6 620.7"/>
<path class="c115" d="M1042.9 600L1042.9 620.7"/>
<path class="c116" d="M932.6 607.6L1042.9 607.6"/>
<path class="c116" d="M932.6 611.9L1042.9 611.9"/>
<path class="c117" d="M932 606.4L932 613.1"/>
<path class="c117" d="M1043.5 606.4L1043.5 613.1"/>
<path class="c111" d="M924.8 607h5.6v5.6h-5.6z"/>
<circle class="c111" cx="927.6" cy="609.8" r="1.5"/>
<path class="c111" d="M1044.5 607h5.6v5.6h-5.6z"/>
<circle class="c111" cx="1047.3" cy="609.8" r="1.5"/>
<g transform="translate(943.0 618.5) scale(1.020 1)" fill="#d060c0" stroke="none" font-size="3" font-family="Liberation Serif, Noto Serif CJK SC, serif"><text x="0" y="0">備件</text><text x="6.00" y="0" font-size="3.00" font-family="Liberation Sans, sans-serif" xml:space="preserve">-</text><text x="7.00" y="0">工作不銹鋼</text><text x="22.00" y="0" font-size="3.00" font-family="Liberation Sans, sans-serif" xml:space="preserve"> 7</text></g>
<path class="c123" d="M906 633.6h151.1v7.1h-151.1z"/>
<path class="c124" d="M908 637.2L1065.1 637.2"/>
<path class="c125" d="M907.1 634.4h8.6v5.5h-8.6z"/>
<path class="c125" d="M927.4 634.4h8.6v5.5h-8.6z"/>
<path class="c125" d="M947.7 634.4h8.6v5.5h-8.6z"/>
<path class="c125" d="M968 634.4h8.6v5.5h-8.6z"/>
<path class="c125" d="M988.3 634.4h8.6v5.5h-8.6z"/>
<path class="c125" d="M1008.6 634.4h8.6v5.5h-8.6z"/>
<path class="c125" d="M1028.9 634.4h8.6v5.5h-8.6z"/>
<path class="c125" d="M1049.2 634.4h8.6v5.5h-8.6z"/>
<path class="c136" d="M901.8 642.6h19.6v11h-19.6z"/>
<path class="c137" d="M901.8 642.6L904 645L904 651.2L901.8 653.6"/>
<path class="c137" d="M921.4 642.6L919.1 645L919.1 651.2L921.4 653.6"/>
<path class="c138" d="M904 645L919.1 645"/>
<path class="c138" d="M904 651.2L919.1 651.2"/>
<path class="c128" d="M909.2 645.9h4.8v4.4h-4.8z"/>
<circle class="c85" cx="911.6" cy="648.1" r="1.1"/>
<path class="c137" d="M918.8 648.1L923.8 648.1"/>
<path class="c136" d="M922.1 642.6h19.6v11h-19.6z"/>
<path class="c137" d="M922.1 642.6L924.4 645L924.4 651.2L922.1 653.6"/>
<path class="c137" d="M941.7 642.6L939.5 645L939.5 651.2L941.7 653.6"/>
<path class="c138" d="M924.4 645L939.5 645"/>
<path class="c138" d="M924.4 651.2L939.5 651.2"/>
<path class="c128" d="M929.5 645.9h4.8v4.4h-4.8z"/>
<circle class="c85" cx="931.9" cy="648.1" r="1.1"/>
<path class="c137" d="M939.1 648.1L944.1 648.1"/>
<path class="c136" d="M942.5 642.6h19.6v11h-19.6z"/>
<path class="c137" d="M942.5 642.6L944.7 645L944.7 651.2L942.5 653.6"/>
<path class="c137" d="M962.1 642.6L959.9 645L959.9 651.2L962.1 653.6"/>
<path class="c138" d="M944.7 645L959.9 645"/>
<path class="c138" d="M944.7 651.2L959.9 651.2"/>
<path class="c128" d="M949.9 645.9h4.8v4.4h-4.8z"/>
<circle class="c85" cx="952.3" cy="648.1" r="1.1"/>
<path class="c137" d="M959.5 648.1L964.5 648.1"/>
<path class="c136" d="M962.8 642.6h19.6v11h-19.6z"/>
<path class="c137" d="M962.8 642.6L965 645L965 651.2L962.8 653.6"/>
<path class="c137" d="M982.4 642.6L980.2 645L980.2 651.2L982.4 653.6"/>
<path class="c138" d="M965 645L980.2 645"/>
<path class="c138" d="M965 651.2L980.2 651.2"/>
<path class="c128" d="M970.2 645.9h4.8v4.4h-4.8z"/>
<circle class="c85" cx="972.6" cy="648.1" r="1.1"/>
<path class="c137" d="M979.8 648.1L984.8 648.1"/>
<path class="c126" d="M983.5 642.6h18.9v11h-18.9z"/>
<path class="c127" d="M984.8 643.9h16.4v8.4h-16.4z"/>
<path class="c119" d="M988 644.2h9v2.2h-9z"/>
<path class="c128" d="M991.6 647.2h4.4v4.8h-4.4z"/>
<circle class="c85" cx="993.8" cy="649.6" r="1.1"/>
<path class="c121" d="M985.9 646.6 q1 4 4.5 3.6"/>
<path class="c133" d="M996 650.4L1000.6 650.4"/>
<path class="c126" d="M1003.6 642.6h18.9v11h-18.9z"/>
<path class="c127" d="M1004.9 643.9h16.4v8.4h-16.4z"/>
<path class="c119" d="M1008.1 644.2h9v2.2h-9z"/>
<path class="c128" d="M1011.7 647.2h4.4v4.8h-4.4z"/>
<circle class="c85" cx="1013.9" cy="649.6" r="1.1"/>
<path class="c121" d="M1006 646.6 q1 4 4.5 3.6"/>
<path class="c133" d="M1016.1 650.4L1020.8 650.4"/>
<path class="c126" d="M1023.8 642.6h19v11h-19z"/>
<path class="c127" d="M1025.1 643.9h16.3v8.4h-16.3z"/>
<path class="c119" d="M1028.3 644.2h9v2.2h-9z"/>
<path class="c128" d="M1031.9 647.2h4.4v4.8h-4.4z"/>
<circle class="c85" cx="1034.1" cy="649.6" r="1.1"/>
<path class="c121" d="M1026.2 646.6 q1 4 4.5 3.6"/>
<path class="c133" d="M1036.3 650.4L1040.9 650.4"/>
<path class="c126" d="M1043.9 642.6h19v11h-19z"/>
<path class="c127" d="M1045.2 643.9h16.3v8.4h-16.3z"/>
<path class="c119" d="M1048.4 644.2h9v2.2h-9z"/>
<path class="c128" d="M1052 647.2h4.4v4.8h-4.4z"/>
<circle class="c85" cx="1054.2" cy="649.6" r="1.1"/>
<path class="c121" d="M1046.3 646.6 q1 4 4.5 3.6"/>
<path class="c133" d="M1056.4 650.4L1061.1 650.4"/>
<path class="c140" d="M910 655h135v5.9h-135z"/>
<path class="c141" d="M912.2 655V660.9M914.4 655V660.9M916.6 655V660.9M918.8 655V660.9M921 655V660.9M923.2 655V660.9M925.4 655V660.9M927.6 655V660.9M929.8 655V660.9M932 655V660.9M934.2 655V660.9M936.4 655V660.9M938.6 655V660.9M940.8 655V660.9M943 655V660.9M945.2 655V660.9M947.4 655V660.9M949.6 655V660.9M951.8 655V660.9M954 655V660.9M956.2 655V660.9M958.4 655V660.9M960.6 655V660.9M962.8 655V660.9M965 655V660.9M967.2 655V660.9M969.4 655V660.9M971.6 655V660.9M973.8 655V660.9M976 655V660.9M978.2 655V660.9M980.4 655V660.9M982.6 655V660.9M984.8 655V660.9M987 655V660.9M989.2 655V660.9M991.4 655V660.9M993.6 655V660.9M995.8 655V660.9M998 655V660.9M1000.2 655V660.9M1002.4 655V660.9M1004.6 655V660.9M1006.8 655V660.9M1009 655V660.9M1011.2 655V660.9M1013.4 655V660.9M1015.6 655V660.9M1017.8 655V660.9M1020 655V660.9M1022.2 655V660.9M1024.4 655V660.9M1026.6 655V660.9M1028.8 655V660.9M1031 655V660.9M1033.2 655V660.9M1035.4 655V660.9M1037.6 655V660.9M1039.8 655V660.9M1042 655V660.9"/>
<path class="c56" d="M1045.2 655.2L1051.6 655.2L1045.2 661.6L1051.6 661.6Z"/>
<circle class="c86" cx="1048.4" cy="658.4" r="1.3"/>
<path class="c110" d="M952.1 661.1h33.6v3.5h-33.6z"/>
<path class="c25" d="M892 653.6L892 660"/>
<path class="c80" d="M1065.7 390L1065.7 420"/>
<path class="c80" d="M1065.7 500L1065.7 545"/>
<path class="c80" d="M1065.7 585L1065.7 640"/>
<g transform="translate(961.4 306.6) scale(0.965 1)" fill="#8886c6" stroke="none" font-size="10.4" font-family="Liberation Serif, Noto Serif CJK SC, serif"><text x="0.00" y="0" font-size="10.40" font-family="Liberation Serif, sans-serif" xml:space="preserve">FD</text><text x="13.29" y="0">理化室</text><text x="44.49" y="0" font-size="10.40" font-family="Liberation Serif, sans-serif" xml:space="preserve">78</text><text x="54.89" y="0">平</text></g>
<g transform="translate(953.5 406.6) scale(0.952 1)" fill="#8886c6" stroke="none" font-size="10.4" font-family="Liberation Serif, Noto Serif CJK SC, serif"><text x="0.00" y="0" font-size="10.40" font-family="Liberation Serif, sans-serif" xml:space="preserve">FD</text><text x="13.29" y="0">有機前處理</text><text x="65.29" y="0" font-size="10.40" font-family="Liberation Serif, sans-serif" xml:space="preserve">78</text><text x="75.69" y="0">平</text></g>
<g transform="translate(958.6 466.2) scale(0.995 1)" fill="#8886c6" stroke="none" font-size="10.2" font-family="Liberation Serif, Noto Serif CJK SC, serif"><text x="0.00" y="0" font-size="10.20" font-family="Liberation Serif, sans-serif" xml:space="preserve">FD</text><text x="13.04" y="0">氣機前處理</text><text x="64.04" y="0" font-size="10.20" font-family="Liberation Serif, sans-serif" xml:space="preserve">90</text><text x="74.24" y="0">平</text></g>
<g transform="translate(986.5 511.2) scale(0.993 1)" fill="#8886c6" stroke="none" font-size="6.2" font-family="Liberation Serif, Noto Serif CJK SC, serif"><text x="0" y="0">理</text><text x="6.20" y="0" font-size="6.20" font-family="Liberation Serif, sans-serif" xml:space="preserve"> 78</text><text x="13.95" y="0">平</text></g>
<g transform="translate(961.4 607.0) scale(1.080 1)" fill="#8886c6" stroke="none" font-size="6" font-family="Liberation Serif, Noto Serif CJK SC, serif"><text x="0.00" y="0" font-size="6.00" font-family="Liberation Serif, sans-serif" xml:space="preserve">CP</text><text x="7.34" y="0">有機前處理</text><text x="37.34" y="0" font-size="6.00" font-family="Liberation Serif, sans-serif" xml:space="preserve">78</text><text x="43.34" y="0">平</text><text x="49.34" y="0" font-size="6.00" font-family="Liberation Serif, sans-serif" xml:space="preserve">   8-11</text></g>
<path class="c14" d="M617.5 113.6L650 113.6"/>
<text x="618.5" y="112.4" font-size="4.2" fill="#777" text-anchor="start" font-family="Liberation Sans, sans-serif" textLength="30.5" lengthAdjust="spacingAndGlyphs">BV3*2.5mm2-PC20</text>
<path class="c14" d="M616.8 113.6L578.2 144.3"/>
<path class="c14" d="M616.8 113.6L592 147"/>
<path class="c14" d="M616.8 113.6L635 147"/>
<path class="c14" d="M616.8 113.6L651 144.4"/>
<path class="c14" d="M616.8 113.6L681 148.6"/>
<path class="c14" d="M616.8 113.6L737.9 144.4"/>
<path class="c14" d="M616.8 113.6L750.7 144.4"/>
<path class="c14" d="M616.8 113.6L765.7 144.4"/>
<path class="c14" d="M616.8 113.6L783 144.6"/>
<path class="c80" d="M578.2 144.3L560 160"/>
<path class="c80" d="M600.5 150L586 254.5"/>
<path class="c80" d="M619.3 135L634.5 254.3"/>
<path class="c80" d="M653.7 143L714.3 211.8"/>
<path class="c80" d="M681 148.6L700 172"/>
<path class="c80" d="M737.9 144.4L760 166"/>
<path class="c80" d="M765.7 144.4L772 256"/>
<path class="c80" d="M750.7 144.4L754 165"/>
<text transform="translate(831.4 70.8) scale(0.595 1)" font-size="4.8" fill="#000" font-weight="bold" font-family="Liberation Sans, Noto Sans CJK SC, sans-serif">全新風恒溫恒濕式空氣處理機組</text>
<path class="c57" d="M831 71.8L871.4 71.8"/>
<path class="c57" d="M867.1 71.8L877.9 158"/>
<text x="831.4" y="77" font-size="5.4" fill="#000" text-anchor="start" font-family="Liberation Sans, sans-serif" font-weight="bold" textLength="20" lengthAdjust="spacingAndGlyphs">AHU-01#</text>
<g transform="translate(831.4 84.5) scale(0.682 1)" fill="#000" stroke="none"><text x="0" y="0" font-size="5" font-weight="bold" font-family="Liberation Sans, Noto Sans CJK SC, sans-serif">风量</text><text x="10.00" y="0" font-size="6.80" font-family="Liberation Sans, sans-serif" font-weight="bold" xml:space="preserve">= 5500CMH,</text></g>
<g transform="translate(866.5 84.5) scale(0.592 1)" fill="#000" stroke="none"><text x="0" y="0" font-size="5" font-weight="bold" font-family="Liberation Sans, Noto Sans CJK SC, sans-serif">制冷量</text><text x="15.00" y="0" font-size="5.00" font-family="Liberation Sans, sans-serif" font-weight="bold" xml:space="preserve">=</text></g>
<text x="831.4" y="92.1" font-size="6.6" fill="#000" text-anchor="start" font-family="Liberation Sans, sans-serif" font-weight="bold" textLength="16.5" lengthAdjust="spacingAndGlyphs">30KW,</text>
<g transform="translate(849.3 92.1) scale(0.592 1)" fill="#000" stroke="none"><text x="0" y="0" font-size="5" font-weight="bold" font-family="Liberation Sans, Noto Sans CJK SC, sans-serif">制热量</text><text x="15.00" y="0" font-size="5.00" font-family="Liberation Sans, sans-serif" font-weight="bold" xml:space="preserve">=</text></g>
<text x="860.6" y="92.1" font-size="6.6" fill="#000" text-anchor="start" font-family="Liberation Sans, sans-serif" font-weight="bold" textLength="20.2" lengthAdjust="spacingAndGlyphs">34.1KW,</text>
<g transform="translate(831.4 99.8) scale(0.659 1)" fill="#000" stroke="none"><text x="0" y="0" font-size="5" font-weight="bold" font-family="Liberation Sans, Noto Sans CJK SC, sans-serif">机外静压</text><text x="20.00" y="0" font-size="6.80" font-family="Liberation Sans, sans-serif" font-weight="bold" xml:space="preserve">= 650Pa</text></g>
<g transform="translate(831.4 107.4) scale(0.654 1)" fill="#000" stroke="none"><text x="0" y="0" font-size="5" font-weight="bold" font-family="Liberation Sans, Noto Sans CJK SC, sans-serif">加湿功率</text><text x="20.00" y="0" font-size="6.80" font-family="Liberation Sans, sans-serif" font-weight="bold" xml:space="preserve">= 10.9KW</text></g>
<g transform="translate(831.4 115.2) scale(0.635 1)" fill="#000" stroke="none"><text x="0" y="0" font-size="5" font-weight="bold" font-family="Liberation Sans, Noto Sans CJK SC, sans-serif">风机功率</text><text x="20.00" y="0" font-size="6.80" font-family="Liberation Sans, sans-serif" font-weight="bold" xml:space="preserve">= 3.7KW</text></g>
<g transform="translate(831.4 123.1) scale(0.662 1)" fill="#000" stroke="none"><text x="0" y="0" font-size="5" font-weight="bold" font-family="Liberation Sans, Noto Sans CJK SC, sans-serif">电源</text><text x="10.00" y="0" font-size="6.80" font-family="Liberation Sans, sans-serif" font-weight="bold" xml:space="preserve">= 380V</text></g>
<path class="c142" d="M948.6 126.3L922.1 126.3L907.1 143.7"/>
<text transform="translate(922.1 125.4) scale(0.860 1)" font-size="4.4" fill="#000" font-weight="bold" font-family="Liberation Sans, Noto Sans CJK SC, sans-serif">保溫排烟道風管</text>
<text x="929.3" y="132.4" font-size="5.2" fill="#000" text-anchor="start" font-family="Liberation Sans, sans-serif" font-weight="bold" textLength="19.3" lengthAdjust="spacingAndGlyphs">500*400</text>
<path class="c26" d="M851.4 131.6h14.3v5.7h-14.3z"/>
<path class="c23" d="M851.4 137.3L865.7 131.6"/>
<path class="c14" d="M800.3 130.9L837.1 130.9"/>
<text x="801.3" y="129.7" font-size="4.2" fill="#777" text-anchor="start" font-family="Liberation Sans, sans-serif" textLength="34.8" lengthAdjust="spacingAndGlyphs">BV3*4+1*4mm2-PC20</text>
<path class="c14" d="M800.3 138L832.9 138"/>
<text x="801.3" y="136.8" font-size="4.2" fill="#777" text-anchor="start" font-family="Liberation Sans, sans-serif" textLength="30.6" lengthAdjust="spacingAndGlyphs">BV3*2.5mm2-PC20</text>
<path class="c14" d="M837.1 130.9L857.1 146.6"/>
<path class="c14" d="M832.9 138L851.4 149.4"/>
<path class="c15" d="M847.1 147.3h10v4.3h-10z"/>
<circle class="c19" cx="907.1" cy="147.3" r="3.4"/>
<path class="c99" d="M904.6 141.2L909.6 145.6"/>
<path class="c99" d="M904.6 145.6L909.6 141.2"/>
<g transform="translate(1066.3 145.6) scale(0.795 1)" fill="#000" stroke="none"><text x="0.00" y="0" font-size="4.60" font-family="Liberation Sans, sans-serif" font-weight="bold" xml:space="preserve">PF-8#</text><text x="12.53" y="0" font-size="4.6" font-weight="bold" font-family="Liberation Sans, Noto Sans CJK SC, sans-serif">管道式中靜壓低噪箱式排風機</text></g>
<path class="c99" d="M1066 147.6L1124 147.6"/>
<path class="c99" d="M989.5 191.5L1065.9 147.6"/>
<g transform="translate(1067.9 154.3) scale(0.727 1)" fill="#000" stroke="none"><text x="0" y="0" font-size="5" font-weight="bold" font-family="Liberation Sans, Noto Sans CJK SC, sans-serif">风量</text><text x="10.00" y="0" font-size="6.80" font-family="Liberation Sans, sans-serif" font-weight="bold" xml:space="preserve">= 2200CMH</text></g>
<g transform="translate(1067.9 162.0) scale(0.674 1)" fill="#000" stroke="none"><text x="0" y="0" font-size="5" font-weight="bold" font-family="Liberation Sans, Noto Sans CJK SC, sans-serif">机外静压</text><text x="20.00" y="0" font-size="6.80" font-family="Liberation Sans, sans-serif" font-weight="bold" xml:space="preserve">= 350Pa</text></g>
<g transform="translate(1067.9 169.5) scale(0.615 1)" fill="#000" stroke="none"><text x="0" y="0" font-size="5" font-weight="bold" font-family="Liberation Sans, Noto Sans CJK SC, sans-serif">风机功率</text><text x="20.00" y="0" font-size="6.80" font-family="Liberation Sans, sans-serif" font-weight="bold" xml:space="preserve">= 1.1KW</text></g>
<g transform="translate(1067.9 177.0) scale(0.680 1)" fill="#000" stroke="none"><text x="0" y="0" font-size="5" font-weight="bold" font-family="Liberation Sans, Noto Sans CJK SC, sans-serif">电源</text><text x="10.00" y="0" font-size="6.80" font-family="Liberation Sans, sans-serif" font-weight="bold" xml:space="preserve">= 380V</text></g>
<text x="638.6" y="553" font-size="5.6" fill="#000" text-anchor="start" font-family="Liberation Sans, sans-serif" font-weight="bold" textLength="13.3" lengthAdjust="spacingAndGlyphs">PF-1#</text>
<path class="c11" d="M638.6 554.6L697.7 554.6L724.3 580.4L728.6 586.4"/>
<g transform="translate(638.6 561.2) scale(0.793 1)" fill="#000" stroke="none"><text x="0" y="0" font-size="4.6" font-weight="bold" font-family="Liberation Sans, Noto Sans CJK SC, sans-serif">機械排風扇風機</text><text x="32.20" y="0" font-size="4.60" font-family="Liberation Sans, sans-serif" font-weight="bold" xml:space="preserve">(SJG-3.5F)#</text></g>
<g transform="translate(639.4 568.1) scale(0.710 1)" fill="#f2a860" stroke="none"><text x="0" y="0" font-size="5" font-family="Liberation Sans, Noto Sans CJK SC, sans-serif">风量</text><text x="10.00" y="0" font-size="6.80" font-family="Liberation Sans, sans-serif" xml:space="preserve">= 3000CMH</text></g>
<g transform="translate(639.4 575.4) scale(0.707 1)" fill="#f2a860" stroke="none"><text x="0" y="0" font-size="5" font-family="Liberation Sans, Noto Sans CJK SC, sans-serif">功率</text><text x="10.00" y="0" font-size="6.80" font-family="Liberation Sans, sans-serif" xml:space="preserve">= 0.37KW</text></g>
<g transform="translate(639.4 583.1) scale(0.662 1)" fill="#f2a860" stroke="none"><text x="0" y="0" font-size="5" font-family="Liberation Sans, Noto Sans CJK SC, sans-serif">电源</text><text x="10.00" y="0" font-size="6.80" font-family="Liberation Sans, sans-serif" xml:space="preserve">= 380V</text></g>
<text transform="translate(686.1 600.6) scale(0.712 1)" font-size="4.6" fill="#000" font-weight="bold" font-family="Liberation Sans, Noto Sans CJK SC, sans-serif">機械排風百葉尺寸</text>
<text x="686.1" y="607.5" font-size="5.4" fill="#000" text-anchor="start" font-family="Liberation Sans, sans-serif" font-weight="bold" textLength="17.6" lengthAdjust="spacingAndGlyphs">300*300</text>
<path class="c11" d="M712.3 601L714.9 601L722.6 591.6"/>
<path class="c89" d="M773 164.3h21.3v71.2h-21.3z"/>
<path class="c115" d="M773 174.9L794.3 174.9"/>
<path class="c115" d="M773 225.4L794.3 225.4"/>
<path class="c116" d="M781.6 174.9L781.6 225.4"/>
<path class="c116" d="M786.7 174.9L786.7 225.4"/>
<path class="c117" d="M780.5 174.6L788 174.6"/>
<path class="c117" d="M780.5 225.6L788 225.6"/>
<path class="c111" d="M781.6 167.2h5.2v5.2h-5.2z"/>
<circle class="c111" cx="784.2" cy="169.8" r="1.4"/>
<path class="c111" d="M781.6 227.4h5.2v5.2h-5.2z"/>
<circle class="c111" cx="784.2" cy="230" r="1.4"/>
<circle class="c143" cx="790.5" cy="229.5" r="1.6"/>
<text transform="translate(761.4 196.6) scale(0.894 1)" font-size="6.6" fill="#8886c6" font-family="Liberation Serif, Noto Serif CJK SC, serif">微生物前</text>
<g transform="translate(761.4 206.4) scale(0.924 1)" fill="#8886c6" stroke="none" font-size="6.6" font-family="Liberation Serif, Noto Serif CJK SC, serif"><text x="0" y="0">處理室</text><text x="19.80" y="0" font-size="6.60" font-family="Liberation Serif, sans-serif" xml:space="preserve"> 28</text><text x="28.05" y="0">平</text></g>
<text transform="translate(744.2 192.0)" font-size="6.2" fill="#8886c6" font-family="Liberation Serif, Noto Serif CJK SC, serif">貯</text>
<text transform="translate(744.2 202.2)" font-size="6.2" fill="#8886c6" font-family="Liberation Serif, Noto Serif CJK SC, serif">藏</text>
<text transform="translate(744.2 212.0)" font-size="6.2" fill="#8886c6" font-family="Liberation Serif, Noto Serif CJK SC, serif">室</text>
<text x="744.6" y="221" font-size="5.6" fill="#8886c6" text-anchor="start" font-family="Liberation Serif, sans-serif">16</text>
<text transform="translate(744.2 229.6)" font-size="6.2" fill="#8886c6" font-family="Liberation Serif, Noto Serif CJK SC, serif">平</text>
<path class="c24" d="M757 253.4L868 253.4"/>
<path class="c25" d="M813.4 148L813.4 253.4"/>
<path class="c25" d="M892.8 152L892.8 170"/>
<path class="c80" d="M892.8 170L892.8 182"/>
<path class="c25" d="M892.8 182L892.8 253"/>
<path class="c144" d="M813.5 165.3h27.3v8.1h-27.3z"/>
<text transform="translate(824.0 171.0) scale(1.071 1)" font-size="2.8" fill="#222" font-family="Liberation Serif, Noto Serif CJK SC, serif">不锈钢台</text>
<path class="c144" d="M813.5 244.5h27.3v8.1h-27.3z"/>
<text transform="translate(824.0 250.2) scale(1.071 1)" font-size="2.8" fill="#222" font-family="Liberation Serif, Noto Serif CJK SC, serif">不锈钢台</text>
<path class="c145" d="M813.5 181.4h9.1v59.6h-9.1z"/>
<path class="c145" d="M881.2 181.4h8.6v20.3h-8.6z"/>
<path class="c145" d="M881.1 217.3h8.4v20.5h-8.4z"/>
<path class="c146" d="M861.5 149.6h34.9v13.6h-34.9z"/>
<path class="c99" d="M866 149.6L866 163.2"/>
<path class="c99" d="M872.5 149.6L872.5 163.2"/>
<path class="c99" d="M876 149.6L876 163.2"/>
<path class="c99" d="M880 149.6L880 163.2"/>
<path class="c99" d="M884.5 149.6L884.5 163.2"/>
<path class="c99" d="M890.5 149.6L890.5 163.2"/>
<path class="c147" d="M862.6 151.4h2.6v10.2h-2.6z"/>
<path class="c147" d="M868 151.4h3.6v10.2h-3.6z"/>
<path class="c147" d="M886 151.4h3.6v10.2h-3.6z"/>
<path class="c147" d="M891.6 151.4h3.8v10.2h-3.8z"/>
<path class="c86" d="M896.4 152h4.1v9h-4.1z"/>
<path class="c94" d="M898.5 152L898.5 161"/>
<path class="c143" d="M899.4 153h1.6v7h-1.6z"/>
<path class="c148" d="M901.4 150.9h12v10.8h-12z"/>
<path class="c149" d="M901.4 150.9L913.4 161.7"/>
<path class="c149" d="M901.4 161.7L913.4 150.9"/>
<path class="c148" d="M859 170.3h12.1v10.1h-12.1z"/>
<path class="c149" d="M859 170.3L871.1 180.4"/>
<path class="c149" d="M859 180.4L871.1 170.3"/>
<path class="c150" d="M864.8 163.2L864.8 170.3"/>
<path class="c151" d="M864.8 163.2L864.8 170.3"/>
<path class="c152" d="M907.4 161.7L907.4 186L907.4 196"/>
<path class="c153" d="M907.4 161.7L907.4 186L907.4 196"/>
<path class="c154" d="M814.5 192.6L943.4 192.6"/>
<path class="c155" d="M814.5 192.6L943.4 192.6"/>
<path class="c156" d="M814.5 192.6L943.4 192.6"/>
<path class="c157" d="M815.5 194L815.5 224"/>
<path class="c158" d="M815.5 194L815.5 224"/>
<path class="c156" d="M815.5 194L815.5 224"/>
<path class="c157" d="M879.2 165.3L879.2 192.6"/>
<path class="c158" d="M879.2 165.3L879.2 192.6"/>
<path class="c156" d="M879.2 165.3L879.2 192.6"/>
<path class="c154" d="M881.1 239.5L959.5 239.5"/>
<path class="c155" d="M881.1 239.5L959.5 239.5"/>
<path class="c156" d="M881.1 239.5L959.5 239.5"/>
<path class="c159" d="M924 237.8L924 197L921 193.6L916.7 193.3"/>
<path class="c160" d="M924 237.8L924 197L921 193.6L916.7 193.3"/>
<path class="c156" d="M924 237.8L924 197L921 193.6L916.7 193.3"/>
<path class="c154" d="M937.4 166L937.4 192"/>
<path class="c155" d="M937.4 166L937.4 192"/>
<path class="c156" d="M937.4 166L937.4 192"/>
<path class="c159" d="M985.8 202L985.8 238.3"/>
<path class="c160" d="M985.8 202L985.8 238.3"/>
<path class="c156" d="M985.8 202L985.8 238.3"/>
<path class="c161" d="M817.5 210.8L880.2 210.8"/>
<path class="c162" d="M817.5 210.8L880.2 210.8"/>
<path class="c163" d="M848.3 189.5L848.3 230.5"/>
<path class="c164" d="M848.3 189.5L848.3 230.5"/>
<path class="c165" d="M853.9 236L853.9 242.5L881 242.5"/>
<path class="c166" d="M853.9 236L853.9 242.5L881 242.5"/>
<path class="c167" d="M881.2 174.9 L895 174.9 Q900.4 174.9 900.4 180.5 L900.4 190"/>
<path class="c166" d="M881.2 174.9 L895 174.9 Q900.4 174.9 900.4 180.5 L900.4 190"/>
<path class="c151" d="M871 174.9 L881.2 174.9"/>
<path class="c168" d="M897.3 193 L897.3 246 Q897.3 250.6 902 250.6 L976.8 250.6"/>
<path class="c169" d="M897.3 193 L897.3 246 Q897.3 250.6 902 250.6 L976.8 250.6"/>
<path class="c152" d="M945.1 250.6L945.1 279"/>
<path class="c153" d="M945.1 250.6L945.1 279"/>
<path class="c150" d="M962.3 213.4L962.3 249"/>
<path class="c151" d="M962.3 213.4L962.3 249"/>
<path class="c170" d="M909 227L897.5 227"/>
<path class="c171" d="M909 227L897.5 227"/>
<path class="c172" d="M954.5 245L980 245"/>
<path class="c101" d="M952.6 242.8L955.4 245L952.6 247.2Z"/>
<path class="c173" d="M843.3 179.9h10.6v9.6h-10.6z"/>
<path class="c174" d="M848.6 179.9L848.6 189.5"/>
<path class="c173" d="M843.3 230.6h10.6v11.1h-10.6z"/>
<path class="c174" d="M848.6 230.6L848.6 241.7"/>
<path class="c175" d="M874.1 208.2h6.6v5.6h-6.6z"/>
<path class="c176" d="M874.1 211L880.7 211"/>
<path class="c175" d="M903.4 248.4h5.5v5h-5.5z"/>
<path class="c176" d="M903.4 250.9L908.9 250.9"/>
<path class="c175" d="M922.8 248.4h5.6v5h-5.6z"/>
<path class="c176" d="M922.8 250.9L928.4 250.9"/>
<path class="c175" d="M970.1 248.4h6.7v5h-6.7z"/>
<path class="c176" d="M970.1 250.9L976.8 250.9"/>
<path class="c175" d="M909.5 227.8h6.1v4.5h-6.1z"/>
<path class="c176" d="M909.5 230.1L915.6 230.1"/>
<path class="c175" d="M942.3 274h6.1v5h-6.1z"/>
<path class="c176" d="M942.3 276.5L948.4 276.5"/>
<path class="c175" d="M959.5 211.1h6.2v6.2h-6.2z"/>
<path class="c176" d="M959.5 214.2L965.7 214.2"/>
<path class="c175" d="M904.6 185.5h5.4v5h-5.4z"/>
<path class="c176" d="M904.6 188L910 188"/>
<path class="c166" d="M842.8 166.8h16.2v8.1h-16.2z"/>
<path class="c177" d="M845 168.6h11.8v6.3h-11.8z"/>
<path class="c178" d="M871.2 168h9.8v6.9h-9.8z"/>
<path class="c178" d="M845.6 238.9h15.5v7.8h-15.5z"/>
<path class="c179" d="M847.4 240.5h11.9v6.2h-11.9z"/>
<path class="c178" d="M864.5 238.9h11.1v7.8h-11.1z"/>
<path class="c179" d="M866.3 240.5h7.5v4.7h-7.5z"/>
<path class="c178" d="M949.5 262.3h10v15.6h-10z"/>
<path class="c179" d="M951.2 264h6.6v12.4h-6.6z"/>
<path class="c171" d="M926.5 243h11v4.6h-11z"/>
<rect class="c180" x="811.4" y="187.5" width="8.1" height="10.1" rx="1.6"/>
<rect class="c179" x="812.8" y="188.9" width="5.3" height="7.3" rx="1"/>
<rect class="c180" x="811.4" y="223.9" width="8.1" height="9.1" rx="1.6"/>
<rect class="c179" x="812.8" y="225.3" width="5.3" height="6.3" rx="1"/>
<rect class="c180" x="878.7" y="187" width="8.6" height="10.6" rx="1.6"/>
<rect class="c179" x="880.1" y="188.4" width="5.8" height="7.8" rx="1"/>
<rect class="c180" x="878.7" y="220.9" width="8.6" height="10.6" rx="1.6"/>
<rect class="c179" x="880.1" y="222.3" width="5.8" height="7.8" rx="1"/>
<path class="c145" d="M905.6 194.5h11.1v31.6h-11.1z"/>
<path class="c181" d="M907.8 202.2h7.3v7.8h-7.3z"/>
<path class="c182" d="M907.6 211.5h7.4v13.1h-7.4z"/>
<path class="c145" d="M932.3 165h11.7v61.1h-11.7z"/>
<path class="c36" d="M931 152L931 253"/>
<path class="c36" d="M945.4 160L945.4 253"/>
<path class="c183" d="M938.2 165.5h4v25.9h-4z"/>
<path class="c36" d="M822.8 175L822.8 181"/>
<path class="c36" d="M841 176L841 254"/>
<path class="c36" d="M861 196L861 253"/>
<path class="c36" d="M822.6 200.3L843 200.3"/>
<path class="c36" d="M822.6 217.5L860 217.5"/>
<path class="c14" d="M813.4 149.7 Q823 152 825 163"/>
<path class="c80" d="M822.6 241 A10 10 0 0 1 832.6 251"/>
<path class="c14" d="M813.4 203 L802 203 A11 11 0 0 0 813.4 214"/>
<path class="c14" d="M745 150.3 Q747 160 757 163 M757 242 Q766 244 769 253"/>
<circle class="c18" cx="758.3" cy="163.7" r="1.5"/>
<path class="c19" d="M758.3 163.7L761.3 166.7"/>
<path class="c20" d="M758.3 163.7L755.6 161.6"/>
<path class="c93" d="M781.4 253.4L802 253.4"/>
<path class="c14" d="M892.8 170 A10 10 0 0 1 902.8 180"/>
<path class="c80" d="M861 200 A10 10 0 0 1 871 210"/>
<path class="c80" d="M946 226 A9 9 0 0 1 955 235"/>
<path class="c80" d="M946 198 A10 10 0 0 1 956 208"/>
<path class="c99" d="M815 203L819 207"/>
<path class="c99" d="M815 207L819 203"/>
<path class="c99" d="M853.5 203.5L857.5 207.5"/>
<path class="c99" d="M853.5 207.5L857.5 203.5"/>
<path class="c184" d="M855.5 194L855.5 204"/>
<path class="c185" d="M855.5 194L855.5 204"/>
<path class="c156" d="M855.5 194L855.5 204"/>
<g transform="translate(840.0 188.5) scale(1.099 1)" fill="#8886c6" stroke="none" font-size="5.2" font-family="Liberation Serif, Noto Serif CJK SC, serif"><text x="0" y="0">緩衝室</text><text x="15.60" y="0" font-size="5.20" font-family="Liberation Serif, sans-serif" xml:space="preserve"> 15</text><text x="22.10" y="0">平</text></g>
<g transform="translate(823.5 227.8) scale(1.016 1)" fill="#8886c6" stroke="none" font-size="6" font-family="Liberation Serif, Noto Serif CJK SC, serif"><text x="0" y="0">潔淨室</text><text x="18.00" y="0" font-size="6.00" font-family="Liberation Serif, sans-serif" xml:space="preserve"> 15</text><text x="25.50" y="0">平</text></g>
<g transform="translate(822.8 204.4) scale(0.780 1)" fill="#e04040" stroke="none"><text x="0" y="0" font-size="3" font-family="Liberation Serif, Noto Serif CJK SC, serif">不銹鋼工作枱</text><text x="18.00" y="0" font-size="3.00" font-family="Liberation Sans, sans-serif" xml:space="preserve"> 2</text></g>
<text transform="translate(830.0 233.6) scale(0.833 1)" font-size="3" fill="#e04040" font-family="Liberation Serif, Noto Serif CJK SC, serif">潔淨工作</text>
<text transform="translate(830.0 237.6) scale(0.833 1)" font-size="3" fill="#e04040" font-family="Liberation Serif, Noto Serif CJK SC, serif">不銹鋼台</text>
<path class="c25" d="M892.8 242.3L892.8 253.4"/>
<path class="c14" d="M892.8 253.4L892.8 275.6"/>
<path class="c144" d="M904.5 255.6h13.3v23.9h-13.3z"/>
<path class="c186" d="M904.5 269L917.8 269"/>
<path class="c36" d="M917.8 255L917.8 280"/>
<path class="c36" d="M931.6 254L931.6 280"/>
<path class="c144" d="M960.6 253.6h8.9v25.9h-8.9z"/>
<path class="c187" d="M960.6 262.5L969.5 262.5"/>
<path class="c187" d="M960.6 271L969.5 271"/>
<path class="c111" d="M918.5 261h4v4h-4z"/>
<circle class="c111" cx="920.5" cy="263" r="1.1"/>
<text transform="translate(906.5 262.0)" font-size="3" fill="#8886c6" font-family="Liberation Serif, Noto Serif CJK SC, serif">毛坯</text>
<g transform="translate(906.5 267.0)" fill="#8886c6" stroke="none"><text x="0.00" y="0" font-size="3.00" font-family="Liberation Serif, sans-serif" xml:space="preserve">5.4</text><text x="3.75" y="0" font-size="3" font-family="Liberation Serif, Noto Serif CJK SC, serif">平</text></g>
<g transform="translate(906.5 276.0)" fill="#8886c6" stroke="none"><text x="0.00" y="0" font-size="3.00" font-family="Liberation Serif, sans-serif" xml:space="preserve">5.8</text><text x="3.75" y="0" font-size="3" font-family="Liberation Serif, Noto Serif CJK SC, serif">平</text></g>
<text transform="translate(922.0 271.0)" font-size="3" fill="#8886c6" font-family="Liberation Serif, Noto Serif CJK SC, serif">毛坯室</text>
<text transform="translate(934.0 267.0)" font-size="3" fill="#8886c6" font-family="Liberation Serif, Noto Serif CJK SC, serif">淋浴</text>
<text transform="translate(961.5 259.0)" font-size="3" fill="#8886c6" font-family="Liberation Serif, Noto Serif CJK SC, serif">毛坯</text>
<g transform="translate(961.5 268.0)" fill="#8886c6" stroke="none"><text x="0.00" y="0" font-size="3.00" font-family="Liberation Serif, sans-serif" xml:space="preserve">6.4</text><text x="3.75" y="0" font-size="3" font-family="Liberation Serif, Noto Serif CJK SC, serif">平</text></g>
<text transform="translate(951.0 258.0)" font-size="3" fill="#8886c6" font-family="Liberation Serif, Noto Serif CJK SC, serif">洗滌</text>
<g transform="translate(951.0 262.0)" fill="#8886c6" stroke="none"><text x="0.00" y="0" font-size="3.00" font-family="Liberation Serif, sans-serif" xml:space="preserve">5.8</text><text x="3.75" y="0" font-size="3" font-family="Liberation Serif, Noto Serif CJK SC, serif">平</text></g>
<path class="c188" d="M893.4 281L980 281"/>
<path class="c189" d="M893.4 282.6L980 282.6"/>
<path class="c190" d="M980 281L985.8 281"/>
<path class="c49" d="M980 281 Q985.8 281 985.8 276 L985.8 240"/>
<path class="c99" d="M895.2 278.4L898.8 280.6"/>
<path class="c99" d="M895.2 280.6L898.8 278.4"/>
<path class="c99" d="M921.2 278.4L924.8 280.6"/>
<path class="c99" d="M921.2 280.6L924.8 278.4"/>
<path class="c99" d="M940.7 278.4L944.3 280.6"/>
<path class="c99" d="M940.7 280.6L944.3 278.4"/>
<path class="c145" d="M958.3 192.2h64.7v9.7h-64.7z"/>
<path class="c191" d="M981.8 190.6h8.1v8.1h-8.1z"/>
<path class="c192" d="M983.4 192.2h4.9v4.9h-4.9z"/>
<path class="c193" d="M983.6 199.2L987.8 199.2L985.7 202.2Z"/>
<path class="c164" d="M985.8 190.4 L985.8 182 Q986 174 994 172.6 L1000.5 170.5"/>
<path class="c194" d="M984.2 190.4 L984.2 182 Q984.4 173 993.6 171"/>
<path class="c195" d="M961.5 159.8h12.2v6.5h-12.2z"/>
<path class="c196" d="M963.9 159.8L963.9 166.3"/>
<path class="c196" d="M966.4 159.8L966.4 166.3"/>
<path class="c196" d="M968.8 159.8L968.8 166.3"/>
<path class="c196" d="M971.3 159.8L971.3 166.3"/>
<path class="c195" d="M974.5 166.3h12.9v6.5h-12.9z"/>
<path class="c196" d="M977.1 166.3L977.1 172.8"/>
<path class="c196" d="M979.7 166.3L979.7 172.8"/>
<path class="c196" d="M982.2 166.3L982.2 172.8"/>
<path class="c196" d="M984.8 166.3L984.8 172.8"/>
<path class="c195" d="M987.4 174.4h13v6.5h-13z"/>
<path class="c196" d="M990 174.4L990 180.9"/>
<path class="c196" d="M992.6 174.4L992.6 180.9"/>
<path class="c196" d="M995.2 174.4L995.2 180.9"/>
<path class="c196" d="M997.8 174.4L997.8 180.9"/>
<path class="c26" d="M988.6 202.7h9.4v61.5h-9.4z"/>
<path class="c26" d="M1018.2 202.7h9.7v79.3h-9.7z"/>
<path class="c26" d="M1029 282L1029 212.4L1039.7 212.4L1039.7 282"/>
<path class="c26" d="M1018 282L1040 282"/>
<path class="c181" d="M1029.5 202.7L1036.8 210L1029.5 210Z"/>
<path class="c197" d="M992.8 217.3L1023 217.3"/>
<path class="c198" d="M1008.1 217.3L1008.1 296"/>
<path class="c199" d="M1008.1 257.7L1023 257.7"/>
<circle class="c97" cx="992.8" cy="217.3" r="2.3"/>
<circle class="c98" cx="992.8" cy="217.3" r=".9"/>
<circle class="c97" cx="1023" cy="217.3" r="2.3"/>
<circle class="c98" cx="1023" cy="217.3" r=".9"/>
<circle class="c97" cx="1023" cy="257.7" r="2.3"/>
<circle class="c98" cx="1023" cy="257.7" r=".9"/>
<text transform="translate(949.4 180.4)" font-size="6.2" fill="#8886c6" font-family="Liberation Serif, Noto Serif CJK SC, serif">洗滌室</text>
<g transform="translate(949.4 187.4)" fill="#8886c6" stroke="none" font-size="5.6" font-family="Liberation Serif, Noto Serif CJK SC, serif"><text x="0" y="0">玄</text><text x="5.60" y="0" font-size="5.60" font-family="Liberation Serif, sans-serif" xml:space="preserve">8</text><text x="8.40" y="0">平</text></g>
<g transform="translate(1000.4 246.4) scale(0.902 1)" fill="#8886c6" stroke="none"><text x="0.00" y="0" font-size="4.40" font-family="Liberation Serif, sans-serif" xml:space="preserve">FD </text><text x="6.72" y="0" font-size="4.4" font-family="Liberation Serif, Noto Serif CJK SC, serif">冷藏</text></g>
<text transform="translate(1000.4 254.0) scale(0.985 1)" font-size="4.4" fill="#8886c6" font-family="Liberation Serif, Noto Serif CJK SC, serif">設備室</text>
<g transform="translate(1001.4 261.6)" fill="#8886c6" stroke="none"><text x="0.00" y="0" font-size="4.40" font-family="Liberation Serif, sans-serif" xml:space="preserve">18</text><text x="4.40" y="0" font-size="4.4" font-family="Liberation Serif, Noto Serif CJK SC, serif">平</text></g>
<g transform="translate(1031.9 251.0) scale(0.915 1)" fill="#8886c6" stroke="none"><text x="0.00" y="0" font-size="6.20" font-family="Liberation Serif, sans-serif" xml:space="preserve">FD</text><text x="7.93" y="0" font-size="6.2" font-family="Liberation Serif, Noto Serif CJK SC, serif">冷藏</text></g>
<text transform="translate(991.0 232.0)" font-size="2.6" fill="#a04040" font-family="Liberation Serif, Noto Serif CJK SC, serif">備</text>
<text transform="translate(991.0 236.0)" font-size="2.6" fill="#a04040" font-family="Liberation Serif, Noto Serif CJK SC, serif">件</text>
<text transform="translate(1041.6 289.4)" font-size="2.6" fill="#444" font-family="Liberation Serif, Noto Serif CJK SC, serif">備件</text>
<path class="c80" d="M946 190 A9 9 0 0 1 955 199"/>
<path class="c14" d="M998 268 A10 10 0 0 1 1008 278"/>
<path class="c14" d="M1046 283 Q1048 268 1056 262"/>
<path class="c14" d="M1055 283 Q1056.5 270 1062.5 263"/>
<path class="c200" d="M1040.5 283.8h29v5.8h-29z"/>
<circle class="c18" cx="1003.6" cy="285.2" r="1.5"/>
<path class="c19" d="M1003.6 285.2L1006.8 282.2"/>
<path class="c20" d="M1003.6 285.2L1000.7 288.5"/>
<circle class="c18" cx="1054.6" cy="285.2" r="1.5"/>
<path class="c19" d="M1054.6 285.2L1057.8 282.2"/>
<path class="c20" d="M1054.6 285.2L1051.7 288.5"/>
<circle class="c18" cx="942" cy="149.5" r="1.5"/>
<path class="c19" d="M942 149.5L939 146.3"/>
<path class="c20" d="M942 149.5L944.7 153"/>
<path class="c14" d="M978.5 144.2L1013.3 144.2"/>
<text x="979.5" y="143" font-size="4.2" fill="#777" text-anchor="start" font-family="Liberation Sans, sans-serif" textLength="32.8" lengthAdjust="spacingAndGlyphs">BV3*2.5mm2-PC20</text>
<path class="c14" d="M978.5 144.2L971.3 154.2"/>
<path class="c14" d="M1070.8 230.2L1105 230.2"/>
<text x="1071.8" y="229" font-size="4.2" fill="#777" text-anchor="start" font-family="Liberation Sans, sans-serif" textLength="32.2" lengthAdjust="spacingAndGlyphs">BV3*2.5mm2-PC20</text>
<path class="c14" d="M1070.8 230.2L1062.7 239.1L1058 262L1052 268"/>
<g transform="translate(954.8 149.2) rotate(20)"><path class="c57" d="M0 -4.4V0M-2.4 0H2.4"/><path class="c58" d="M-1.8 0h3.6v2.4h-3.6z"/></g>
<g transform="translate(986.3 160.4) rotate(32)"><path class="c57" d="M0 -4.4V0M-2.4 0H2.4"/><path class="c58" d="M-1.8 0h3.6v2.4h-3.6z"/></g>
<g transform="translate(1000.5 168.8) rotate(38)"><path class="c57" d="M0 -4.4V0M-2.4 0H2.4"/><path class="c58" d="M-1.8 0h3.6v2.4h-3.6z"/></g>
<g transform="translate(1024 189.6) rotate(46)"><path class="c57" d="M0 -4.4V0M-2.4 0H2.4"/><path class="c58" d="M-1.8 0h3.6v2.4h-3.6z"/></g>
<g transform="translate(1048.6 216.8) rotate(58)"><path class="c57" d="M0 -4.4V0M-2.4 0H2.4"/><path class="c58" d="M-1.8 0h3.6v2.4h-3.6z"/></g>
<g transform="translate(1069.6 257.6) rotate(72)"><path class="c57" d="M0 -4.4V0M-2.4 0H2.4"/><path class="c58" d="M-1.8 0h3.6v2.4h-3.6z"/></g>
<path class="c201" d="M1077.6 288h5.4v565h-5.4z"/>
<path class="c202" d="M1078.3 284L1078.3 853"/>
<path class="c203" d="M1082.4 284L1082.4 856"/>
<path class="c124" d="M1062 346.3L1116 346.3"/>
<path class="c124" d="M1062 424.4L1116 424.4"/>
<path class="c124" d="M1062 469.4L1116 469.4"/>
<path class="c124" d="M1062 552.8L1116 552.8"/>
<path class="c124" d="M1062 590.2L1116 590.2"/>
<path class="c15" d="M1062 341.5L1090 341.5"/>
<path class="c15" d="M1062 351L1090 351"/>
<path class="c15" d="M1062 419L1090 419"/>
<path class="c15" d="M1062 430.5L1090 430.5"/>
<path class="c15" d="M1062 465.5L1090 465.5"/>
<path class="c15" d="M1062 474L1090 474"/>
<path class="c15" d="M1062 548L1090 548"/>
<path class="c15" d="M1062 557.5L1090 557.5"/>
<path class="c15" d="M1062 585L1090 585"/>
<path class="c15" d="M1062 595.5L1090 595.5"/>
<path class="c204" d="M1119.4 279.7L1082 279.7"/>
<path class="c204" d="M1103.2 279.7L1095.1 287.2L1082.6 287.2"/>
<text x="1083" y="278.8" font-size="3.8" fill="#777" text-anchor="start" font-family="Liberation Sans, sans-serif" textLength="35" lengthAdjust="spacingAndGlyphs">BVV3*0.75mm2-PC20</text>
<circle class="c205" cx="1099.2" cy="295.9" r="2.4"/>
<path class="c11" d="M1101.5 295L1109.3 282.5L1145.7 282.5"/>
<text x="1131.1" y="280.3" font-size="5.6" fill="#000" text-anchor="start" font-family="Liberation Sans, sans-serif" font-weight="bold" textLength="14.6" lengthAdjust="spacingAndGlyphs">PF-7#</text>
<text transform="translate(1127.5 288.2) scale(0.791 1)" font-size="4.6" fill="#000" font-weight="bold" font-family="Liberation Sans, Noto Sans CJK SC, sans-serif">风机控制箱</text>
<text transform="translate(1135.2 295.3) scale(0.897 1)" font-size="4.6" fill="#000" font-weight="bold" font-family="Liberation Sans, Noto Sans CJK SC, sans-serif">含控制柜</text>
<g transform="translate(1127.5 303.2) scale(0.690 1)" fill="#000" stroke="none"><text x="0" y="0" font-size="5" font-weight="bold" font-family="Liberation Sans, Noto Sans CJK SC, sans-serif">功率</text><text x="10.00" y="0" font-size="5.60" font-family="Liberation Sans, sans-serif" font-weight="bold" xml:space="preserve">= 10.8KW</text></g>
<path class="c206" d="M1092.5 302.3h19.4v11.6h-19.4z"/>
<circle class="c207" cx="1097.7" cy="308.1" r="4.8"/>
<circle class="c208" cx="1097.7" cy="308.1" r="2.2"/>
<circle class="c13" cx="1097.7" cy="308.1" r="1"/>
<circle class="c207" cx="1106.7" cy="308.1" r="4.8"/>
<circle class="c208" cx="1106.7" cy="308.1" r="2.2"/>
<circle class="c13" cx="1106.7" cy="308.1" r="1"/>
<path class="c19" d="M1109.3 307.4 Q1116 300 1124 297.6 L1151.7 297.6"/>
<path class="c14" d="M1112.3 313.6L1131.5 313.6"/>
<text x="1113.3" y="312.4" font-size="4.2" fill="#777" text-anchor="start" font-family="Liberation Sans, sans-serif" textLength="17.2" lengthAdjust="spacingAndGlyphs">5mm2-PC20</text>
<path class="c14" d="M1082.6 317.6L1100 317.6"/>
<path class="c14" d="M1082.6 318.1L1089.1 318.1L1100.2 329.1"/>
<path class="c14" d="M1100.2 329.1L1143.7 329.1"/>
<text x="1101.2" y="327.9" font-size="4.2" fill="#777" text-anchor="start" font-family="Liberation Sans, sans-serif" textLength="41.5" lengthAdjust="spacingAndGlyphs">YJV3×10+2×6mm2-PC32</text>
<path class="c209" d="M1088.5 337.7h17.2v17.2h-17.2z"/>
<path class="c210" d="M1084.5 341L1113.2 341"/>
<path class="c210" d="M1084.5 351.3L1113.2 351.3"/>
<path class="c211" d="M1084.5 346.3L1113.2 346.3"/>
<path class="c0" d="M1088.5 337.7L1105.7 354.9"/>
<path class="c0" d="M1088.5 354.9L1105.7 337.7"/>
<rect class="c209" x="1116.4" y="336.3" width="18.8" height="19.6" rx="1.4"/>
<path class="c212" d="M1135.5 338.8L1135.5 353.4"/>
<path class="c213" d="M1113.2 342.1h2.8v8h-2.8z"/>
<path class="c99" d="M1127.5 344.4L1151.7 307.5L1235.7 307.5"/>
<g transform="translate(1195.5 306.0) scale(0.742 1)" fill="#000" stroke="none"><text x="0.00" y="0" font-size="4.60" font-family="Liberation Sans, sans-serif" font-weight="bold" xml:space="preserve">SF-5#</text><text x="12.53" y="0" font-size="4.6" font-weight="bold" font-family="Liberation Sans, Noto Sans CJK SC, sans-serif">組合式新風機組設備</text></g>
<g transform="translate(1154.2 314.8) scale(0.722 1)" fill="#000" stroke="none" font-size="4.6" font-weight="bold" font-family="Liberation Sans, Noto Sans CJK SC, sans-serif"><text x="0" y="0">风量</text><text x="9.20" y="0" font-size="5.80" font-family="Liberation Sans, sans-serif" font-weight="bold" xml:space="preserve">= 10000CMH; </text><text x="47.05" y="0">风压</text><text x="56.25" y="0" font-size="5.80" font-family="Liberation Sans, sans-serif" font-weight="bold" xml:space="preserve">= 300pa, </text><text x="80.90" y="0">功率</text><text x="90.10" y="0" font-size="5.80" font-family="Liberation Sans, sans-serif" font-weight="bold" xml:space="preserve">= 2.2KW</text></g>
<path class="c14" d="M1125 355.9L1131 360.6L1137 360.6"/>
<path class="c14" d="M1137 360.6L1170 360.6"/>
<text x="1138" y="359.4" font-size="4.2" fill="#777" text-anchor="start" font-family="Liberation Sans, sans-serif" textLength="31" lengthAdjust="spacingAndGlyphs">YJV3*2.5mm2-PC20</text>
<path class="c14" d="M1082.6 361.5L1127 361.5"/>
<path class="c204" d="M1082 371L1116 371"/>
<text x="1083" y="370.2" font-size="3.8" fill="#777" text-anchor="start" font-family="Liberation Sans, sans-serif" textLength="34" lengthAdjust="spacingAndGlyphs">BVV3*0.75mm2-PC20</text>
<path class="c204" d="M1103 371L1095 380.8L1082.6 380.8"/>
<text x="1119.4" y="378.4" font-size="5.6" fill="#000" text-anchor="start" font-family="Liberation Sans, sans-serif" font-weight="bold" textLength="14.2" lengthAdjust="spacingAndGlyphs">PF-6#</text>
<text transform="translate(1114.6 386.6) scale(0.809 1)" font-size="4.6" fill="#000" font-weight="bold" font-family="Liberation Sans, Noto Sans CJK SC, sans-serif">风机控制箱</text>
<path class="c11" d="M1133.5 380.2L1111 380.2L1100.5 396"/>
<path class="c214" d="M1093.5 384.8h10.7v15.6h-10.7z"/>
<path class="c215" d="M1093.5 400.4L1104.2 384.8"/>
<path class="c124" d="M1066 392.6L1093.5 392.6"/>
<path class="c215" d="M1078 384.8L1093.5 384.8"/>
<path class="c215" d="M1078 400.4L1093.5 400.4"/>
<path class="c216" d="M1094 405.5L1100 398.5"/>
<path class="c14" d="M1082.6 404.6L1142 404.6"/>
<path class="c14" d="M1142 404.6L1182.5 404.6"/>
<text x="1143" y="403.4" font-size="4.2" fill="#777" text-anchor="start" font-family="Liberation Sans, sans-serif" textLength="38.5" lengthAdjust="spacingAndGlyphs">YJV3×10+1×10mm2-PC32</text>
<path class="c209" d="M1084.4 412.1h24.5v24.7h-24.5z"/>
<path class="c210" d="M1080.4 416.8L1116.4 416.8"/>
<path class="c210" d="M1080.4 431.6L1116.4 431.6"/>
<path class="c211" d="M1080.4 424.5L1116.4 424.5"/>
<path class="c0" d="M1084.4 412.1L1108.9 436.8"/>
<path class="c0" d="M1084.4 436.8L1108.9 412.1"/>
<rect class="c209" x="1116.4" y="411.5" width="24.8" height="25.3" rx="1.4"/>
<path class="c212" d="M1141.5 414L1141.5 434.3"/>
<path class="c213" d="M1113.2 420.1h2.8v8h-2.8z"/>
<path class="c99" d="M1125.9 423.3L1141.2 410.6L1226.6 410.6"/>
<g transform="translate(1186.0 409.2) scale(0.751 1)" fill="#000" stroke="none"><text x="0.00" y="0" font-size="4.60" font-family="Liberation Sans, sans-serif" font-weight="bold" xml:space="preserve">SF-4#</text><text x="12.53" y="0" font-size="4.6" font-weight="bold" font-family="Liberation Sans, Noto Sans CJK SC, sans-serif">組合式新風機組設備</text></g>
<g transform="translate(1145.0 417.6) scale(0.722 1)" fill="#000" stroke="none" font-size="4.6" font-weight="bold" font-family="Liberation Sans, Noto Sans CJK SC, sans-serif"><text x="0" y="0">风量</text><text x="9.20" y="0" font-size="5.80" font-family="Liberation Sans, sans-serif" font-weight="bold" xml:space="preserve">= 20000CMH; </text><text x="47.05" y="0">风压</text><text x="56.25" y="0" font-size="5.80" font-family="Liberation Sans, sans-serif" font-weight="bold" xml:space="preserve">= 350pa, </text><text x="80.90" y="0">功率</text><text x="90.10" y="0" font-size="5.80" font-family="Liberation Sans, sans-serif" font-weight="bold" xml:space="preserve">= 5.5KW</text></g>
<path class="c14" d="M1133.6 427.4L1170 427.4"/>
<text x="1134.6" y="426.2" font-size="4.2" fill="#777" text-anchor="start" font-family="Liberation Sans, sans-serif" textLength="34.4" lengthAdjust="spacingAndGlyphs">YJV3*4+1*4mm2-PC20</text>
<path class="c14" d="M1082.6 440.5L1110 440.5L1141 424"/>
<path class="c206" d="M1096.6 443.5h19.2v11.5h-19.2z"/>
<circle class="c207" cx="1101.8" cy="449.2" r="4.8"/>
<circle class="c208" cx="1101.8" cy="449.2" r="2.1"/>
<circle class="c13" cx="1101.8" cy="449.2" r="1"/>
<circle class="c207" cx="1110.6" cy="449.2" r="4.8"/>
<circle class="c208" cx="1110.6" cy="449.2" r="2.1"/>
<circle class="c13" cx="1110.6" cy="449.2" r="1"/>
<path class="c19" d="M1082.6 441.5 L1116 441.5 Q1124 441.5 1130 447 L1136 452"/>
<path class="c110" d="M1115.8 449L1125 452.4L1151 452.4"/>
<path class="c14" d="M1135 446.8L1177 446.8"/>
<text x="1136" y="445.6" font-size="4.2" fill="#777" text-anchor="start" font-family="Liberation Sans, sans-serif" textLength="40" lengthAdjust="spacingAndGlyphs">YJV3*2.5mm2-PC20</text>
<path class="c14" d="M1150 453.4L1171 453.4"/>
<text x="1151" y="452.2" font-size="4.2" fill="#777" text-anchor="start" font-family="Liberation Sans, sans-serif" textLength="19" lengthAdjust="spacingAndGlyphs">5mm2-PC20</text>
<text transform="translate(1134.5 450.4) scale(0.897 1)" font-size="4.6" fill="#000" font-weight="bold" font-family="Liberation Sans, Noto Sans CJK SC, sans-serif">含控制柜</text>
<g transform="translate(1129.7 457.8) scale(0.676 1)" fill="#000" stroke="none"><text x="0" y="0" font-size="5" font-weight="bold" font-family="Liberation Sans, Noto Sans CJK SC, sans-serif">功率</text><text x="10.00" y="0" font-size="5.60" font-family="Liberation Sans, sans-serif" font-weight="bold" xml:space="preserve">= 8.8KW</text></g>
<path class="c204" d="M1082 456.6L1116 456.6"/>
<text x="1083" y="455.9" font-size="3.8" fill="#777" text-anchor="start" font-family="Liberation Sans, sans-serif" textLength="31" lengthAdjust="spacingAndGlyphs">BVV3*0.75mm2-PC20</text>
<path class="c209" d="M1088.5 461h17.2v17.2h-17.2z"/>
<path class="c210" d="M1084.5 464.3L1113.2 464.3"/>
<path class="c210" d="M1084.5 474.6L1113.2 474.6"/>
<path class="c211" d="M1084.5 469.6L1113.2 469.6"/>
<path class="c0" d="M1088.5 461L1105.7 478.2"/>
<path class="c0" d="M1088.5 478.2L1105.7 461"/>
<rect class="c209" x="1116.4" y="460" width="18.8" height="18.6" rx="1.4"/>
<path class="c212" d="M1135.5 462.5L1135.5 476.1"/>
<path class="c213" d="M1113.2 465.3h2.8v8h-2.8z"/>
<path class="c99" d="M1127.5 470.1L1140.6 458.6L1226 458.6"/>
<g transform="translate(1184.5 457.2) scale(0.760 1)" fill="#000" stroke="none"><text x="0.00" y="0" font-size="4.60" font-family="Liberation Sans, sans-serif" font-weight="bold" xml:space="preserve">SF-3#</text><text x="12.53" y="0" font-size="4.6" font-weight="bold" font-family="Liberation Sans, Noto Sans CJK SC, sans-serif">組合式新風機組設備</text></g>
<g transform="translate(1143.7 465.5) scale(0.718 1)" fill="#000" stroke="none" font-size="4.6" font-weight="bold" font-family="Liberation Sans, Noto Sans CJK SC, sans-serif"><text x="0" y="0">风量</text><text x="9.20" y="0" font-size="5.80" font-family="Liberation Sans, sans-serif" font-weight="bold" xml:space="preserve">= 10000CMH; </text><text x="47.05" y="0">风压</text><text x="56.25" y="0" font-size="5.80" font-family="Liberation Sans, sans-serif" font-weight="bold" xml:space="preserve">= 300pa, </text><text x="80.90" y="0">功率</text><text x="90.10" y="0" font-size="5.80" font-family="Liberation Sans, sans-serif" font-weight="bold" xml:space="preserve">= 2.2KW</text></g>
<text x="1117" y="486.4" font-size="5.6" fill="#000" text-anchor="start" font-family="Liberation Sans, sans-serif" font-weight="bold" textLength="14.2" lengthAdjust="spacingAndGlyphs">PF-5#</text>
<text transform="translate(1111.3 494.4) scale(0.878 1)" font-size="4.6" fill="#000" font-weight="bold" font-family="Liberation Sans, Noto Sans CJK SC, sans-serif">风机控制箱</text>
<path class="c14" d="M1137.5 492.6L1170.5 492.6"/>
<text x="1138.5" y="491.4" font-size="4.2" fill="#777" text-anchor="start" font-family="Liberation Sans, sans-serif" textLength="31" lengthAdjust="spacingAndGlyphs">YJV3*2.5mm2-PC20</text>
<path class="c14" d="M1082.6 494.5L1108 494.5"/>
<path class="c216" d="M1094.5 492.6L1101 485.2"/>
<text x="1150.3" y="499.4" font-size="5.6" fill="#000" text-anchor="start" font-family="Liberation Sans, sans-serif" font-weight="bold" textLength="14.2" lengthAdjust="spacingAndGlyphs">PF-4#</text>
<text transform="translate(1145.3 508.0) scale(0.826 1)" font-size="4.6" fill="#000" font-weight="bold" font-family="Liberation Sans, Noto Sans CJK SC, sans-serif">风机控制箱</text>
<path class="c204" d="M1082 497L1100 497"/>
<path class="c217" d="M1095.1 498.4h40.1v42.9h-40.1z"/>
<path class="c218" d="M1106.3 531.8h20.2v8.1h-20.2z"/>
<path class="c219" d="M1121 534.4h4.9v5.5h-4.9z"/>
<circle class="c191" cx="1117" cy="515" r="16.9"/>
<circle class="c93" cx="1117.4" cy="514.6" r="8.2"/>
<circle class="c14" cx="1117.4" cy="514.6" r="4"/>
<path class="c220" d="M1117.4 514.6L1129.5 502.5"/>
<path class="c221" d="M1089.5 506h5.6v17h-5.6z"/>
<path class="c14" d="M1084 510L1095 510"/>
<path class="c14" d="M1084 519L1095 519"/>
<g transform="translate(1140.6 513.7) scale(0.887 1)" fill="#f2a860" stroke="none"><text x="0.00" y="0" font-size="5.20" font-family="Liberation Sans, sans-serif" xml:space="preserve">PP</text><text x="6.94" y="0" font-size="5.2" font-family="Liberation Serif, Noto Serif CJK SC, serif">喷淋塔</text></g>
<text x="1140.6" y="521.8" font-size="6.4" fill="#f2a860" text-anchor="start" font-family="Liberation Sans, sans-serif" textLength="39" lengthAdjust="spacingAndGlyphs">DN2500*4200</text>
<g transform="translate(1140.6 529.2) scale(0.904 1)" fill="#f2a860" stroke="none"><text x="0" y="0" font-size="5" font-family="Liberation Sans, Noto Sans CJK SC, sans-serif">功率</text><text x="10.00" y="0" font-size="6.40" font-family="Liberation Sans, sans-serif" xml:space="preserve">= 7.5KW</text></g>
<path class="c14" d="M1082.6 527L1100 527L1128 536.5L1146 536.5"/>
<path class="c14" d="M1146 536.5L1182 536.5"/>
<text x="1147" y="535.3" font-size="4.2" fill="#777" text-anchor="start" font-family="Liberation Sans, sans-serif" textLength="34" lengthAdjust="spacingAndGlyphs">YJV3×6+1×6mm2-PC25</text>
<path class="c14" d="M1082.6 541.6L1131 541.6L1141.5 543.8"/>
<path class="c14" d="M1141.5 543.8L1182 543.8"/>
<text x="1142.5" y="542.6" font-size="4.2" fill="#777" text-anchor="start" font-family="Liberation Sans, sans-serif" textLength="38.5" lengthAdjust="spacingAndGlyphs">YJV3×4+1×2.5mm2-PC20</text>
<path class="c209" d="M1089 544.5h17.3v16.6h-17.3z"/>
<path class="c210" d="M1085 547.7L1113.8 547.7"/>
<path class="c210" d="M1085 557.6L1113.8 557.6"/>
<path class="c211" d="M1085 552.8L1113.8 552.8"/>
<path class="c0" d="M1089 544.5L1106.3 561.1"/>
<path class="c0" d="M1089 561.1L1106.3 544.5"/>
<rect class="c209" x="1116.4" y="542.9" width="19.6" height="18.8" rx="1.4"/>
<path class="c212" d="M1136.3 545.4L1136.3 559.2"/>
<path class="c213" d="M1113.2 548.3h2.8v8h-2.8z"/>
<path class="c99" d="M1127.5 551L1153.4 578.4L1235.7 578.4"/>
<g transform="translate(1195.2 576.9) scale(0.751 1)" fill="#000" stroke="none"><text x="0.00" y="0" font-size="4.60" font-family="Liberation Sans, sans-serif" font-weight="bold" xml:space="preserve">SF-2#</text><text x="12.53" y="0" font-size="4.6" font-weight="bold" font-family="Liberation Sans, Noto Sans CJK SC, sans-serif">組合式新風機組設備</text></g>
<g transform="translate(1154.2 585.4) scale(0.718 1)" fill="#000" stroke="none" font-size="4.6" font-weight="bold" font-family="Liberation Sans, Noto Sans CJK SC, sans-serif"><text x="0" y="0">风量</text><text x="9.20" y="0" font-size="5.80" font-family="Liberation Sans, sans-serif" font-weight="bold" xml:space="preserve">= 10000CMH; </text><text x="47.05" y="0">风压</text><text x="56.25" y="0" font-size="5.80" font-family="Liberation Sans, sans-serif" font-weight="bold" xml:space="preserve">= 300pa, </text><text x="80.90" y="0">功率</text><text x="90.10" y="0" font-size="5.80" font-family="Liberation Sans, sans-serif" font-weight="bold" xml:space="preserve">= 2.2KW</text></g>
<path class="c206" d="M1090.5 564.5h18.8v10.7h-18.8z"/>
<circle class="c207" cx="1095.6" cy="569.9" r="4.4"/>
<circle class="c208" cx="1095.6" cy="569.9" r="2"/>
<circle class="c13" cx="1095.6" cy="569.9" r=".9"/>
<circle class="c207" cx="1104.2" cy="569.9" r="4.4"/>
<circle class="c208" cx="1104.2" cy="569.9" r="2"/>
<circle class="c13" cx="1104.2" cy="569.9" r=".9"/>
<text transform="translate(1127.9 567.2) scale(0.875 1)" font-size="4.6" fill="#000" font-weight="bold" font-family="Liberation Sans, Noto Sans CJK SC, sans-serif">含控制柜</text>
<g transform="translate(1122.4 574.8) scale(0.676 1)" fill="#000" stroke="none"><text x="0" y="0" font-size="5" font-weight="bold" font-family="Liberation Sans, Noto Sans CJK SC, sans-serif">功率</text><text x="10.00" y="0" font-size="5.60" font-family="Liberation Sans, sans-serif" font-weight="bold" xml:space="preserve">= 8.8KW</text></g>
<path class="c19" d="M1109.3 569.8 Q1113 566 1120 564.8 L1137 556"/>
<path class="c14" d="M1147 565.4L1180 565.4"/>
<text x="1148" y="564.2" font-size="4.2" fill="#777" text-anchor="start" font-family="Liberation Sans, sans-serif" textLength="31" lengthAdjust="spacingAndGlyphs">YJV3*2.5mm2-PC20</text>
<path class="c14" d="M1084 564.6L1090 564.6"/>
<path class="c14" d="M1149 574.2L1189 574.2"/>
<text x="1150" y="573" font-size="4.2" fill="#777" text-anchor="start" font-family="Liberation Sans, sans-serif" textLength="38" lengthAdjust="spacingAndGlyphs">YJV3×4+1×2.5mm2-PC20</text>
<path class="c209" d="M1084.4 577.9h24.9v24.6h-24.9z"/>
<path class="c210" d="M1080.4 582.6L1116.8 582.6"/>
<path class="c210" d="M1080.4 597.3L1116.8 597.3"/>
<path class="c211" d="M1080.4 590.2L1116.8 590.2"/>
<path class="c0" d="M1084.4 577.9L1109.3 602.5"/>
<path class="c0" d="M1084.4 602.5L1109.3 577.9"/>
<rect class="c209" x="1116.4" y="577.9" width="24.8" height="24.6" rx="1.4"/>
<path class="c212" d="M1141.5 580.4L1141.5 600"/>
<path class="c213" d="M1113.2 586.2h2.8v8h-2.8z"/>
<path class="c99" d="M1125.9 598.5L1151.7 622.9L1234.6 622.9"/>
<g transform="translate(1194.2 621.5) scale(0.749 1)" fill="#000" stroke="none"><text x="0.00" y="0" font-size="4.60" font-family="Liberation Sans, sans-serif" font-weight="bold" xml:space="preserve">SF-1#</text><text x="12.53" y="0" font-size="4.6" font-weight="bold" font-family="Liberation Sans, Noto Sans CJK SC, sans-serif">組合式新風機組設備</text></g>
<g transform="translate(1151.7 629.4) scale(0.736 1)" fill="#000" stroke="none" font-size="4.6" font-weight="bold" font-family="Liberation Sans, Noto Sans CJK SC, sans-serif"><text x="0" y="0">风量</text><text x="9.20" y="0" font-size="5.80" font-family="Liberation Sans, sans-serif" font-weight="bold" xml:space="preserve">= 20000CMH; </text><text x="47.05" y="0">风压</text><text x="56.25" y="0" font-size="5.80" font-family="Liberation Sans, sans-serif" font-weight="bold" xml:space="preserve">= 350pa, </text><text x="80.90" y="0">功率</text><text x="90.10" y="0" font-size="5.80" font-family="Liberation Sans, sans-serif" font-weight="bold" xml:space="preserve">= 5.5KW</text></g>
<path class="c14" d="M1121 592.3L1158 592.3"/>
<text x="1122" y="591.1" font-size="4.2" fill="#777" text-anchor="start" font-family="Liberation Sans, sans-serif" textLength="35" lengthAdjust="spacingAndGlyphs">YJV3×10+2×6mm2-PC32</text>
<path class="c216" d="M1094.5 610L1101 603.5"/>
<path class="c14" d="M1082.6 612L1094.5 612"/>
<path class="c214" d="M1094.5 615.3h9.3v14.1h-9.3z"/>
<path class="c215" d="M1094.5 629.4L1103.8 615.3"/>
<path class="c124" d="M1066 622.2L1094.5 622.2"/>
<path class="c215" d="M1079 615.3L1094.5 615.3"/>
<path class="c215" d="M1079 629.4L1094.5 629.4"/>
<path class="c11" d="M1103.8 618L1112 636.8L1138.6 636.8"/>
<path class="c14" d="M1112 621.2L1150 621.2"/>
<text x="1113" y="620" font-size="4.2" fill="#777" text-anchor="start" font-family="Liberation Sans, sans-serif" textLength="36" lengthAdjust="spacingAndGlyphs">YJV3×10+1×6mm2-PC32</text>
<path class="c216" d="M1094.5 634L1101 627"/>
<text x="1123" y="635.9" font-size="5.6" fill="#000" text-anchor="start" font-family="Liberation Sans, sans-serif" font-weight="bold" textLength="15.6" lengthAdjust="spacingAndGlyphs">PF-3#</text>
<text transform="translate(1118.4 644.4) scale(0.878 1)" font-size="4.6" fill="#000" font-weight="bold" font-family="Liberation Sans, Noto Sans CJK SC, sans-serif">风机控制箱</text>
<path class="c204" d="M1082 644.6L1117.5 644.6"/>
<text x="1083" y="643.8" font-size="3.8" fill="#777" text-anchor="start" font-family="Liberation Sans, sans-serif" textLength="33" lengthAdjust="spacingAndGlyphs">BVV3*0.75mm2-PC20</text>
<path class="c15" d="M1082 724.8L1098.6 724.8"/>
<path class="c142" d="M1098.6 724.8h66.3v6.7h-66.3z"/>
<text x="1101" y="730" font-size="4.6" fill="#333" text-anchor="start" font-family="Liberation Sans, sans-serif" textLength="47" lengthAdjust="spacingAndGlyphs">GM, 300*200, H=4.0m</text>
<path class="c14" d="M1097.2 774.4L1129.5 774.4"/>
<text x="1098.2" y="773.2" font-size="4.2" fill="#777" text-anchor="start" font-family="Liberation Sans, sans-serif" textLength="30.3" lengthAdjust="spacingAndGlyphs">XJV3*2.5mm2-PC20</text>
<path class="c14" d="M1097.2 774.4L1089.1 788.5L1082 788.5"/>
<path class="c222" d="M1095.1 788.5L1102.2 781"/>
<text x="1122.4" y="781" font-size="5.6" fill="#000" text-anchor="start" font-family="Liberation Sans, sans-serif" font-weight="bold" textLength="13.8" lengthAdjust="spacingAndGlyphs">PF-2#</text>
<text transform="translate(1117.0 789.9) scale(0.835 1)" font-size="4.6" fill="#000" font-weight="bold" font-family="Liberation Sans, Noto Sans CJK SC, sans-serif">风机控制箱</text>
<path class="c11" d="M1137.6 783.4L1109.3 783.4L1097.2 800.6"/>
<path class="c214" d="M1096.1 794.2h6.1v7h-6.1z"/>
<path class="c215" d="M1096.1 801.2L1102.2 794.2"/>
<path class="c204" d="M1117.4 818L1081.4 818L1081.4 805.7L1095.1 805.7L1101.2 800.6"/>
<text x="1082.6" y="817.2" font-size="3.8" fill="#777" text-anchor="start" font-family="Liberation Sans, sans-serif" textLength="33" lengthAdjust="spacingAndGlyphs">BVV3*0.75mm2-PC20</text>
<path class="c201" d="M1079 853 L1012 853 L1012 900.8 L1016.3 900.8 L1016.3 856.4 L1082.4 856.4 Z"/>
<path class="c203" d="M1078.3 849 L1078.3 852.5 L1012 852.5 L1012 900.8 M1082.4 852 L1082.4 856.4 L1016.3 856.4 L1016.3 900.8"/>
<path class="c194" d="M1012 855L1016 852.5"/>
<path class="c15" d="M1012 900.8L999.8 909L957.1 909"/>
<text transform="translate(957.5 908.0) scale(1.029 1)" font-size="3.4" fill="#222" font-family="Liberation Serif, Noto Serif CJK SC, serif">接入地坑</text>
<text transform="translate(1171.1 930.2) scale(0.936 1)" font-size="8.4" fill="#000" font-weight="bold" font-family="Liberation Sans, Noto Sans CJK SC, sans-serif">首层送排风</text>
<path class="c13" d="M1220 924.1h5.7v5.1h-5.7z"/>
<path class="c57" d="M1222.8 922.8L1222.8 931"/>
<text transform="translate(1227.5 930.2) scale(0.938 1)" font-size="8" fill="#000" font-weight="bold" font-family="Liberation Sans, Noto Sans CJK SC, sans-serif">平</text>
<path class="c13" d="M1236 923.6h6.1v7h-6.1z"/>
<path class="c13" d="M1237.6 922.7h3v1.7h-3z"/>
<path class="c13" d="M1244.6 922.7h6.4v7.9h-6.4z"/>
<path class="c89" d="M919.2 679.5h112.7v22.9h-112.7z"/>
<path class="c115" d="M975.5 679.5L975.5 702.4"/>
<path class="c115" d="M994.5 679.5L994.5 702.4"/>
<path class="c115" d="M1013 679.5L1013 702.4"/>
<path class="c223" d="M894 688.6L1071 688.6"/>
<path class="c223" d="M894 692.3L1071 692.3"/>
<path class="c224" d="M948 684.2L1003 684.2"/>
<path class="c56" d="M944.9 681L944.9 687.4L951.3 681L951.3 687.4Z"/>
<circle class="c86" cx="948.1" cy="684.2" r="1.3"/>
<path class="c56" d="M999.9 681L999.9 687.4L1006.3 681L1006.3 687.4Z"/>
<circle class="c86" cx="1003.1" cy="684.2" r="1.3"/>
<path class="c111" d="M961 681.6h5.2v5.2h-5.2z"/>
<circle class="c111" cx="963.6" cy="684.2" r="1.4"/>
<path class="c111" d="M985.3 681.6h5.2v5.2h-5.2z"/>
<circle class="c111" cx="987.9" cy="684.2" r="1.4"/>
<path class="c111" d="M1009 681.6h5.2v5.2h-5.2z"/>
<circle class="c111" cx="1011.6" cy="684.2" r="1.4"/>
<path class="c224" d="M948 697.5L1003 697.5"/>
<path class="c56" d="M944.9 694.3L944.9 700.7L951.3 694.3L951.3 700.7Z"/>
<circle class="c86" cx="948.1" cy="697.5" r="1.3"/>
<path class="c56" d="M999.9 694.3L999.9 700.7L1006.3 694.3L1006.3 700.7Z"/>
<circle class="c86" cx="1003.1" cy="697.5" r="1.3"/>
<path class="c111" d="M961 694.9h5.2v5.2h-5.2z"/>
<circle class="c111" cx="963.6" cy="697.5" r="1.4"/>
<path class="c111" d="M985.3 694.9h5.2v5.2h-5.2z"/>
<circle class="c111" cx="987.9" cy="697.5" r="1.4"/>
<path class="c111" d="M1009 694.9h5.2v5.2h-5.2z"/>
<circle class="c111" cx="1011.6" cy="697.5" r="1.4"/>
<path class="c85" d="M894.3 686.6h7.8v2.2h-7.8z"/>
<path class="c85" d="M894.3 689.7h7.8v2.2h-7.8z"/>
<path class="c85" d="M894.3 692.8h7.8v2.2h-7.8z"/>
<path class="c85" d="M1070.3 686.6h7.8v2.2h-7.8z"/>
<path class="c85" d="M1070.3 689.7h7.8v2.2h-7.8z"/>
<path class="c85" d="M1070.3 692.8h7.8v2.2h-7.8z"/>
<path class="c225" d="M975.8 684.4L975.8 797.6"/>
<path class="c88" d="M974.3 690L974.3 797"/>
<path class="c88" d="M977.3 690L977.3 797"/>
<g transform="translate(979.8 715.5) scale(1.084 1)" fill="#8886c6" stroke="none" font-size="5.8" font-family="Liberation Serif, Noto Serif CJK SC, serif"><text x="0" y="0">洗滌室</text><text x="17.40" y="0" font-size="5.80" font-family="Liberation Serif, sans-serif" xml:space="preserve"> 56</text><text x="24.65" y="0">平</text></g>
<path class="c140" d="M913.1 717.7h121.4v6.1h-121.4z"/>
<path class="c141" d="M915.3 717.7V723.8M917.5 717.7V723.8M919.7 717.7V723.8M921.9 717.7V723.8M924.1 717.7V723.8M926.3 717.7V723.8M928.5 717.7V723.8M930.7 717.7V723.8M932.9 717.7V723.8M935.1 717.7V723.8M937.3 717.7V723.8M939.5 717.7V723.8M941.7 717.7V723.8M943.9 717.7V723.8M946.1 717.7V723.8M948.3 717.7V723.8M950.5 717.7V723.8M952.7 717.7V723.8M954.9 717.7V723.8M957.1 717.7V723.8M959.3 717.7V723.8M961.5 717.7V723.8M963.7 717.7V723.8M965.9 717.7V723.8M968.1 717.7V723.8M970.3 717.7V723.8M972.5 717.7V723.8M974.7 717.7V723.8M976.9 717.7V723.8M979.1 717.7V723.8M981.3 717.7V723.8M983.5 717.7V723.8M985.7 717.7V723.8M987.9 717.7V723.8M990.1 717.7V723.8M992.3 717.7V723.8M994.5 717.7V723.8M996.7 717.7V723.8M998.9 717.7V723.8M1001.1 717.7V723.8M1003.3 717.7V723.8M1005.5 717.7V723.8M1007.7 717.7V723.8M1009.9 717.7V723.8M1012.1 717.7V723.8M1014.3 717.7V723.8M1016.5 717.7V723.8M1018.7 717.7V723.8M1020.9 717.7V723.8M1023.1 717.7V723.8M1025.3 717.7V723.8M1027.5 717.7V723.8M1029.7 717.7V723.8M1031.9 717.7V723.8"/>
<path class="c24" d="M893.6 724.6L1074.9 724.6"/>
<path class="c14" d="M893.6 705 L902 705 M893.6 724 L902.6 724 A9 9 0 0 0 893.6 715"/>
<path class="c14" d="M893.6 736 A10 10 0 0 0 903.6 726"/>
<path class="c14" d="M983.8 737 A10 10 0 0 0 993.8 727"/>
<path class="c80" d="M983.8 727L983.8 737"/>
<path class="c14" d="M893.6 672 A9 9 0 0 0 902.6 663"/>
<text transform="translate(1059.0 669.0)" font-size="3" fill="#8886c6" font-family="Liberation Serif, Noto Serif CJK SC, serif">廢水</text>
<text transform="translate(1059.0 673.4)" font-size="3" fill="#8886c6" font-family="Liberation Serif, Noto Serif CJK SC, serif">處理</text>
<text transform="translate(1059.0 677.8)" font-size="3" fill="#8886c6" font-family="Liberation Serif, Noto Serif CJK SC, serif">設備</text>
<text transform="translate(1066.5 699.6)" font-size="2.6" fill="#222" font-family="Liberation Serif, Noto Serif CJK SC, serif">備件</text>
<text transform="translate(1066.5 703.4)" font-size="2.6" fill="#222" font-family="Liberation Serif, Noto Serif CJK SC, serif">器皿</text>
<text transform="translate(1066.5 707.2)" font-size="2.6" fill="#222" font-family="Liberation Serif, Noto Serif CJK SC, serif">備件</text>
<path class="c23" d="M897.5 743.6h27.1v8.3h-27.1z"/>
<path class="c32" d="M897.5 743.6L924.6 751.9"/>
<path class="c32" d="M897.5 751.9L924.6 743.6"/>
<path class="c23" d="M924.6 743.6h27.1v8.3h-27.1z"/>
<path class="c32" d="M924.6 743.6L951.7 751.9"/>
<path class="c32" d="M924.6 751.9L951.7 743.6"/>
<path class="c23" d="M951.7 743.6h27.1v8.3h-27.1z"/>
<path class="c32" d="M951.7 743.6L978.8 751.9"/>
<path class="c32" d="M951.7 751.9L978.8 743.6"/>
<path class="c23" d="M897.5 751.9h27.1v8.3h-27.1z"/>
<path class="c32" d="M897.5 751.9L924.6 760.2"/>
<path class="c32" d="M897.5 760.2L924.6 751.9"/>
<path class="c23" d="M924.6 751.9h27.1v8.3h-27.1z"/>
<path class="c32" d="M924.6 751.9L951.7 760.2"/>
<path class="c32" d="M924.6 760.2L951.7 751.9"/>
<path class="c23" d="M951.7 751.9h27.1v8.3h-27.1z"/>
<path class="c32" d="M951.7 751.9L978.8 760.2"/>
<path class="c32" d="M951.7 760.2L978.8 751.9"/>
<path class="c23" d="M897.5 776.4h27.1v8.7h-27.1z"/>
<path class="c32" d="M897.5 776.4L924.6 785.1"/>
<path class="c32" d="M897.5 785.1L924.6 776.4"/>
<path class="c23" d="M924.6 776.4h27.1v8.7h-27.1z"/>
<path class="c32" d="M924.6 776.4L951.7 785.1"/>
<path class="c32" d="M924.6 785.1L951.7 776.4"/>
<path class="c23" d="M951.7 776.4h27.1v8.7h-27.1z"/>
<path class="c32" d="M951.7 776.4L978.8 785.1"/>
<path class="c32" d="M951.7 785.1L978.8 776.4"/>
<path class="c23" d="M897.5 785.1h27v8.9h-27z"/>
<path class="c32" d="M897.5 785.1L924.5 794"/>
<path class="c32" d="M897.5 794L924.5 785.1"/>
<path class="c23" d="M924.5 785.1h27v8.9h-27z"/>
<path class="c32" d="M924.5 785.1L951.5 794"/>
<path class="c32" d="M924.5 794L951.5 785.1"/>
<path class="c23" d="M897.5 804.1h27v8.4h-27z"/>
<path class="c32" d="M897.5 804.1L924.5 812.5"/>
<path class="c32" d="M897.5 812.5L924.5 804.1"/>
<path class="c23" d="M924.5 804.1h27v8.4h-27z"/>
<path class="c32" d="M924.5 804.1L951.5 812.5"/>
<path class="c32" d="M924.5 812.5L951.5 804.1"/>
<path class="c23" d="M897.5 812.5h27v8.4h-27z"/>
<path class="c32" d="M897.5 812.5L924.5 820.8"/>
<path class="c32" d="M897.5 820.8L924.5 812.5"/>
<path class="c23" d="M924.5 812.5h27v8.4h-27z"/>
<path class="c32" d="M924.5 812.5L951.5 820.8"/>
<path class="c32" d="M924.5 820.8L951.5 812.5"/>
<path class="c56" d="M935.2 747.9L941.6 747.9L935.2 754.3L941.6 754.3Z"/>
<circle class="c86" cx="938.4" cy="751.1" r="1.3"/>
<path class="c56" d="M935.2 776.2L941.6 776.2L935.2 782.6L941.6 782.6Z"/>
<circle class="c86" cx="938.4" cy="779.4" r="1.3"/>
<path class="c56" d="M922 786.3L928.4 786.3L922 792.7L928.4 792.7Z"/>
<circle class="c86" cx="925.2" cy="789.5" r="1.3"/>
<path class="c226" d="M938.4 751L938.4 779"/>
<path class="c224" d="M938.4 782L938.4 797.6"/>
<path class="c227" d="M925.2 792L925.2 797.6"/>
<path class="c228" d="M929.9 797.6L929.9 841"/>
<g transform="translate(925.8 769.6) scale(1.257 1)" fill="#8886c6" stroke="none" font-size="4.2" font-family="Liberation Serif, Noto Serif CJK SC, serif"><text x="0" y="0">安試劑室</text><text x="16.80" y="0" font-size="4.20" font-family="Liberation Serif, sans-serif" xml:space="preserve"> 30</text><text x="22.05" y="0">平</text></g>
<g transform="translate(921.2 830.2) scale(1.012 1)" fill="#8886c6" stroke="none" font-size="6.2" font-family="Liberation Serif, Noto Serif CJK SC, serif"><text x="0" y="0">无机试剂室</text><text x="31.00" y="0" font-size="6.20" font-family="Liberation Serif, sans-serif" xml:space="preserve"> 25</text><text x="38.75" y="0">平</text></g>
<path class="c24" d="M970.7 799.6L970.7 833"/>
<path class="c24" d="M983.8 737L983.8 784.5"/>
<path class="c24" d="M970.7 820.4L1074.9 820.4"/>
<path class="c24" d="M983.8 785.5L1074.9 785.5"/>
<path class="c25" d="M970.7 833L983 833"/>
<path class="c14" d="M970.7 833 L970.7 845 M983 833 A12 12 0 0 1 970.9 845"/>
<path class="c14" d="M984 784.5 A8 8 0 0 1 976 792.5"/>
<path class="c104" d="M902 840h55.6v5.1h-55.6z"/>
<path class="c229" d="M904 842.6L956 842.6"/>
<path class="c230" d="M908 842.6L956 842.6"/>
<path class="c14" d="M893.6 833 L893.6 845 M905.6 845 A12 12 0 0 0 893.6 833"/>
<path class="c225" d="M1048.6 658L1048.6 792.5"/>
<path class="c108" d="M1046.3 662L1046.3 792.5"/>
<path class="c108" d="M1050.9 662L1050.9 792.5"/>
<path class="c56" d="M1045.3 715.8L1051.9 715.8L1045.3 722.4L1051.9 722.4Z"/>
<circle class="c86" cx="1048.6" cy="719.1" r="1.3"/>
<path class="c56" d="M1045.3 728.2L1051.9 728.2L1045.3 734.8L1051.9 734.8Z"/>
<circle class="c86" cx="1048.6" cy="731.5" r="1.3"/>
<path class="c56" d="M1045.3 777.7L1051.9 777.7L1045.3 784.3L1051.9 784.3Z"/>
<circle class="c86" cx="1048.6" cy="781" r="1.3"/>
<path class="c56" d="M1024.1 785.8L1030.7 785.8L1024.1 792.4L1030.7 792.4Z"/>
<circle class="c86" cx="1027.4" cy="789.1" r="1.3"/>
<path class="c231" d="M1027.4 792L1027.4 843"/>
<path class="c56" d="M1024.1 812.5L1030.7 812.5L1024.1 819.1L1030.7 819.1Z"/>
<circle class="c86" cx="1027.4" cy="815.8" r="1.3"/>
<path class="c56" d="M1024.1 821L1030.7 821L1024.1 827.6L1030.7 827.6Z"/>
<circle class="c86" cx="1027.4" cy="824.3" r="1.3"/>
<path class="c56" d="M1024.1 839.8L1030.7 839.8L1024.1 846.4L1030.7 846.4Z"/>
<circle class="c86" cx="1027.4" cy="843.1" r="1.3"/>
<text transform="translate(1026.4 765.8)" font-size="6" fill="#8886c6" font-family="Liberation Serif, Noto Serif CJK SC, serif">空试剂暫存放室</text>
<g transform="translate(1026.4 775.2)" fill="#8886c6" stroke="none"><text x="0.00" y="0" font-size="5.60" font-family="Liberation Serif, sans-serif" xml:space="preserve">30</text><text x="5.60" y="0" font-size="5.6" font-family="Liberation Serif, Noto Serif CJK SC, serif">平</text></g>
<g transform="translate(1005.8 808.4) scale(1.042 1)" fill="#8886c6" stroke="none" font-size="5.8" font-family="Liberation Serif, Noto Serif CJK SC, serif"><text x="0" y="0">有机廢液室</text><text x="29.00" y="0" font-size="5.80" font-family="Liberation Serif, sans-serif" xml:space="preserve"> 20</text><text x="36.25" y="0">平</text></g>
<g transform="translate(1013.9 839.6)" fill="#8886c6" stroke="none" font-size="6.2" font-family="Liberation Serif, Noto Serif CJK SC, serif"><text x="0" y="0">无机廢液室</text><text x="31.00" y="0" font-size="6.20" font-family="Liberation Serif, sans-serif" xml:space="preserve"> 11</text><text x="38.75" y="0">平</text></g>
<text transform="translate(272.5 463.4) scale(0.875 1)" font-size="12.4" fill="#8c8ac4" font-family="Liberation Serif, Noto Serif CJK SC, serif">图例</text>
<text transform="translate(325.7 463.4) scale(0.855 1)" font-size="12.4" fill="#8c8ac4" font-family="Liberation Serif, Noto Serif CJK SC, serif">说明</text>
<text transform="translate(325.7 485.6) scale(0.892 1)" font-size="12.4" fill="#8c8ac4" font-family="Liberation Serif, Noto Serif CJK SC, serif">二三插</text>
<g transform="translate(325.7 506.2) scale(0.861 1)" fill="#8c8ac4" stroke="none"><text x="0.00" y="0" font-size="12.40" font-family="Liberation Serif, sans-serif" xml:space="preserve">16A</text><text x="21.35" y="0" font-size="12.4" font-family="Liberation Serif, Noto Serif CJK SC, serif">空调插座</text></g>
<text transform="translate(325.7 528.6) scale(0.905 1)" font-size="12.4" fill="#8c8ac4" font-family="Liberation Serif, Noto Serif CJK SC, serif">预留台面引线</text>
<text transform="translate(325.7 551.4) scale(0.906 1)" font-size="12.4" fill="#8c8ac4" font-family="Liberation Serif, Noto Serif CJK SC, serif">天花空调预留引线</text>
<text transform="translate(325.7 573.2) scale(0.914 1)" font-size="12.4" fill="#8c8ac4" font-family="Liberation Serif, Noto Serif CJK SC, serif">三相五线制插座</text>
<text transform="translate(325.7 597.0) scale(0.918 1)" font-size="12.4" fill="#8c8ac4" font-family="Liberation Serif, Noto Serif CJK SC, serif">三相五线制预留引线</text>
<text transform="translate(325.7 621.0) scale(0.914 1)" font-size="12.4" fill="#8c8ac4" font-family="Liberation Serif, Noto Serif CJK SC, serif">地面安装二三插</text>
<text transform="translate(325.7 646.4) scale(0.921 1)" font-size="12.4" fill="#8c8ac4" font-family="Liberation Serif, Noto Serif CJK SC, serif">插座照明配电箱、柜</text>
<text transform="translate(325.7 670.4) scale(0.908 1)" font-size="12.4" fill="#8c8ac4" font-family="Liberation Serif, Noto Serif CJK SC, serif">动力控制配电箱</text>
<text transform="translate(325.7 695.4) scale(0.911 1)" font-size="12.4" fill="#8c8ac4" font-family="Liberation Serif, Noto Serif CJK SC, serif">单位启停开关</text>
<text transform="translate(325.7 719.4) scale(0.911 1)" font-size="12.4" fill="#8c8ac4" font-family="Liberation Serif, Noto Serif CJK SC, serif">两位启停开关</text>
<text transform="translate(325.7 743.8) scale(0.883 1)" font-size="12.4" fill="#8c8ac4" font-family="Liberation Serif, Noto Serif CJK SC, serif">向上引线</text>
<text transform="translate(325.7 766.2) scale(0.883 1)" font-size="12.4" fill="#8c8ac4" font-family="Liberation Serif, Noto Serif CJK SC, serif">向下引线</text>
<text transform="translate(325.7 791.4) scale(0.908 1)" font-size="12.4" fill="#8c8ac4" font-family="Liberation Serif, Noto Serif CJK SC, serif">压差传感器</text>
<path class="c232" d="M280.6 477.3L280.6 481.2"/>
<path class="c233" d="M277.2 481L284 481L285.6 484.6L275.6 484.6Z"/>
<path class="c234" d="M275.2 485L286 485"/>
<path class="c232" d="M280.6 496.7L280.6 500.4"/>
<path class="c235" d="M278 497.2L280.6 498.2"/>
<path class="c233" d="M277.2 500.2L284 500.2L285.6 503.6L275.6 503.6Z"/>
<path class="c234" d="M275.2 504L286 504"/>
<path class="c236" d="M280.6 522.6 Q279.4 526 276.4 528.2 M280.6 522.6 Q282 526 285 528.2"/>
<path class="c236" d="M278.6 520.4L281.8 522.4"/>
<path class="c236" d="M276.8 543.6 Q277.4 547.6 280.6 548.8 Q284 547.6 284.6 543.6 M280.6 548.8 L280.6 553.4"/>
<circle class="c237" cx="280.6" cy="540.2" r=".8"/>
<path class="c232" d="M280.6 563L280.6 567.4"/>
<path class="c233" d="M274.8 567.2L278 568.4L280.6 567L283.4 568.4L286.6 567.2L283.8 572.2L277.6 572.2Z"/>
<path class="c235" d="M276.4 572.6L285 572.6"/>
<path class="c232" d="M280.6 589L280.6 593.2"/>
<path class="c236" d="M276.8 598.4 Q277.4 593.8 280.6 593.2 Q284 593.8 284.6 598.4"/>
<circle class="c238" cx="279.6" cy="599.4" r=".9"/>
<rect class="c236" x="277" y="612.6" width="7.4" height="10" rx="1.4"/>
<path class="c235" d="M277 617.4L284.4 617.4"/>
<path class="c239" d="M279.4 618.8h2.6v2.6h-2.6z"/>
<path class="c240" d="M275.4 638.3h11.5v4.7h-11.5z"/>
<path class="c241" d="M276.8 640.8L285.6 640.8"/>
<path class="c236" d="M275.6 665.6h11.2v5.2h-11.2z"/>
<path class="c235" d="M281 665.6L281 670.8"/>
<path class="c242" d="M277.4 667h2.2v2.4h-2.2z"/>
<circle class="c243" cx="280.2" cy="692" r="1.7"/>
<path class="c244" d="M280.2 692L285 688.2"/>
<circle class="c243" cx="280.2" cy="715.7" r="1.7"/>
<path class="c244" d="M280.2 715.7L285 711.9"/>
<path class="c245" d="M280.2 745.8L288.8 737.6"/>
<path class="c245" d="M273.4 768.3L283 759.3"/>
<circle class="c246" cx="281.4" cy="744.8" r=".8"/>
<circle class="c246" cx="282.2" cy="760.4" r=".8"/>
<path class="c247" d="M277.9 784.3h7.1v6.7h-7.1z"/>
<path class="c248" d="M280 786.4h2.9v2.6h-2.9z"/>
<g transform="translate(316.0 220.6) scale(0.995 1)" fill="#8886c6" stroke="none" font-size="6" font-family="Liberation Serif, Noto Serif CJK SC, serif"><text x="0.00" y="0" font-size="6.00" font-family="Liberation Serif, sans-serif" xml:space="preserve">FD</text><text x="7.67" y="0">冷库</text><text x="19.67" y="0" font-size="6.00" font-family="Liberation Serif, sans-serif" xml:space="preserve"> 33</text><text x="27.17" y="0">平</text></g>
<g transform="translate(476.8 163.0) scale(0.968 1)" fill="#8886c6" stroke="none" font-size="6.2" font-family="Liberation Serif, Noto Serif CJK SC, serif"><text x="0" y="0">冷库</text><text x="12.40" y="0" font-size="6.20" font-family="Liberation Serif, sans-serif" xml:space="preserve">, 31</text><text x="21.70" y="0">平</text><text x="27.90" y="0" font-size="6.20" font-family="Liberation Serif, sans-serif" xml:space="preserve">, </text><text x="31.00" y="0">外径</text></g>
<text x="476.8" y="173.1" font-size="6.2" fill="#8886c6" text-anchor="start" font-family="Liberation Serif, sans-serif" textLength="45" lengthAdjust="spacingAndGlyphs">5200*6000*2400,</text>
<g transform="translate(476.8 183.1) scale(0.985 1)" fill="#8886c6" stroke="none" font-size="6.2" font-family="Liberation Serif, Noto Serif CJK SC, serif"><text x="0.00" y="0" font-size="6.20" font-family="Liberation Serif, sans-serif" xml:space="preserve">-18</text><text x="8.26" y="0">摄氏度</text><text x="26.86" y="0" font-size="6.20" font-family="Liberation Serif, sans-serif" xml:space="preserve">,</text></g>
<text transform="translate(476.8 193.2) scale(0.927 1)" font-size="6.2" fill="#8886c6" font-family="Liberation Serif, Noto Serif CJK SC, serif">需要可以远程监控</text>
<g transform="translate(476.8 203.2) scale(1.032 1)" fill="#8886c6" stroke="none" font-size="6.2" font-family="Liberation Serif, Noto Serif CJK SC, serif"><text x="0.00" y="0" font-size="6.20" font-family="Liberation Serif, sans-serif" xml:space="preserve">10</text><text x="6.20" y="0">平方线</text><text x="24.80" y="0" font-size="6.20" font-family="Liberation Serif, sans-serif" xml:space="preserve">, </text><text x="27.90" y="0">三相四线</text><text x="52.70" y="0" font-size="6.20" font-family="Liberation Serif, sans-serif" xml:space="preserve">,</text></g>
<g transform="translate(476.8 213.2) scale(0.991 1)" fill="#8886c6" stroke="none" font-size="6.2" font-family="Liberation Serif, Noto Serif CJK SC, serif"><text x="0" y="0">天花盖下来留</text><text x="37.20" y="0" font-size="6.20" font-family="Liberation Serif, sans-serif" xml:space="preserve">1.5</text><text x="44.95" y="0">米线头</text></g>
<text transform="translate(314.0 346.4) scale(0.956 1)" font-size="11.4" fill="#8886c6" font-family="Liberation Serif, Noto Serif CJK SC, serif">前臺</text>
<g transform="translate(557.6 240.4) scale(1.008 1)" fill="#8886c6" stroke="none" font-size="6" font-family="Liberation Serif, Noto Serif CJK SC, serif"><text x="0.00" y="0" font-size="6.00" font-family="Liberation Serif, sans-serif" xml:space="preserve">FD</text><text x="7.67" y="0">打樣室</text><text x="25.67" y="0" font-size="6.00" font-family="Liberation Serif, sans-serif" xml:space="preserve"> 33</text><text x="33.17" y="0">平</text></g>
<path class="c249" d="M1054.2 364.1 Q1063.3 366 1063.3 378 L1063.3 424"/>
<path class="c15" d="M1062 386.8 Q1058.7 388 1058.7 394 L1058.7 414.8 L1061.8 421"/>
<path class="c15" d="M1064.8 375.5 Q1068.6 382 1068.6 392 L1068.6 411.8 L1075.4 417.9"/>
<path class="c19" d="M1062 378 Q1071 378.5 1072 384"/>
<path class="c121" d="M1069.3 375.5h5v5.5h-5z"/>
<path class="c122" d="M1070.6 377h2.4v2.5h-2.4z"/>
<path class="c121" d="M1069.3 455.8h5v5.5h-5z"/>
<path class="c122" d="M1070.6 457.3h2.4v2.5h-2.4z"/>
<path class="c121" d="M1069.7 537.7h5v5.5h-5z"/>
<path class="c122" d="M1071 539.2h2.4v2.5h-2.4z"/>
<path class="c121" d="M1069.7 600h5v5.5h-5z"/>
<path class="c122" d="M1071 601.5h2.4v2.5h-2.4z"/>
<path class="c250" d="M1061 480L1061 543.5"/>
<path class="c249" d="M1038 584.8 L1049 584.8 Q1055.2 586 1055.2 594 L1055.2 635.8"/>
<path class="c249" d="M1047.5 580 Q1065.8 582 1065.8 596 L1065.8 642 Q1065.8 650 1061 654"/>
<path class="c15" d="M1044 588 Q1050.4 590 1050.4 598 L1050.4 630"/>
<path class="c15" d="M1058 596 Q1062 600 1062 610 L1062 640"/>
<path class="c124" d="M1061 515.6L1096 515.6"/>
<path class="c124" d="M1068.6 392.9L1093.5 392.9"/>
<path class="c211" d="M1060 486.4 Q1063 488 1063 494 L1063 498"/>
<path class="c251" d="M1065.6 501.8h2.4v2.4h-2.4z"/>
<path class="c252" d="M1059 356L1068 356"/>
<path class="c252" d="M1059 360L1068 360"/>
<path class="c252" d="M1062 483L1071 483"/>
<path class="c252" d="M1062 487L1071 487"/>
<path class="c252" d="M1062 491L1071 491"/>
<path class="c252" d="M1059 577L1068 577"/>
<path class="c252" d="M1059 581L1068 581"/>
<path class="c19" d="M1062 341.4L1086 341.4"/>
<path class="c19" d="M1062 383.8L1086 383.8"/>
<path class="c19" d="M1068.6 421.5L1086 421.5"/>
<path class="c19" d="M1068.6 432.5L1086 432.5"/>
<path class="c19" d="M1060 465.2L1086 465.2"/>
<path class="c19" d="M1060 474.8L1086 474.8"/>
<path class="c19" d="M1060 546.6L1086 546.6"/>
<path class="c19" d="M1060 558.6L1086 558.6"/>
<path class="c19" d="M1057 631.6L1086 631.6"/>
<path class="c19" d="M1057 642.6L1086 642.6"/>
<path class="c139" d="M892.9 386.4L1062 386.4"/>
<path class="c253" d="M923.6 467.1L1060 467.1"/>
</svg>
</body></html>
